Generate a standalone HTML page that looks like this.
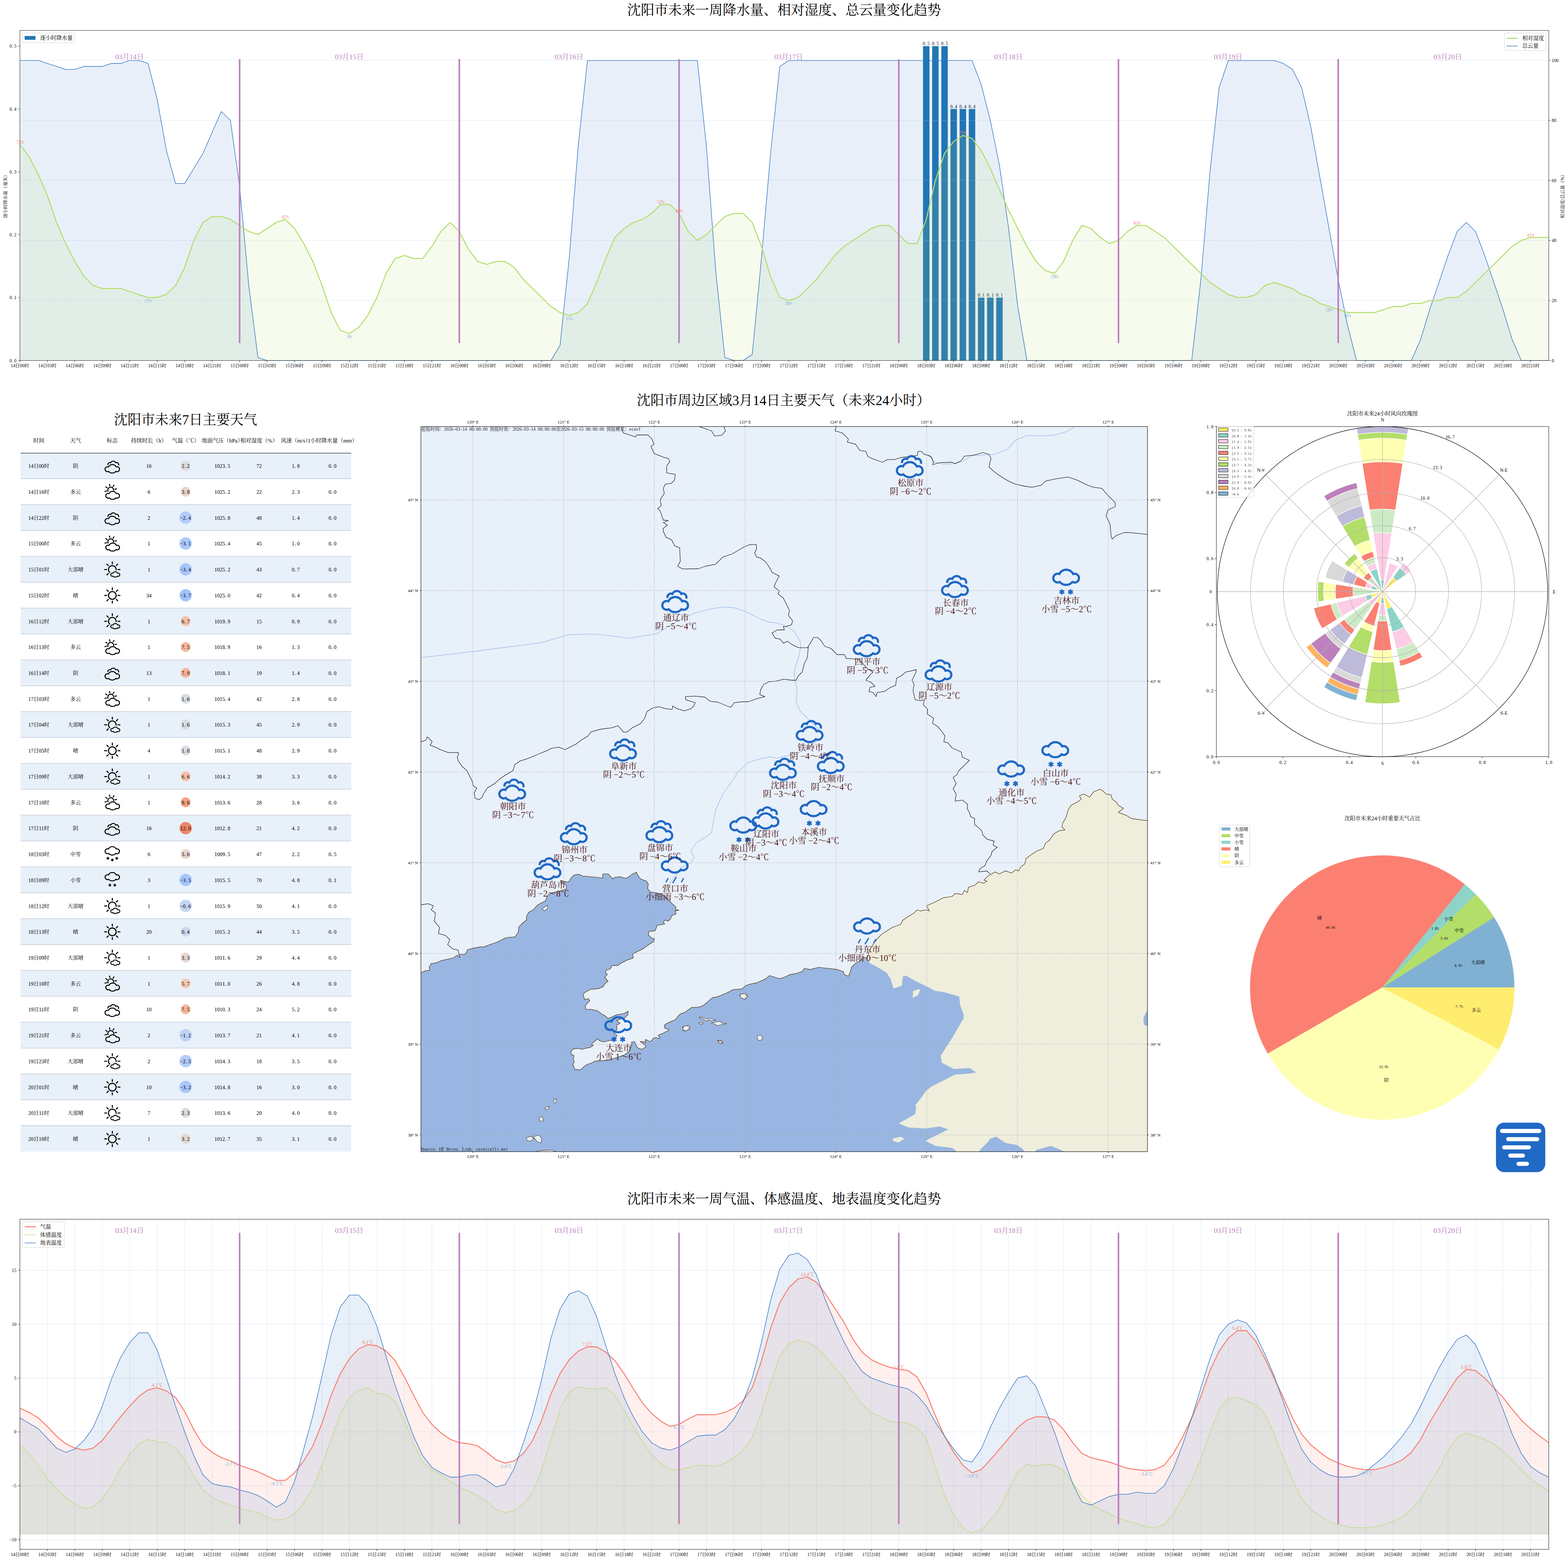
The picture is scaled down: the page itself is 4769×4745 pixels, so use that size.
<!DOCTYPE html><html lang="zh"><head><meta charset="utf-8"><title>沈阳市天气预报</title><style>html,body{margin:0;padding:0;background:#fff}body{width:4769px;height:4745px;overflow:hidden;font-family:"Liberation Serif","Noto Serif CJK SC",serif}svg{display:block}</style></head><body><svg xmlns="http://www.w3.org/2000/svg" width="4769" height="4745" viewBox="0 0 4769 4745" font-family="'Liberation Serif', 'Noto Serif CJK SC', serif" text-anchor="middle"><rect width="4769" height="4745" fill="#fff"/><rect x="2807.3" y="140.3" width="19.6" height="956.2" fill="#1f77b4"/>
<g fill="#000"><text x="2810.1 2815.7 2824.0" y="137.3" font-size="13.9">0.5</text></g>
<rect x="2835.1" y="140.3" width="19.6" height="956.2" fill="#1f77b4"/>
<g fill="#000"><text x="2838.0 2843.5 2851.9" y="137.3" font-size="13.9">0.5</text></g>
<rect x="2863.0" y="140.3" width="19.6" height="956.2" fill="#1f77b4"/>
<g fill="#000"><text x="2865.8 2871.4 2879.7" y="137.3" font-size="13.9">0.5</text></g>
<rect x="2890.8" y="331.5" width="19.6" height="765.0" fill="#1f77b4"/>
<g fill="#000"><text x="2893.7 2899.2 2907.6" y="328.5" font-size="13.9">0.4</text></g>
<rect x="2918.7" y="331.5" width="19.6" height="765.0" fill="#1f77b4"/>
<g fill="#000"><text x="2921.5 2927.1 2935.4" y="328.5" font-size="13.9">0.4</text></g>
<rect x="2946.5" y="331.5" width="19.6" height="765.0" fill="#1f77b4"/>
<g fill="#000"><text x="2949.4 2954.9 2963.3" y="328.5" font-size="13.9">0.4</text></g>
<rect x="2974.4" y="905.3" width="19.6" height="191.2" fill="#1f77b4"/>
<g fill="#000"><text x="2977.2 2982.8 2991.1" y="902.3" font-size="13.9">0.1</text></g>
<rect x="3002.2" y="905.3" width="19.6" height="191.2" fill="#1f77b4"/>
<g fill="#000"><text x="3005.0 3010.6 3018.9" y="902.3" font-size="13.9">0.1</text></g>
<rect x="3030.0" y="905.3" width="19.6" height="191.2" fill="#1f77b4"/>
<g fill="#000"><text x="3032.9 3038.5 3046.8" y="902.3" font-size="13.9">0.1</text></g>
<path d="M60.5,914.0H4710.5M60.5,731.4H4710.5M60.5,548.9H4710.5M60.5,366.3H4710.5M60.5,183.8H4710.5" stroke="#b4cdec" stroke-width="0.75" stroke-dasharray="3 1.3" fill="none"/>
<path d="M60.5,1096.5 60.5,183.8 88.3,183.8 116.2,183.8 144.0,192.9 171.9,202.1 199.7,211.2 227.6,211.2 255.4,202.1 283.3,202.1 311.1,202.1 338.9,192.9 366.8,192.9 394.6,183.8 422.5,183.8 450.3,192.9 478.2,302.5 506.0,457.6 533.9,558.0 561.7,558.0 589.5,512.4 617.4,466.7 645.2,402.8 673.1,339.0 700.9,366.3 728.8,567.1 756.6,868.3 784.5,1087.4 812.3,1096.5 840.1,1096.5 868.0,1096.5 895.8,1096.5 923.7,1096.5 951.5,1096.5 979.4,1096.5 1007.2,1096.5 1035.1,1096.5 1062.9,1096.5 1090.7,1096.5 1118.6,1096.5 1146.4,1096.5 1174.3,1096.5 1202.1,1096.5 1230.0,1096.5 1257.8,1096.5 1285.6,1096.5 1313.5,1096.5 1341.3,1096.5 1369.2,1096.5 1397.0,1096.5 1424.9,1096.5 1452.7,1096.5 1480.6,1096.5 1508.4,1096.5 1536.2,1096.5 1564.1,1096.5 1591.9,1096.5 1619.8,1096.5 1647.6,1096.5 1675.5,1096.5 1703.3,1050.9 1731.2,786.2 1759.0,439.4 1786.8,183.8 1814.7,183.8 1842.5,183.8 1870.4,183.8 1898.2,183.8 1926.1,183.8 1953.9,183.8 1981.8,183.8 2009.6,183.8 2037.4,183.8 2065.3,183.8 2093.1,183.8 2121.0,183.8 2148.8,448.5 2176.7,822.7 2204.5,1087.4 2232.4,1096.5 2260.2,1096.5 2288.0,1078.2 2315.9,786.2 2343.7,466.7 2371.6,202.1 2399.4,183.8 2427.3,183.8 2455.1,183.8 2483.0,183.8 2510.8,183.8 2538.6,183.8 2566.5,183.8 2594.3,183.8 2622.2,183.8 2650.0,183.8 2677.9,183.8 2705.7,183.8 2733.6,183.8 2761.4,183.8 2789.2,183.8 2817.1,183.8 2844.9,183.8 2872.8,183.8 2900.6,183.8 2928.5,183.8 2956.3,183.8 2984.2,256.8 3012.0,366.3 3039.8,503.2 3067.7,694.9 3095.5,932.2 3123.4,1096.5 3151.2,1096.5 3179.1,1096.5 3206.9,1096.5 3234.8,1096.5 3262.6,1096.5 3290.4,1096.5 3318.3,1096.5 3346.1,1096.5 3374.0,1096.5 3401.8,1096.5 3429.7,1096.5 3457.5,1096.5 3485.3,1096.5 3513.2,1096.5 3541.0,1096.5 3568.9,1096.5 3596.7,1096.5 3624.6,1096.5 3652.4,850.1 3680.3,521.5 3708.1,265.9 3735.9,183.8 3763.8,183.8 3791.6,183.8 3819.5,183.8 3847.3,183.8 3875.2,183.8 3903.0,192.9 3930.9,211.2 3958.7,265.9 3986.5,384.6 4014.4,539.8 4042.2,694.9 4070.1,850.1 4097.9,987.0 4125.8,1096.5 4153.6,1096.5 4181.5,1096.5 4209.3,1096.5 4237.1,1096.5 4265.0,1096.5 4292.8,1096.5 4320.7,1032.6 4348.5,941.3 4376.4,859.2 4404.2,777.1 4432.1,704.0 4459.9,676.7 4487.7,704.0 4515.6,777.1 4543.4,859.2 4571.3,941.3 4599.1,1032.6 4627.0,1096.5 4654.8,1096.5 4682.7,1096.5 4710.5,1096.5 4710.5,1096.5Z" fill="#2a6fc4" fill-opacity="0.11"/>
<path d="M60.5,1096.5 60.5,439.4 88.3,475.9 116.2,530.6 144.0,594.5 171.9,676.7 199.7,740.5 227.6,795.3 255.4,840.9 283.3,868.3 311.1,877.5 338.9,877.5 366.8,877.5 394.6,886.6 422.5,895.7 450.3,904.8 478.2,904.8 506.0,895.7 533.9,868.3 561.7,813.6 589.5,731.4 617.4,676.7 645.2,658.4 673.1,658.4 700.9,667.5 728.8,685.8 756.6,704.0 784.5,713.2 812.3,694.9 840.1,676.7 868.0,667.5 895.8,694.9 923.7,740.5 951.5,795.3 979.4,868.3 1007.2,950.5 1035.1,1005.2 1062.9,1014.4 1090.7,996.1 1118.6,959.6 1146.4,904.8 1174.3,831.8 1202.1,786.2 1230.0,777.1 1257.8,786.2 1285.6,786.2 1313.5,749.7 1341.3,704.0 1369.2,676.7 1397.0,704.0 1424.9,758.8 1452.7,795.3 1480.6,804.4 1508.4,795.3 1536.2,795.3 1564.1,813.6 1591.9,850.1 1619.8,877.5 1647.6,904.8 1675.5,932.2 1703.3,950.5 1731.2,959.6 1759.0,950.5 1786.8,923.1 1814.7,859.2 1842.5,786.2 1870.4,722.3 1898.2,694.9 1926.1,676.7 1953.9,667.5 1981.8,649.3 2009.6,621.9 2037.4,621.9 2065.3,649.3 2093.1,704.0 2121.0,731.4 2148.8,713.2 2176.7,685.8 2204.5,658.4 2232.4,649.3 2260.2,649.3 2288.0,676.7 2315.9,749.7 2343.7,840.9 2371.6,904.8 2399.4,914.0 2427.3,904.8 2455.1,877.5 2483.0,850.1 2510.8,813.6 2538.6,777.1 2566.5,749.7 2594.3,731.4 2622.2,713.2 2650.0,694.9 2677.9,685.8 2705.7,685.8 2733.6,713.2 2761.4,740.5 2789.2,740.5 2817.1,667.5 2844.9,548.9 2872.8,466.7 2900.6,430.2 2928.5,412.0 2956.3,421.1 2984.2,457.6 3012.0,512.4 3039.8,576.3 3067.7,640.1 3095.5,694.9 3123.4,749.7 3151.2,795.3 3179.1,822.7 3206.9,831.8 3234.8,795.3 3262.6,731.4 3290.4,685.8 3318.3,694.9 3346.1,722.3 3374.0,740.5 3401.8,731.4 3429.7,704.0 3457.5,685.8 3485.3,685.8 3513.2,704.0 3541.0,722.3 3568.9,749.7 3596.7,777.1 3624.6,804.4 3652.4,831.8 3680.3,859.2 3708.1,877.5 3735.9,895.7 3763.8,904.8 3791.6,904.8 3819.5,895.7 3847.3,868.3 3875.2,859.2 3903.0,868.3 3930.9,877.5 3958.7,895.7 3986.5,904.8 4014.4,923.1 4042.2,932.2 4070.1,941.3 4097.9,950.5 4125.8,950.5 4153.6,950.5 4181.5,950.5 4209.3,941.3 4237.1,932.2 4265.0,932.2 4292.8,923.1 4320.7,923.1 4348.5,914.0 4376.4,914.0 4404.2,904.8 4432.1,904.8 4459.9,886.6 4487.7,859.2 4515.6,831.8 4543.4,804.4 4571.3,777.1 4599.1,749.7 4627.0,731.4 4654.8,722.3 4682.7,722.3 4710.5,722.3 4710.5,1096.5Z" fill="#b3de69" fill-opacity="0.12"/>
<path d="M60.5,183.8 88.3,183.8 116.2,183.8 144.0,192.9 171.9,202.1 199.7,211.2 227.6,211.2 255.4,202.1 283.3,202.1 311.1,202.1 338.9,192.9 366.8,192.9 394.6,183.8 422.5,183.8 450.3,192.9 478.2,302.5 506.0,457.6 533.9,558.0 561.7,558.0 589.5,512.4 617.4,466.7 645.2,402.8 673.1,339.0 700.9,366.3 728.8,567.1 756.6,868.3 784.5,1087.4 812.3,1096.5 840.1,1096.5 868.0,1096.5 895.8,1096.5 923.7,1096.5 951.5,1096.5 979.4,1096.5 1007.2,1096.5 1035.1,1096.5 1062.9,1096.5 1090.7,1096.5 1118.6,1096.5 1146.4,1096.5 1174.3,1096.5 1202.1,1096.5 1230.0,1096.5 1257.8,1096.5 1285.6,1096.5 1313.5,1096.5 1341.3,1096.5 1369.2,1096.5 1397.0,1096.5 1424.9,1096.5 1452.7,1096.5 1480.6,1096.5 1508.4,1096.5 1536.2,1096.5 1564.1,1096.5 1591.9,1096.5 1619.8,1096.5 1647.6,1096.5 1675.5,1096.5 1703.3,1050.9 1731.2,786.2 1759.0,439.4 1786.8,183.8 1814.7,183.8 1842.5,183.8 1870.4,183.8 1898.2,183.8 1926.1,183.8 1953.9,183.8 1981.8,183.8 2009.6,183.8 2037.4,183.8 2065.3,183.8 2093.1,183.8 2121.0,183.8 2148.8,448.5 2176.7,822.7 2204.5,1087.4 2232.4,1096.5 2260.2,1096.5 2288.0,1078.2 2315.9,786.2 2343.7,466.7 2371.6,202.1 2399.4,183.8 2427.3,183.8 2455.1,183.8 2483.0,183.8 2510.8,183.8 2538.6,183.8 2566.5,183.8 2594.3,183.8 2622.2,183.8 2650.0,183.8 2677.9,183.8 2705.7,183.8 2733.6,183.8 2761.4,183.8 2789.2,183.8 2817.1,183.8 2844.9,183.8 2872.8,183.8 2900.6,183.8 2928.5,183.8 2956.3,183.8 2984.2,256.8 3012.0,366.3 3039.8,503.2 3067.7,694.9 3095.5,932.2 3123.4,1096.5 3151.2,1096.5 3179.1,1096.5 3206.9,1096.5 3234.8,1096.5 3262.6,1096.5 3290.4,1096.5 3318.3,1096.5 3346.1,1096.5 3374.0,1096.5 3401.8,1096.5 3429.7,1096.5 3457.5,1096.5 3485.3,1096.5 3513.2,1096.5 3541.0,1096.5 3568.9,1096.5 3596.7,1096.5 3624.6,1096.5 3652.4,850.1 3680.3,521.5 3708.1,265.9 3735.9,183.8 3763.8,183.8 3791.6,183.8 3819.5,183.8 3847.3,183.8 3875.2,183.8 3903.0,192.9 3930.9,211.2 3958.7,265.9 3986.5,384.6 4014.4,539.8 4042.2,694.9 4070.1,850.1 4097.9,987.0 4125.8,1096.5 4153.6,1096.5 4181.5,1096.5 4209.3,1096.5 4237.1,1096.5 4265.0,1096.5 4292.8,1096.5 4320.7,1032.6 4348.5,941.3 4376.4,859.2 4404.2,777.1 4432.1,704.0 4459.9,676.7 4487.7,704.0 4515.6,777.1 4543.4,859.2 4571.3,941.3 4599.1,1032.6 4627.0,1096.5 4654.8,1096.5 4682.7,1096.5 4710.5,1096.5" fill="none" stroke="#2a6fc4" stroke-width="1.6" stroke-linejoin="round"/>
<path d="M60.5,439.4 88.3,475.9 116.2,530.6 144.0,594.5 171.9,676.7 199.7,740.5 227.6,795.3 255.4,840.9 283.3,868.3 311.1,877.5 338.9,877.5 366.8,877.5 394.6,886.6 422.5,895.7 450.3,904.8 478.2,904.8 506.0,895.7 533.9,868.3 561.7,813.6 589.5,731.4 617.4,676.7 645.2,658.4 673.1,658.4 700.9,667.5 728.8,685.8 756.6,704.0 784.5,713.2 812.3,694.9 840.1,676.7 868.0,667.5 895.8,694.9 923.7,740.5 951.5,795.3 979.4,868.3 1007.2,950.5 1035.1,1005.2 1062.9,1014.4 1090.7,996.1 1118.6,959.6 1146.4,904.8 1174.3,831.8 1202.1,786.2 1230.0,777.1 1257.8,786.2 1285.6,786.2 1313.5,749.7 1341.3,704.0 1369.2,676.7 1397.0,704.0 1424.9,758.8 1452.7,795.3 1480.6,804.4 1508.4,795.3 1536.2,795.3 1564.1,813.6 1591.9,850.1 1619.8,877.5 1647.6,904.8 1675.5,932.2 1703.3,950.5 1731.2,959.6 1759.0,950.5 1786.8,923.1 1814.7,859.2 1842.5,786.2 1870.4,722.3 1898.2,694.9 1926.1,676.7 1953.9,667.5 1981.8,649.3 2009.6,621.9 2037.4,621.9 2065.3,649.3 2093.1,704.0 2121.0,731.4 2148.8,713.2 2176.7,685.8 2204.5,658.4 2232.4,649.3 2260.2,649.3 2288.0,676.7 2315.9,749.7 2343.7,840.9 2371.6,904.8 2399.4,914.0 2427.3,904.8 2455.1,877.5 2483.0,850.1 2510.8,813.6 2538.6,777.1 2566.5,749.7 2594.3,731.4 2622.2,713.2 2650.0,694.9 2677.9,685.8 2705.7,685.8 2733.6,713.2 2761.4,740.5 2789.2,740.5 2817.1,667.5 2844.9,548.9 2872.8,466.7 2900.6,430.2 2928.5,412.0 2956.3,421.1 2984.2,457.6 3012.0,512.4 3039.8,576.3 3067.7,640.1 3095.5,694.9 3123.4,749.7 3151.2,795.3 3179.1,822.7 3206.9,831.8 3234.8,795.3 3262.6,731.4 3290.4,685.8 3318.3,694.9 3346.1,722.3 3374.0,740.5 3401.8,731.4 3429.7,704.0 3457.5,685.8 3485.3,685.8 3513.2,704.0 3541.0,722.3 3568.9,749.7 3596.7,777.1 3624.6,804.4 3652.4,831.8 3680.3,859.2 3708.1,877.5 3735.9,895.7 3763.8,904.8 3791.6,904.8 3819.5,895.7 3847.3,868.3 3875.2,859.2 3903.0,868.3 3930.9,877.5 3958.7,895.7 3986.5,904.8 4014.4,923.1 4042.2,932.2 4070.1,941.3 4097.9,950.5 4125.8,950.5 4153.6,950.5 4181.5,950.5 4209.3,941.3 4237.1,932.2 4265.0,932.2 4292.8,923.1 4320.7,923.1 4348.5,914.0 4376.4,914.0 4404.2,904.8 4432.1,904.8 4459.9,886.6 4487.7,859.2 4515.6,831.8 4543.4,804.4 4571.3,777.1 4599.1,749.7 4627.0,731.4 4654.8,722.3 4682.7,722.3 4710.5,722.3" fill="none" stroke="#b3de69" stroke-width="3" stroke-linejoin="round"/>
<rect x="726.4" y="179.7" width="4.8" height="863.8" fill="#bc80bd"/>
<rect x="1394.6" y="179.7" width="4.8" height="863.8" fill="#bc80bd"/>
<rect x="2062.9" y="179.7" width="4.8" height="863.8" fill="#bc80bd"/>
<rect x="2731.2" y="179.7" width="4.8" height="863.8" fill="#bc80bd"/>
<rect x="3399.4" y="179.7" width="4.8" height="863.8" fill="#bc80bd"/>
<rect x="4067.7" y="179.7" width="4.8" height="863.8" fill="#bc80bd"/>
<g fill="#bc80bd" font-size="21.7"><text x="394.0" y="179.8">03月14日</text><text x="1062.2" y="179.8">03月15日</text><text x="1730.5" y="179.8">03月16日</text><text x="2398.7" y="179.8">03月17日</text><text x="3067.0" y="179.8">03月18日</text><text x="3735.3" y="179.8">03月19日</text><text x="4403.5" y="179.8">03月20日</text></g>
<g fill="#fb8072"><text x="53.0 60.5" y="436.8" font-size="15">72</text><text transform="translate(68.0,436.8) scale(0.6,1)" font-size="15">%</text></g>
<g fill="#80b1d3"><text x="442.8 450.3" y="919.2" font-size="15">21</text><text transform="translate(457.8,919.2) scale(0.6,1)" font-size="15">%</text></g>
<g fill="#fb8072"><text x="860.5 868.0" y="664.9" font-size="15">47</text><text transform="translate(875.5,664.9) scale(0.6,1)" font-size="15">%</text></g>
<g fill="#80b1d3"><text x="1059.1" y="1028.8" font-size="15">9</text><text transform="translate(1066.6,1028.8) scale(0.6,1)" font-size="15">%</text></g>
<g fill="#fb8072"><text x="2002.1 2009.6" y="619.3" font-size="15">52</text><text transform="translate(2017.1,619.3) scale(0.6,1)" font-size="15">%</text></g>
<g fill="#80b1d3"><text x="1723.7 1731.2" y="974.0" font-size="15">15</text><text transform="translate(1738.7,974.0) scale(0.6,1)" font-size="15">%</text></g>
<g fill="#fb8072"><text x="2057.8 2065.3" y="646.7" font-size="15">49</text><text transform="translate(2072.8,646.7) scale(0.6,1)" font-size="15">%</text></g>
<g fill="#80b1d3"><text x="2391.9 2399.4" y="928.4" font-size="15">20</text><text transform="translate(2406.9,928.4) scale(0.6,1)" font-size="15">%</text></g>
<g fill="#fb8072"><text x="2921.0 2928.5" y="409.4" font-size="15">75</text><text transform="translate(2936.0,409.4) scale(0.6,1)" font-size="15">%</text></g>
<g fill="#80b1d3"><text x="3199.4 3206.9" y="846.2" font-size="15">29</text><text transform="translate(3214.4,846.2) scale(0.6,1)" font-size="15">%</text></g>
<g fill="#fb8072"><text x="3450.0 3457.5" y="683.2" font-size="15">45</text><text transform="translate(3465.0,683.2) scale(0.6,1)" font-size="15">%</text></g>
<g fill="#80b1d3"><text x="4034.7 4042.2" y="946.6" font-size="15">18</text><text transform="translate(4049.7,946.6) scale(0.6,1)" font-size="15">%</text></g>
<g fill="#fb8072"><text x="4647.3 4654.8" y="719.7" font-size="15">41</text><text transform="translate(4662.3,719.7) scale(0.6,1)" font-size="15">%</text></g>
<g fill="#80b1d3"><text x="4090.4 4097.9" y="964.9" font-size="15">16</text><text transform="translate(4105.4,964.9) scale(0.6,1)" font-size="15">%</text></g>
<rect x="60.5" y="92.5" width="4650.0" height="1004.0" fill="none" stroke="#000" stroke-width="1"/>
<g fill="#000" font-size="13.9"><text x="60.5" y="1117.3">14日00时</text><text x="144.0" y="1117.3">14日03时</text><text x="227.6" y="1117.3">14日06时</text><text x="311.1" y="1117.3">14日09时</text><text x="394.6" y="1117.3">14日12时</text><text x="478.2" y="1117.3">14日15时</text><text x="561.7" y="1117.3">14日18时</text><text x="645.2" y="1117.3">14日21时</text><text x="728.8" y="1117.3">15日00时</text><text x="812.3" y="1117.3">15日03时</text><text x="895.8" y="1117.3">15日06时</text><text x="979.4" y="1117.3">15日09时</text><text x="1062.9" y="1117.3">15日12时</text><text x="1146.4" y="1117.3">15日15时</text><text x="1230.0" y="1117.3">15日18时</text><text x="1313.5" y="1117.3">15日21时</text><text x="1397.0" y="1117.3">16日00时</text><text x="1480.6" y="1117.3">16日03时</text><text x="1564.1" y="1117.3">16日06时</text><text x="1647.6" y="1117.3">16日09时</text><text x="1731.2" y="1117.3">16日12时</text><text x="1814.7" y="1117.3">16日15时</text><text x="1898.2" y="1117.3">16日18时</text><text x="1981.8" y="1117.3">16日21时</text><text x="2065.3" y="1117.3">17日00时</text><text x="2148.8" y="1117.3">17日03时</text><text x="2232.4" y="1117.3">17日06时</text><text x="2315.9" y="1117.3">17日09时</text><text x="2399.4" y="1117.3">17日12时</text><text x="2483.0" y="1117.3">17日15时</text><text x="2566.5" y="1117.3">17日18时</text><text x="2650.0" y="1117.3">17日21时</text><text x="2733.6" y="1117.3">18日00时</text><text x="2817.1" y="1117.3">18日03时</text><text x="2900.6" y="1117.3">18日06时</text><text x="2984.2" y="1117.3">18日09时</text><text x="3067.7" y="1117.3">18日12时</text><text x="3151.2" y="1117.3">18日15时</text><text x="3234.8" y="1117.3">18日18时</text><text x="3318.3" y="1117.3">18日21时</text><text x="3401.8" y="1117.3">19日00时</text><text x="3485.3" y="1117.3">19日03时</text><text x="3568.9" y="1117.3">19日06时</text><text x="3652.4" y="1117.3">19日09时</text><text x="3735.9" y="1117.3">19日12时</text><text x="3819.5" y="1117.3">19日15时</text><text x="3903.0" y="1117.3">19日18时</text><text x="3986.5" y="1117.3">19日21时</text><text x="4070.1" y="1117.3">20日00时</text><text x="4153.6" y="1117.3">20日03时</text><text x="4237.1" y="1117.3">20日06时</text><text x="4320.7" y="1117.3">20日09时</text><text x="4404.2" y="1117.3">20日12时</text><text x="4487.7" y="1117.3">20日15时</text><text x="4571.3" y="1117.3">20日18时</text><text x="4654.8" y="1117.3">20日21时</text></g>
<g fill="#000"><text x="32.6 38.2 46.5" y="1101.5" font-size="13.9">0.0</text></g>
<g fill="#000"><text x="32.6 38.2 46.5" y="910.3" font-size="13.9">0.1</text></g>
<g fill="#000"><text x="32.6 38.2 46.5" y="719.0" font-size="13.9">0.2</text></g>
<g fill="#000"><text x="32.6 38.2 46.5" y="527.8" font-size="13.9">0.3</text></g>
<g fill="#000"><text x="32.6 38.2 46.5" y="336.5" font-size="13.9">0.4</text></g>
<g fill="#000"><text x="32.6 38.2 46.5" y="145.3" font-size="13.9">0.5</text></g>
<g fill="#000"><text x="4723.0" y="1101.5" font-size="13.9">0</text></g>
<g fill="#000"><text x="4723.0 4729.9" y="919.0" font-size="13.9">20</text></g>
<g fill="#000"><text x="4723.0 4729.9" y="736.4" font-size="13.9">40</text></g>
<g fill="#000"><text x="4723.0 4729.9" y="553.9" font-size="13.9">60</text></g>
<g fill="#000"><text x="4723.0 4729.9" y="371.3" font-size="13.9">80</text></g>
<g fill="#000"><text x="4723.0 4729.9 4736.9" y="188.8" font-size="13.9">100</text></g>
<path d="M60.5,1096.5v5M144.0,1096.5v5M227.6,1096.5v5M311.1,1096.5v5M394.6,1096.5v5M478.2,1096.5v5M561.7,1096.5v5M645.2,1096.5v5M728.8,1096.5v5M812.3,1096.5v5M895.8,1096.5v5M979.4,1096.5v5M1062.9,1096.5v5M1146.4,1096.5v5M1230.0,1096.5v5M1313.5,1096.5v5M1397.0,1096.5v5M1480.6,1096.5v5M1564.1,1096.5v5M1647.6,1096.5v5M1731.2,1096.5v5M1814.7,1096.5v5M1898.2,1096.5v5M1981.8,1096.5v5M2065.3,1096.5v5M2148.8,1096.5v5M2232.4,1096.5v5M2315.9,1096.5v5M2399.4,1096.5v5M2483.0,1096.5v5M2566.5,1096.5v5M2650.0,1096.5v5M2733.6,1096.5v5M2817.1,1096.5v5M2900.6,1096.5v5M2984.2,1096.5v5M3067.7,1096.5v5M3151.2,1096.5v5M3234.8,1096.5v5M3318.3,1096.5v5M3401.8,1096.5v5M3485.3,1096.5v5M3568.9,1096.5v5M3652.4,1096.5v5M3735.9,1096.5v5M3819.5,1096.5v5M3903.0,1096.5v5M3986.5,1096.5v5M4070.1,1096.5v5M4153.6,1096.5v5M4237.1,1096.5v5M4320.7,1096.5v5M4404.2,1096.5v5M4487.7,1096.5v5M4571.3,1096.5v5M4654.8,1096.5v5M60.5,1096.5h-5M60.5,905.3h-5M60.5,714.0h-5M60.5,522.8h-5M60.5,331.5h-5M60.5,140.3h-5M4710.5,1096.5h5M4710.5,914.0h5M4710.5,731.4h5M4710.5,548.9h5M4710.5,366.3h5M4710.5,183.8h5" stroke="#000" stroke-width="1.1" fill="none"/>
<g fill="#000" transform="rotate(-90,16.0,594.0)"><text x="16.0" y="599.0" font-size="13.9">逐小时降水量（毫米）</text></g>
<g fill="#000" transform="rotate(-90,4752.0,594.0)"><text x="4752.0" y="599.0" font-size="13.9">相对湿度/总云量（%）</text></g>
<rect x="68.5" y="100.5" width="159" height="29.5" rx="3" fill="#fff" fill-opacity="0.8" stroke="#ccc" stroke-width="1"/>
<rect x="75" y="109.5" width="33" height="11.5" fill="#1f77b4"/>
<g fill="#000"><text x="122.0" y="121.4" font-size="16.5" text-anchor="start">逐小时降水量</text></g>
<rect x="4575.5" y="100.5" width="126.5" height="53" rx="3" fill="#fff" fill-opacity="0.8" stroke="#ccc" stroke-width="1"/>
<path d="M4582,116.5h34" stroke="#b3de69" stroke-width="3"/><path d="M4582,140h34" stroke="#2a6fc4" stroke-width="1.6"/>
<g fill="#000"><text x="4630.0" y="121.9" font-size="16.5" text-anchor="start">相对湿度</text></g>
<g fill="#000"><text x="4630.0" y="145.4" font-size="16.5" text-anchor="start">总云量</text></g>
<g fill="#000"><text x="564.3" y="1291.1" font-size="41.5">沈阳市未来7日主要天气</text></g>
<g fill="#000" font-size="16.7"><text x="118.0" y="1345.6">时间</text><text x="229.7" y="1345.6">天气</text><text x="341.3" y="1345.6">标志</text><text x="453.0" y="1345.6">持续时长（h）</text><text x="564.7" y="1345.6">气温（℃）</text><text x="676.3" y="1345.6">地面气压（hPa）</text><text x="787.9" y="1345.6">相对湿度（%）</text><text x="899.6" y="1345.6">风速（m/s）</text><text x="1011.2" y="1345.6">1小时降水量（mm）</text></g>
<rect x="62.7" y="1377.3" width="1005.6" height="78.7" fill="#e8f0fa"/>
<g fill="#000" font-size="16"><text x="118.0" y="1423.2">14日00时</text><text x="229.7" y="1423.2">阴</text></g>
<g transform="translate(341.6,1426.0) scale(0.0470) translate(-892,-822)" fill="none" stroke="#000" stroke-width="63.8"><path d="M640,700A282,282 0 0 1 1145,700A160,160 0 1 1 1120,990A310,310 0 0 1 655,990A160,160 0 1 1 640,700Z"/><path d="M610,575A130,130 0 0 1 790,430A178,178 0 0 1 1115,430A130,130 0 0 1 1290,600"/></g>
<g fill="#000"><text x="449.0 457.0" y="1423.2" font-size="16">16</text></g>
<circle cx="564.6" cy="1417.0" r="15" fill="#dddcdc"/>
<g fill="#000"><text x="556.6 563.0 572.6" y="1423.2" font-size="16">2.2</text></g>
<g fill="#000"><text x="656.2 664.2 672.2 680.2 686.6 696.2" y="1423.2" font-size="16">1023.5</text></g>
<g fill="#000"><text x="783.9 791.9" y="1423.2" font-size="16">72</text></g>
<g fill="#000"><text x="891.6 898.0 907.6" y="1423.2" font-size="16">1.8</text></g>
<g fill="#000"><text x="1003.2 1009.6 1019.2" y="1423.2" font-size="16">0.0</text></g>
<path d="M62.7,1456.0H1068.3" stroke="#c3ccd6" stroke-width="1.8"/>
<g fill="#000" font-size="16"><text x="118.0" y="1501.9">14日16时</text><text x="229.7" y="1501.9">多云</text></g>
<path d="M329.1,1495.2A8.9,8.9 0 1 1 345.5,1492.6" stroke="#000" stroke-width="3.0" fill="none"/>
<path d="M349.7,1488.0L354.4,1487.0M344.0,1479.7L346.6,1475.7M334.1,1477.9L333.1,1473.2M325.7,1483.6L321.7,1481.0M323.9,1493.5L319.2,1494.5" stroke="#000" stroke-width="3.0" stroke-linecap="round" fill="none"/>
<g transform="translate(342.7,1506.8) scale(0.0445) translate(-892,-822)" fill="none" stroke="#000" stroke-width="67.5"><path d="M640,700A282,282 0 0 1 1145,700A160,160 0 1 1 1120,990A310,310 0 0 1 655,990A160,160 0 1 1 640,700Z"/></g>
<g fill="#000"><text x="453.0" y="1501.9" font-size="16">6</text></g>
<circle cx="564.6" cy="1495.7" r="15" fill="#e9d5cb"/>
<g fill="#000"><text x="556.6 563.0 572.6" y="1501.9" font-size="16">3.8</text></g>
<g fill="#000"><text x="656.2 664.2 672.2 680.2 686.6 696.2" y="1501.9" font-size="16">1025.2</text></g>
<g fill="#000"><text x="783.9 791.9" y="1501.9" font-size="16">22</text></g>
<g fill="#000"><text x="891.6 898.0 907.6" y="1501.9" font-size="16">2.3</text></g>
<g fill="#000"><text x="1003.2 1009.6 1019.2" y="1501.9" font-size="16">0.0</text></g>
<rect x="62.7" y="1534.7" width="1005.6" height="78.7" fill="#e8f0fa"/>
<path d="M62.7,1534.7H1068.3" stroke="#c3ccd6" stroke-width="1.8"/>
<g fill="#000" font-size="16"><text x="118.0" y="1580.7">14日22时</text><text x="229.7" y="1580.7">阴</text></g>
<g transform="translate(341.6,1583.4) scale(0.0470) translate(-892,-822)" fill="none" stroke="#000" stroke-width="63.8"><path d="M640,700A282,282 0 0 1 1145,700A160,160 0 1 1 1120,990A310,310 0 0 1 655,990A160,160 0 1 1 640,700Z"/><path d="M610,575A130,130 0 0 1 790,430A178,178 0 0 1 1115,430A130,130 0 0 1 1290,600"/></g>
<g fill="#000"><text x="453.0" y="1580.7" font-size="16">2</text></g>
<circle cx="564.6" cy="1574.4" r="18.8" fill="#b2ccfb"/>
<g fill="#000"><text x="552.6 560.6 567.0 576.6" y="1580.7" font-size="16">−2.4</text></g>
<g fill="#000"><text x="656.2 664.2 672.2 680.2 686.6 696.2" y="1580.7" font-size="16">1025.8</text></g>
<g fill="#000"><text x="783.9 791.9" y="1580.7" font-size="16">48</text></g>
<g fill="#000"><text x="891.6 898.0 907.6" y="1580.7" font-size="16">1.4</text></g>
<g fill="#000"><text x="1003.2 1009.6 1019.2" y="1580.7" font-size="16">0.0</text></g>
<path d="M62.7,1613.5H1068.3" stroke="#c3ccd6" stroke-width="1.8"/>
<g fill="#000" font-size="16"><text x="118.0" y="1659.4">15日00时</text><text x="229.7" y="1659.4">多云</text></g>
<path d="M329.1,1652.7A8.9,8.9 0 1 1 345.5,1650.1" stroke="#000" stroke-width="3.0" fill="none"/>
<path d="M349.7,1645.5L354.4,1644.5M344.0,1637.1L346.6,1633.1M334.1,1635.3L333.1,1630.6M325.7,1641.0L321.7,1638.4M323.9,1651.0L319.2,1652.0" stroke="#000" stroke-width="3.0" stroke-linecap="round" fill="none"/>
<g transform="translate(342.7,1664.2) scale(0.0445) translate(-892,-822)" fill="none" stroke="#000" stroke-width="67.5"><path d="M640,700A282,282 0 0 1 1145,700A160,160 0 1 1 1120,990A310,310 0 0 1 655,990A160,160 0 1 1 640,700Z"/></g>
<g fill="#000"><text x="453.0" y="1659.4" font-size="16">1</text></g>
<circle cx="564.6" cy="1653.1" r="18.8" fill="#abc8fd"/>
<g fill="#000"><text x="552.6 560.6 567.0 576.6" y="1659.4" font-size="16">−3.1</text></g>
<g fill="#000"><text x="656.2 664.2 672.2 680.2 686.6 696.2" y="1659.4" font-size="16">1025.4</text></g>
<g fill="#000"><text x="783.9 791.9" y="1659.4" font-size="16">45</text></g>
<g fill="#000"><text x="891.6 898.0 907.6" y="1659.4" font-size="16">1.0</text></g>
<g fill="#000"><text x="1003.2 1009.6 1019.2" y="1659.4" font-size="16">0.0</text></g>
<rect x="62.7" y="1692.2" width="1005.6" height="78.7" fill="#e8f0fa"/>
<path d="M62.7,1692.2H1068.3" stroke="#c3ccd6" stroke-width="1.8"/>
<g fill="#000" font-size="16"><text x="118.0" y="1738.1">15日01时</text><text x="229.7" y="1738.1">大部晴</text></g>
<path d="M334.6,1741.7A11.7,11.7 0 1 1 353.0,1734.8" stroke="#000" stroke-width="3.2" fill="none"/>
<path d="M358.8,1732.3L364.8,1732.3M353.8,1720.2L358.0,1715.9M341.6,1715.1L341.6,1709.1M329.4,1720.2L325.2,1715.9M324.4,1732.3L318.4,1732.3M329.4,1744.5L325.2,1748.7" stroke="#000" stroke-width="3.2" stroke-linecap="round" fill="none"/>
<g transform="translate(350.7,1747.4) scale(0.0295) translate(-892,-822)" fill="none" stroke="#000" stroke-width="91.6"><path d="M640,700A282,282 0 0 1 1145,700A160,160 0 1 1 1120,990A310,310 0 0 1 655,990A160,160 0 1 1 640,700Z"/></g>
<g fill="#000"><text x="453.0" y="1738.1" font-size="16">1</text></g>
<circle cx="564.6" cy="1731.8" r="18.8" fill="#a9c6fd"/>
<g fill="#000"><text x="552.6 560.6 567.0 576.6" y="1738.1" font-size="16">−3.4</text></g>
<g fill="#000"><text x="656.2 664.2 672.2 680.2 686.6 696.2" y="1738.1" font-size="16">1025.2</text></g>
<g fill="#000"><text x="783.9 791.9" y="1738.1" font-size="16">43</text></g>
<g fill="#000"><text x="891.6 898.0 907.6" y="1738.1" font-size="16">0.7</text></g>
<g fill="#000"><text x="1003.2 1009.6 1019.2" y="1738.1" font-size="16">0.0</text></g>
<path d="M62.7,1770.9H1068.3" stroke="#c3ccd6" stroke-width="1.8"/>
<g fill="#000" font-size="16"><text x="118.0" y="1816.8">15日02时</text><text x="229.7" y="1816.8">晴</text></g>
<circle cx="341.6" cy="1811.06" r="11.7" fill="none" stroke="#000" stroke-width="3.2"/>
<path d="M358.8,1811.1L364.8,1811.1M353.8,1823.2L358.0,1827.5M341.6,1828.3L341.6,1834.3M329.4,1823.2L325.2,1827.5M324.4,1811.1L318.4,1811.1M329.4,1798.9L325.2,1794.7M341.6,1793.9L341.6,1787.9M353.8,1798.9L358.0,1794.7" stroke="#000" stroke-width="3.2" stroke-linecap="round" fill="none"/>
<g fill="#000"><text x="449.0 457.0" y="1816.8" font-size="16">34</text></g>
<circle cx="564.6" cy="1810.6" r="18.8" fill="#a5c3fe"/>
<g fill="#000"><text x="552.6 560.6 567.0 576.6" y="1816.8" font-size="16">−3.7</text></g>
<g fill="#000"><text x="656.2 664.2 672.2 680.2 686.6 696.2" y="1816.8" font-size="16">1025.0</text></g>
<g fill="#000"><text x="783.9 791.9" y="1816.8" font-size="16">42</text></g>
<g fill="#000"><text x="891.6 898.0 907.6" y="1816.8" font-size="16">0.4</text></g>
<g fill="#000"><text x="1003.2 1009.6 1019.2" y="1816.8" font-size="16">0.0</text></g>
<rect x="62.7" y="1849.6" width="1005.6" height="78.7" fill="#e8f0fa"/>
<path d="M62.7,1849.6H1068.3" stroke="#c3ccd6" stroke-width="1.8"/>
<g fill="#000" font-size="16"><text x="118.0" y="1895.5">16日12时</text><text x="229.7" y="1895.5">大部晴</text></g>
<path d="M334.6,1899.1A11.7,11.7 0 1 1 353.0,1892.2" stroke="#000" stroke-width="3.2" fill="none"/>
<path d="M358.8,1889.8L364.8,1889.8M353.8,1877.6L358.0,1873.4M341.6,1872.6L341.6,1866.6M329.4,1877.6L325.2,1873.4M324.4,1889.8L318.4,1889.8M329.4,1901.9L325.2,1906.2" stroke="#000" stroke-width="3.2" stroke-linecap="round" fill="none"/>
<g transform="translate(350.7,1904.8) scale(0.0295) translate(-892,-822)" fill="none" stroke="#000" stroke-width="91.6"><path d="M640,700A282,282 0 0 1 1145,700A160,160 0 1 1 1120,990A310,310 0 0 1 655,990A160,160 0 1 1 640,700Z"/></g>
<g fill="#000"><text x="453.0" y="1895.5" font-size="16">1</text></g>
<circle cx="564.6" cy="1889.3" r="15" fill="#f5c0a7"/>
<g fill="#000"><text x="556.6 563.0 572.6" y="1895.5" font-size="16">6.7</text></g>
<g fill="#000"><text x="656.2 664.2 672.2 680.2 686.6 696.2" y="1895.5" font-size="16">1019.9</text></g>
<g fill="#000"><text x="783.9 791.9" y="1895.5" font-size="16">15</text></g>
<g fill="#000"><text x="891.6 898.0 907.6" y="1895.5" font-size="16">0.9</text></g>
<g fill="#000"><text x="1003.2 1009.6 1019.2" y="1895.5" font-size="16">0.0</text></g>
<path d="M62.7,1928.3H1068.3" stroke="#c3ccd6" stroke-width="1.8"/>
<g fill="#000" font-size="16"><text x="118.0" y="1974.3">16日13时</text><text x="229.7" y="1974.3">多云</text></g>
<path d="M329.1,1967.5A8.9,8.9 0 1 1 345.5,1965.0" stroke="#000" stroke-width="3.0" fill="none"/>
<path d="M349.7,1960.4L354.4,1959.4M344.0,1952.0L346.6,1948.0M334.1,1950.2L333.1,1945.5M325.7,1955.9L321.7,1953.3M323.9,1965.8L319.2,1966.8" stroke="#000" stroke-width="3.0" stroke-linecap="round" fill="none"/>
<g transform="translate(342.7,1979.1) scale(0.0445) translate(-892,-822)" fill="none" stroke="#000" stroke-width="67.5"><path d="M640,700A282,282 0 0 1 1145,700A160,160 0 1 1 1120,990A310,310 0 0 1 655,990A160,160 0 1 1 640,700Z"/></g>
<g fill="#000"><text x="453.0" y="1974.3" font-size="16">1</text></g>
<circle cx="564.6" cy="1968.0" r="15" fill="#f7b99e"/>
<g fill="#000"><text x="556.6 563.0 572.6" y="1974.3" font-size="16">7.5</text></g>
<g fill="#000"><text x="656.2 664.2 672.2 680.2 686.6 696.2" y="1974.3" font-size="16">1018.9</text></g>
<g fill="#000"><text x="783.9 791.9" y="1974.3" font-size="16">16</text></g>
<g fill="#000"><text x="891.6 898.0 907.6" y="1974.3" font-size="16">1.3</text></g>
<g fill="#000"><text x="1003.2 1009.6 1019.2" y="1974.3" font-size="16">0.0</text></g>
<rect x="62.7" y="2007.1" width="1005.6" height="78.7" fill="#e8f0fa"/>
<path d="M62.7,2007.1H1068.3" stroke="#c3ccd6" stroke-width="1.8"/>
<g fill="#000" font-size="16"><text x="118.0" y="2053.0">16日14时</text><text x="229.7" y="2053.0">阴</text></g>
<g transform="translate(341.6,2055.7) scale(0.0470) translate(-892,-822)" fill="none" stroke="#000" stroke-width="63.8"><path d="M640,700A282,282 0 0 1 1145,700A160,160 0 1 1 1120,990A310,310 0 0 1 655,990A160,160 0 1 1 640,700Z"/><path d="M610,575A130,130 0 0 1 790,430A178,178 0 0 1 1115,430A130,130 0 0 1 1290,600"/></g>
<g fill="#000"><text x="449.0 457.0" y="2053.0" font-size="16">13</text></g>
<circle cx="564.6" cy="2046.7" r="15" fill="#f7b599"/>
<g fill="#000"><text x="556.6 563.0 572.6" y="2053.0" font-size="16">7.9</text></g>
<g fill="#000"><text x="656.2 664.2 672.2 680.2 686.6 696.2" y="2053.0" font-size="16">1018.1</text></g>
<g fill="#000"><text x="783.9 791.9" y="2053.0" font-size="16">19</text></g>
<g fill="#000"><text x="891.6 898.0 907.6" y="2053.0" font-size="16">1.4</text></g>
<g fill="#000"><text x="1003.2 1009.6 1019.2" y="2053.0" font-size="16">0.0</text></g>
<path d="M62.7,2085.8H1068.3" stroke="#c3ccd6" stroke-width="1.8"/>
<g fill="#000" font-size="16"><text x="118.0" y="2131.7">17日03时</text><text x="229.7" y="2131.7">多云</text></g>
<path d="M329.1,2125.0A8.9,8.9 0 1 1 345.5,2122.4" stroke="#000" stroke-width="3.0" fill="none"/>
<path d="M349.7,2117.8L354.4,2116.8M344.0,2109.5L346.6,2105.4M334.1,2107.6L333.1,2102.9M325.7,2113.4L321.7,2110.7M323.9,2123.3L319.2,2124.3" stroke="#000" stroke-width="3.0" stroke-linecap="round" fill="none"/>
<g transform="translate(342.7,2136.5) scale(0.0445) translate(-892,-822)" fill="none" stroke="#000" stroke-width="67.5"><path d="M640,700A282,282 0 0 1 1145,700A160,160 0 1 1 1120,990A310,310 0 0 1 655,990A160,160 0 1 1 640,700Z"/></g>
<g fill="#000"><text x="453.0" y="2131.7" font-size="16">1</text></g>
<circle cx="564.6" cy="2125.4" r="15" fill="#d8dce2"/>
<g fill="#000"><text x="556.6 563.0 572.6" y="2131.7" font-size="16">1.6</text></g>
<g fill="#000"><text x="656.2 664.2 672.2 680.2 686.6 696.2" y="2131.7" font-size="16">1015.4</text></g>
<g fill="#000"><text x="783.9 791.9" y="2131.7" font-size="16">42</text></g>
<g fill="#000"><text x="891.6 898.0 907.6" y="2131.7" font-size="16">2.8</text></g>
<g fill="#000"><text x="1003.2 1009.6 1019.2" y="2131.7" font-size="16">0.0</text></g>
<rect x="62.7" y="2164.5" width="1005.6" height="78.7" fill="#e8f0fa"/>
<path d="M62.7,2164.5H1068.3" stroke="#c3ccd6" stroke-width="1.8"/>
<g fill="#000" font-size="16"><text x="118.0" y="2210.4">17日04时</text><text x="229.7" y="2210.4">大部晴</text></g>
<path d="M334.6,2214.0A11.7,11.7 0 1 1 353.0,2207.1" stroke="#000" stroke-width="3.2" fill="none"/>
<path d="M358.8,2204.7L364.8,2204.7M353.8,2192.5L358.0,2188.3M341.6,2187.5L341.6,2181.5M329.4,2192.5L325.2,2188.3M324.4,2204.7L318.4,2204.7M329.4,2216.8L325.2,2221.1" stroke="#000" stroke-width="3.2" stroke-linecap="round" fill="none"/>
<g transform="translate(350.7,2219.7) scale(0.0295) translate(-892,-822)" fill="none" stroke="#000" stroke-width="91.6"><path d="M640,700A282,282 0 0 1 1145,700A160,160 0 1 1 1120,990A310,310 0 0 1 655,990A160,160 0 1 1 640,700Z"/></g>
<g fill="#000"><text x="453.0" y="2210.4" font-size="16">1</text></g>
<circle cx="564.6" cy="2204.2" r="15" fill="#d8dce2"/>
<g fill="#000"><text x="556.6 563.0 572.6" y="2210.4" font-size="16">1.6</text></g>
<g fill="#000"><text x="656.2 664.2 672.2 680.2 686.6 696.2" y="2210.4" font-size="16">1015.3</text></g>
<g fill="#000"><text x="783.9 791.9" y="2210.4" font-size="16">45</text></g>
<g fill="#000"><text x="891.6 898.0 907.6" y="2210.4" font-size="16">2.9</text></g>
<g fill="#000"><text x="1003.2 1009.6 1019.2" y="2210.4" font-size="16">0.0</text></g>
<path d="M62.7,2243.2H1068.3" stroke="#c3ccd6" stroke-width="1.8"/>
<g fill="#000" font-size="16"><text x="118.0" y="2289.1">17日05时</text><text x="229.7" y="2289.1">晴</text></g>
<circle cx="341.6" cy="2283.38" r="11.7" fill="none" stroke="#000" stroke-width="3.2"/>
<path d="M358.8,2283.4L364.8,2283.4M353.8,2295.5L358.0,2299.8M341.6,2300.6L341.6,2306.6M329.4,2295.5L325.2,2299.8M324.4,2283.4L318.4,2283.4M329.4,2271.2L325.2,2267.0M341.6,2266.2L341.6,2260.2M353.8,2271.2L358.0,2267.0" stroke="#000" stroke-width="3.2" stroke-linecap="round" fill="none"/>
<g fill="#000"><text x="453.0" y="2289.1" font-size="16">4</text></g>
<circle cx="564.6" cy="2282.9" r="15" fill="#d9dce1"/>
<g fill="#000"><text x="556.6 563.0 572.6" y="2289.1" font-size="16">1.8</text></g>
<g fill="#000"><text x="656.2 664.2 672.2 680.2 686.6 696.2" y="2289.1" font-size="16">1015.1</text></g>
<g fill="#000"><text x="783.9 791.9" y="2289.1" font-size="16">48</text></g>
<g fill="#000"><text x="891.6 898.0 907.6" y="2289.1" font-size="16">2.9</text></g>
<g fill="#000"><text x="1003.2 1009.6 1019.2" y="2289.1" font-size="16">0.0</text></g>
<rect x="62.7" y="2321.9" width="1005.6" height="78.7" fill="#e8f0fa"/>
<path d="M62.7,2321.9H1068.3" stroke="#c3ccd6" stroke-width="1.8"/>
<g fill="#000" font-size="16"><text x="118.0" y="2367.9">17日09时</text><text x="229.7" y="2367.9">大部晴</text></g>
<path d="M334.6,2371.4A11.7,11.7 0 1 1 353.0,2364.5" stroke="#000" stroke-width="3.2" fill="none"/>
<path d="M358.8,2362.1L364.8,2362.1M353.8,2349.9L358.0,2345.7M341.6,2344.9L341.6,2338.9M329.4,2349.9L325.2,2345.7M324.4,2362.1L318.4,2362.1M329.4,2374.3L325.2,2378.5" stroke="#000" stroke-width="3.2" stroke-linecap="round" fill="none"/>
<g transform="translate(350.7,2377.2) scale(0.0295) translate(-892,-822)" fill="none" stroke="#000" stroke-width="91.6"><path d="M640,700A282,282 0 0 1 1145,700A160,160 0 1 1 1120,990A310,310 0 0 1 655,990A160,160 0 1 1 640,700Z"/></g>
<g fill="#000"><text x="453.0" y="2367.9" font-size="16">1</text></g>
<circle cx="564.6" cy="2361.6" r="15" fill="#f5c1a9"/>
<g fill="#000"><text x="556.6 563.0 572.6" y="2367.9" font-size="16">6.6</text></g>
<g fill="#000"><text x="656.2 664.2 672.2 680.2 686.6 696.2" y="2367.9" font-size="16">1014.2</text></g>
<g fill="#000"><text x="783.9 791.9" y="2367.9" font-size="16">38</text></g>
<g fill="#000"><text x="891.6 898.0 907.6" y="2367.9" font-size="16">3.3</text></g>
<g fill="#000"><text x="1003.2 1009.6 1019.2" y="2367.9" font-size="16">0.0</text></g>
<path d="M62.7,2400.7H1068.3" stroke="#c3ccd6" stroke-width="1.8"/>
<g fill="#000" font-size="16"><text x="118.0" y="2446.6">17日10时</text><text x="229.7" y="2446.6">多云</text></g>
<path d="M329.1,2439.9A8.9,8.9 0 1 1 345.5,2437.3" stroke="#000" stroke-width="3.0" fill="none"/>
<path d="M349.7,2432.7L354.4,2431.7M344.0,2424.3L346.6,2420.3M334.1,2422.5L333.1,2417.8M325.7,2428.2L321.7,2425.6M323.9,2438.2L319.2,2439.2" stroke="#000" stroke-width="3.0" stroke-linecap="round" fill="none"/>
<g transform="translate(342.7,2451.4) scale(0.0445) translate(-892,-822)" fill="none" stroke="#000" stroke-width="67.5"><path d="M640,700A282,282 0 0 1 1145,700A160,160 0 1 1 1120,990A310,310 0 0 1 655,990A160,160 0 1 1 640,700Z"/></g>
<g fill="#000"><text x="453.0" y="2446.6" font-size="16">1</text></g>
<circle cx="564.6" cy="2440.3" r="15" fill="#f6a283"/>
<g fill="#000"><text x="556.6 563.0 572.6" y="2446.6" font-size="16">9.6</text></g>
<g fill="#000"><text x="656.2 664.2 672.2 680.2 686.6 696.2" y="2446.6" font-size="16">1013.6</text></g>
<g fill="#000"><text x="783.9 791.9" y="2446.6" font-size="16">28</text></g>
<g fill="#000"><text x="891.6 898.0 907.6" y="2446.6" font-size="16">3.6</text></g>
<g fill="#000"><text x="1003.2 1009.6 1019.2" y="2446.6" font-size="16">0.0</text></g>
<rect x="62.7" y="2479.4" width="1005.6" height="78.7" fill="#e8f0fa"/>
<path d="M62.7,2479.4H1068.3" stroke="#c3ccd6" stroke-width="1.8"/>
<g fill="#000" font-size="16"><text x="118.0" y="2525.3">17日11时</text><text x="229.7" y="2525.3">阴</text></g>
<g transform="translate(341.6,2528.0) scale(0.0470) translate(-892,-822)" fill="none" stroke="#000" stroke-width="63.8"><path d="M640,700A282,282 0 0 1 1145,700A160,160 0 1 1 1120,990A310,310 0 0 1 655,990A160,160 0 1 1 640,700Z"/><path d="M610,575A130,130 0 0 1 790,430A178,178 0 0 1 1115,430A130,130 0 0 1 1290,600"/></g>
<g fill="#000"><text x="449.0 457.0" y="2525.3" font-size="16">16</text></g>
<circle cx="564.6" cy="2519.0" r="18.8" fill="#ee8468"/>
<g fill="#000"><text x="552.6 560.6 567.0 576.6" y="2525.3" font-size="16">12.0</text></g>
<g fill="#000"><text x="656.2 664.2 672.2 680.2 686.6 696.2" y="2525.3" font-size="16">1012.8</text></g>
<g fill="#000"><text x="783.9 791.9" y="2525.3" font-size="16">21</text></g>
<g fill="#000"><text x="891.6 898.0 907.6" y="2525.3" font-size="16">4.2</text></g>
<g fill="#000"><text x="1003.2 1009.6 1019.2" y="2525.3" font-size="16">0.0</text></g>
<path d="M62.7,2558.1H1068.3" stroke="#c3ccd6" stroke-width="1.8"/>
<g fill="#000" font-size="16"><text x="118.0" y="2604.0">18日03时</text><text x="229.7" y="2604.0">中雪</text></g>
<g transform="translate(341.6,2588.1) scale(0.0466) translate(-892,-822)" fill="none" stroke="#000" stroke-width="64.3"><path d="M640,700A282,282 0 0 1 1145,700A160,160 0 1 1 1120,990A310,310 0 0 1 655,990A160,160 0 1 1 640,700Z"/></g>
<path d="M328.1,2607.2L328.1,2614.4M325.0,2609.0L331.2,2612.6M331.2,2609.0L325.0,2612.6" stroke="#000" stroke-width="2.2" stroke-linecap="round" fill="none"/>
<path d="M341.6,2612.2L341.6,2619.4M338.5,2614.0L344.7,2617.6M344.7,2614.0L338.5,2617.6" stroke="#000" stroke-width="2.2" stroke-linecap="round" fill="none"/>
<path d="M355.1,2607.2L355.1,2614.4M352.0,2609.0L358.2,2612.6M358.2,2609.0L352.0,2612.6" stroke="#000" stroke-width="2.2" stroke-linecap="round" fill="none"/>
<g fill="#000"><text x="453.0" y="2604.0" font-size="16">6</text></g>
<circle cx="564.6" cy="2597.8" r="15" fill="#e7d7ce"/>
<g fill="#000"><text x="556.6 563.0 572.6" y="2604.0" font-size="16">3.6</text></g>
<g fill="#000"><text x="656.2 664.2 672.2 680.2 686.6 696.2" y="2604.0" font-size="16">1009.5</text></g>
<g fill="#000"><text x="783.9 791.9" y="2604.0" font-size="16">47</text></g>
<g fill="#000"><text x="891.6 898.0 907.6" y="2604.0" font-size="16">2.2</text></g>
<g fill="#000"><text x="1003.2 1009.6 1019.2" y="2604.0" font-size="16">0.5</text></g>
<rect x="62.7" y="2636.8" width="1005.6" height="78.7" fill="#e8f0fa"/>
<path d="M62.7,2636.8H1068.3" stroke="#c3ccd6" stroke-width="1.8"/>
<g fill="#000" font-size="16"><text x="118.0" y="2682.7">18日09时</text><text x="229.7" y="2682.7">小雪</text></g>
<g transform="translate(341.6,2666.8) scale(0.0466) translate(-892,-822)" fill="none" stroke="#000" stroke-width="64.3"><path d="M640,700A282,282 0 0 1 1145,700A160,160 0 1 1 1120,990A310,310 0 0 1 655,990A160,160 0 1 1 640,700Z"/></g>
<path d="M334.1,2688.7L334.1,2695.9M331.0,2690.5L337.2,2694.1M337.2,2690.5L331.0,2694.1" stroke="#000" stroke-width="2.2" stroke-linecap="round" fill="none"/>
<path d="M349.1,2688.7L349.1,2695.9M346.0,2690.5L352.2,2694.1M352.2,2690.5L346.0,2694.1" stroke="#000" stroke-width="2.2" stroke-linecap="round" fill="none"/>
<g fill="#000"><text x="453.0" y="2682.7" font-size="16">3</text></g>
<circle cx="564.6" cy="2676.5" r="18.8" fill="#a7c5fe"/>
<g fill="#000"><text x="552.6 560.6 567.0 576.6" y="2682.7" font-size="16">−3.5</text></g>
<g fill="#000"><text x="656.2 664.2 672.2 680.2 686.6 696.2" y="2682.7" font-size="16">1015.5</text></g>
<g fill="#000"><text x="783.9 791.9" y="2682.7" font-size="16">70</text></g>
<g fill="#000"><text x="891.6 898.0 907.6" y="2682.7" font-size="16">4.8</text></g>
<g fill="#000"><text x="1003.2 1009.6 1019.2" y="2682.7" font-size="16">0.1</text></g>
<path d="M62.7,2715.5H1068.3" stroke="#c3ccd6" stroke-width="1.8"/>
<g fill="#000" font-size="16"><text x="118.0" y="2761.5">18日12时</text><text x="229.7" y="2761.5">大部晴</text></g>
<path d="M334.6,2765.0A11.7,11.7 0 1 1 353.0,2758.1" stroke="#000" stroke-width="3.2" fill="none"/>
<path d="M358.8,2755.7L364.8,2755.7M353.8,2743.5L358.0,2739.3M341.6,2738.5L341.6,2732.5M329.4,2743.5L325.2,2739.3M324.4,2755.7L318.4,2755.7M329.4,2767.9L325.2,2772.1" stroke="#000" stroke-width="3.2" stroke-linecap="round" fill="none"/>
<g transform="translate(350.7,2770.8) scale(0.0295) translate(-892,-822)" fill="none" stroke="#000" stroke-width="91.6"><path d="M640,700A282,282 0 0 1 1145,700A160,160 0 1 1 1120,990A310,310 0 0 1 655,990A160,160 0 1 1 640,700Z"/></g>
<g fill="#000"><text x="453.0" y="2761.5" font-size="16">1</text></g>
<circle cx="564.6" cy="2755.2" r="18.8" fill="#c5d6f2"/>
<g fill="#000"><text x="552.6 560.6 567.0 576.6" y="2761.5" font-size="16">−0.6</text></g>
<g fill="#000"><text x="656.2 664.2 672.2 680.2 686.6 696.2" y="2761.5" font-size="16">1015.9</text></g>
<g fill="#000"><text x="783.9 791.9" y="2761.5" font-size="16">50</text></g>
<g fill="#000"><text x="891.6 898.0 907.6" y="2761.5" font-size="16">4.1</text></g>
<g fill="#000"><text x="1003.2 1009.6 1019.2" y="2761.5" font-size="16">0.0</text></g>
<rect x="62.7" y="2794.3" width="1005.6" height="78.7" fill="#e8f0fa"/>
<path d="M62.7,2794.3H1068.3" stroke="#c3ccd6" stroke-width="1.8"/>
<g fill="#000" font-size="16"><text x="118.0" y="2840.2">18日13时</text><text x="229.7" y="2840.2">晴</text></g>
<circle cx="341.6" cy="2834.4200000000005" r="11.7" fill="none" stroke="#000" stroke-width="3.2"/>
<path d="M358.8,2834.4L364.8,2834.4M353.8,2846.6L358.0,2850.8M341.6,2851.6L341.6,2857.6M329.4,2846.6L325.2,2850.8M324.4,2834.4L318.4,2834.4M329.4,2822.3L325.2,2818.0M341.6,2817.2L341.6,2811.2M353.8,2822.3L358.0,2818.0" stroke="#000" stroke-width="3.2" stroke-linecap="round" fill="none"/>
<g fill="#000"><text x="449.0 457.0" y="2840.2" font-size="16">20</text></g>
<circle cx="564.6" cy="2833.9" r="15" fill="#cdd9ec"/>
<g fill="#000"><text x="556.6 563.0 572.6" y="2840.2" font-size="16">0.4</text></g>
<g fill="#000"><text x="656.2 664.2 672.2 680.2 686.6 696.2" y="2840.2" font-size="16">1015.2</text></g>
<g fill="#000"><text x="783.9 791.9" y="2840.2" font-size="16">44</text></g>
<g fill="#000"><text x="891.6 898.0 907.6" y="2840.2" font-size="16">3.5</text></g>
<g fill="#000"><text x="1003.2 1009.6 1019.2" y="2840.2" font-size="16">0.0</text></g>
<path d="M62.7,2873.0H1068.3" stroke="#c3ccd6" stroke-width="1.8"/>
<g fill="#000" font-size="16"><text x="118.0" y="2918.9">19日09时</text><text x="229.7" y="2918.9">大部晴</text></g>
<path d="M334.6,2922.5A11.7,11.7 0 1 1 353.0,2915.6" stroke="#000" stroke-width="3.2" fill="none"/>
<path d="M358.8,2913.1L364.8,2913.1M353.8,2901.0L358.0,2896.7M341.6,2895.9L341.6,2889.9M329.4,2901.0L325.2,2896.7M324.4,2913.1L318.4,2913.1M329.4,2925.3L325.2,2929.5" stroke="#000" stroke-width="3.2" stroke-linecap="round" fill="none"/>
<g transform="translate(350.7,2928.2) scale(0.0295) translate(-892,-822)" fill="none" stroke="#000" stroke-width="91.6"><path d="M640,700A282,282 0 0 1 1145,700A160,160 0 1 1 1120,990A310,310 0 0 1 655,990A160,160 0 1 1 640,700Z"/></g>
<g fill="#000"><text x="453.0" y="2918.9" font-size="16">1</text></g>
<circle cx="564.6" cy="2912.6" r="15" fill="#e5d8d1"/>
<g fill="#000"><text x="556.6 563.0 572.6" y="2918.9" font-size="16">3.3</text></g>
<g fill="#000"><text x="656.2 664.2 672.2 680.2 686.6 696.2" y="2918.9" font-size="16">1011.6</text></g>
<g fill="#000"><text x="783.9 791.9" y="2918.9" font-size="16">29</text></g>
<g fill="#000"><text x="891.6 898.0 907.6" y="2918.9" font-size="16">4.4</text></g>
<g fill="#000"><text x="1003.2 1009.6 1019.2" y="2918.9" font-size="16">0.0</text></g>
<rect x="62.7" y="2951.7" width="1005.6" height="78.7" fill="#e8f0fa"/>
<path d="M62.7,2951.7H1068.3" stroke="#c3ccd6" stroke-width="1.8"/>
<g fill="#000" font-size="16"><text x="118.0" y="2997.6">19日10时</text><text x="229.7" y="2997.6">多云</text></g>
<path d="M329.1,2990.9A8.9,8.9 0 1 1 345.5,2988.3" stroke="#000" stroke-width="3.0" fill="none"/>
<path d="M349.7,2983.7L354.4,2982.7M344.0,2975.4L346.6,2971.4M334.1,2973.5L333.1,2968.9M325.7,2979.3L321.7,2976.7M323.9,2989.2L319.2,2990.2" stroke="#000" stroke-width="3.0" stroke-linecap="round" fill="none"/>
<g transform="translate(342.7,3002.5) scale(0.0445) translate(-892,-822)" fill="none" stroke="#000" stroke-width="67.5"><path d="M640,700A282,282 0 0 1 1145,700A160,160 0 1 1 1120,990A310,310 0 0 1 655,990A160,160 0 1 1 640,700Z"/></g>
<g fill="#000"><text x="453.0" y="2997.6" font-size="16">1</text></g>
<circle cx="564.6" cy="2991.4" r="15" fill="#f2c9b4"/>
<g fill="#000"><text x="556.6 563.0 572.6" y="2997.6" font-size="16">5.7</text></g>
<g fill="#000"><text x="656.2 664.2 672.2 680.2 686.6 696.2" y="2997.6" font-size="16">1011.0</text></g>
<g fill="#000"><text x="783.9 791.9" y="2997.6" font-size="16">26</text></g>
<g fill="#000"><text x="891.6 898.0 907.6" y="2997.6" font-size="16">4.8</text></g>
<g fill="#000"><text x="1003.2 1009.6 1019.2" y="2997.6" font-size="16">0.0</text></g>
<path d="M62.7,3030.4H1068.3" stroke="#c3ccd6" stroke-width="1.8"/>
<g fill="#000" font-size="16"><text x="118.0" y="3076.3">19日11时</text><text x="229.7" y="3076.3">阴</text></g>
<g transform="translate(341.6,3079.1) scale(0.0470) translate(-892,-822)" fill="none" stroke="#000" stroke-width="63.8"><path d="M640,700A282,282 0 0 1 1145,700A160,160 0 1 1 1120,990A310,310 0 0 1 655,990A160,160 0 1 1 640,700Z"/><path d="M610,575A130,130 0 0 1 790,430A178,178 0 0 1 1115,430A130,130 0 0 1 1290,600"/></g>
<g fill="#000"><text x="449.0 457.0" y="3076.3" font-size="16">10</text></g>
<circle cx="564.6" cy="3070.1" r="15" fill="#f7b99e"/>
<g fill="#000"><text x="556.6 563.0 572.6" y="3076.3" font-size="16">7.5</text></g>
<g fill="#000"><text x="656.2 664.2 672.2 680.2 686.6 696.2" y="3076.3" font-size="16">1010.3</text></g>
<g fill="#000"><text x="783.9 791.9" y="3076.3" font-size="16">24</text></g>
<g fill="#000"><text x="891.6 898.0 907.6" y="3076.3" font-size="16">5.2</text></g>
<g fill="#000"><text x="1003.2 1009.6 1019.2" y="3076.3" font-size="16">0.0</text></g>
<rect x="62.7" y="3109.1" width="1005.6" height="78.7" fill="#e8f0fa"/>
<path d="M62.7,3109.1H1068.3" stroke="#c3ccd6" stroke-width="1.8"/>
<g fill="#000" font-size="16"><text x="118.0" y="3155.1">19日21时</text><text x="229.7" y="3155.1">多云</text></g>
<path d="M329.1,3148.3A8.9,8.9 0 1 1 345.5,3145.8" stroke="#000" stroke-width="3.0" fill="none"/>
<path d="M349.7,3141.2L354.4,3140.2M344.0,3132.8L346.6,3128.8M334.1,3131.0L333.1,3126.3M325.7,3136.7L321.7,3134.1M323.9,3146.6L319.2,3147.6" stroke="#000" stroke-width="3.0" stroke-linecap="round" fill="none"/>
<g transform="translate(342.7,3159.9) scale(0.0445) translate(-892,-822)" fill="none" stroke="#000" stroke-width="67.5"><path d="M640,700A282,282 0 0 1 1145,700A160,160 0 1 1 1120,990A310,310 0 0 1 655,990A160,160 0 1 1 640,700Z"/></g>
<g fill="#000"><text x="453.0" y="3155.1" font-size="16">2</text></g>
<circle cx="564.6" cy="3148.8" r="18.8" fill="#bfd3f6"/>
<g fill="#000"><text x="552.6 560.6 567.0 576.6" y="3155.1" font-size="16">−1.2</text></g>
<g fill="#000"><text x="656.2 664.2 672.2 680.2 686.6 696.2" y="3155.1" font-size="16">1013.7</text></g>
<g fill="#000"><text x="783.9 791.9" y="3155.1" font-size="16">21</text></g>
<g fill="#000"><text x="891.6 898.0 907.6" y="3155.1" font-size="16">4.1</text></g>
<g fill="#000"><text x="1003.2 1009.6 1019.2" y="3155.1" font-size="16">0.0</text></g>
<path d="M62.7,3187.9H1068.3" stroke="#c3ccd6" stroke-width="1.8"/>
<g fill="#000" font-size="16"><text x="118.0" y="3233.8">19日23时</text><text x="229.7" y="3233.8">大部晴</text></g>
<path d="M334.6,3237.4A11.7,11.7 0 1 1 353.0,3230.5" stroke="#000" stroke-width="3.2" fill="none"/>
<path d="M358.8,3228.0L364.8,3228.0M353.8,3215.9L358.0,3211.6M341.6,3210.8L341.6,3204.8M329.4,3215.9L325.2,3211.6M324.4,3228.0L318.4,3228.0M329.4,3240.2L325.2,3244.4" stroke="#000" stroke-width="3.2" stroke-linecap="round" fill="none"/>
<g transform="translate(350.7,3243.1) scale(0.0295) translate(-892,-822)" fill="none" stroke="#000" stroke-width="91.6"><path d="M640,700A282,282 0 0 1 1145,700A160,160 0 1 1 1120,990A310,310 0 0 1 655,990A160,160 0 1 1 640,700Z"/></g>
<g fill="#000"><text x="453.0" y="3233.8" font-size="16">2</text></g>
<circle cx="564.6" cy="3227.5" r="18.8" fill="#b2ccfb"/>
<g fill="#000"><text x="552.6 560.6 567.0 576.6" y="3233.8" font-size="16">−2.5</text></g>
<g fill="#000"><text x="656.2 664.2 672.2 680.2 686.6 696.2" y="3233.8" font-size="16">1014.3</text></g>
<g fill="#000"><text x="783.9 791.9" y="3233.8" font-size="16">18</text></g>
<g fill="#000"><text x="891.6 898.0 907.6" y="3233.8" font-size="16">3.5</text></g>
<g fill="#000"><text x="1003.2 1009.6 1019.2" y="3233.8" font-size="16">0.0</text></g>
<rect x="62.7" y="3266.6" width="1005.6" height="78.7" fill="#e8f0fa"/>
<path d="M62.7,3266.6H1068.3" stroke="#c3ccd6" stroke-width="1.8"/>
<g fill="#000" font-size="16"><text x="118.0" y="3312.5">20日01时</text><text x="229.7" y="3312.5">晴</text></g>
<circle cx="341.6" cy="3306.7400000000002" r="11.7" fill="none" stroke="#000" stroke-width="3.2"/>
<path d="M358.8,3306.7L364.8,3306.7M353.8,3318.9L358.0,3323.1M341.6,3323.9L341.6,3329.9M329.4,3318.9L325.2,3323.1M324.4,3306.7L318.4,3306.7M329.4,3294.6L325.2,3290.3M341.6,3289.5L341.6,3283.5M353.8,3294.6L358.0,3290.3" stroke="#000" stroke-width="3.2" stroke-linecap="round" fill="none"/>
<g fill="#000"><text x="449.0 457.0" y="3312.5" font-size="16">10</text></g>
<circle cx="564.6" cy="3306.2" r="18.8" fill="#aac7fd"/>
<g fill="#000"><text x="552.6 560.6 567.0 576.6" y="3312.5" font-size="16">−3.2</text></g>
<g fill="#000"><text x="656.2 664.2 672.2 680.2 686.6 696.2" y="3312.5" font-size="16">1014.8</text></g>
<g fill="#000"><text x="783.9 791.9" y="3312.5" font-size="16">16</text></g>
<g fill="#000"><text x="891.6 898.0 907.6" y="3312.5" font-size="16">3.0</text></g>
<g fill="#000"><text x="1003.2 1009.6 1019.2" y="3312.5" font-size="16">0.0</text></g>
<path d="M62.7,3345.3H1068.3" stroke="#c3ccd6" stroke-width="1.8"/>
<g fill="#000" font-size="16"><text x="118.0" y="3391.2">20日11时</text><text x="229.7" y="3391.2">大部晴</text></g>
<path d="M334.6,3394.8A11.7,11.7 0 1 1 353.0,3387.9" stroke="#000" stroke-width="3.2" fill="none"/>
<path d="M358.8,3385.5L364.8,3385.5M353.8,3373.3L358.0,3369.1M341.6,3368.3L341.6,3362.3M329.4,3373.3L325.2,3369.1M324.4,3385.5L318.4,3385.5M329.4,3397.6L325.2,3401.9" stroke="#000" stroke-width="3.2" stroke-linecap="round" fill="none"/>
<g transform="translate(350.7,3400.5) scale(0.0295) translate(-892,-822)" fill="none" stroke="#000" stroke-width="91.6"><path d="M640,700A282,282 0 0 1 1145,700A160,160 0 1 1 1120,990A310,310 0 0 1 655,990A160,160 0 1 1 640,700Z"/></g>
<g fill="#000"><text x="453.0" y="3391.2" font-size="16">7</text></g>
<circle cx="564.6" cy="3385.0" r="15" fill="#dddcdc"/>
<g fill="#000"><text x="556.6 563.0 572.6" y="3391.2" font-size="16">2.3</text></g>
<g fill="#000"><text x="656.2 664.2 672.2 680.2 686.6 696.2" y="3391.2" font-size="16">1013.6</text></g>
<g fill="#000"><text x="783.9 791.9" y="3391.2" font-size="16">20</text></g>
<g fill="#000"><text x="891.6 898.0 907.6" y="3391.2" font-size="16">4.0</text></g>
<g fill="#000"><text x="1003.2 1009.6 1019.2" y="3391.2" font-size="16">0.0</text></g>
<rect x="62.7" y="3424.0" width="1005.6" height="78.7" fill="#e8f0fa"/>
<path d="M62.7,3424.0H1068.3" stroke="#c3ccd6" stroke-width="1.8"/>
<g fill="#000" font-size="16"><text x="118.0" y="3469.9">20日18时</text><text x="229.7" y="3469.9">晴</text></g>
<circle cx="341.6" cy="3464.1800000000003" r="11.7" fill="none" stroke="#000" stroke-width="3.2"/>
<path d="M358.8,3464.2L364.8,3464.2M353.8,3476.3L358.0,3480.6M341.6,3481.4L341.6,3487.4M329.4,3476.3L325.2,3480.6M324.4,3464.2L318.4,3464.2M329.4,3452.0L325.2,3447.8M341.6,3447.0L341.6,3441.0M353.8,3452.0L358.0,3447.8" stroke="#000" stroke-width="3.2" stroke-linecap="round" fill="none"/>
<g fill="#000"><text x="453.0" y="3469.9" font-size="16">1</text></g>
<circle cx="564.6" cy="3463.7" r="15" fill="#e4d9d2"/>
<g fill="#000"><text x="556.6 563.0 572.6" y="3469.9" font-size="16">3.2</text></g>
<g fill="#000"><text x="656.2 664.2 672.2 680.2 686.6 696.2" y="3469.9" font-size="16">1012.7</text></g>
<g fill="#000"><text x="783.9 791.9" y="3469.9" font-size="16">35</text></g>
<g fill="#000"><text x="891.6 898.0 907.6" y="3469.9" font-size="16">3.1</text></g>
<g fill="#000"><text x="1003.2 1009.6 1019.2" y="3469.9" font-size="16">0.0</text></g>
<path d="M62.7,1378.4H1068.3" stroke="#000" stroke-width="1.4"/>
<clipPath id="mc"><rect x="1280.3" y="1297.4" width="2209.7" height="2205.6"/></clipPath>
<g clip-path="url(#mc)">
<rect x="1280.3" y="1297.4" width="2209.7" height="2205.6" fill="#e8f0fa"/>
<path d="M1278.3,2958.7 1280.4,2958.7 1294.8,2952.5 1307.3,2951.3 1305.2,2943.0 1311.4,2930.6 1328.0,2928.5 1340.4,2922.3 1359.0,2918.1 1377.7,2914.0 1390.1,2905.7 1399.2,2912.3 1395.1,2902.4 1410.8,2903.6 1419.1,2897.4 1421.1,2889.2 1435.6,2885.0 1460.5,2880.0 1472.9,2880.0 1485.3,2874.7 1510.2,2866.4 1539.2,2851.9 1566.1,2849.8 1576.4,2835.3 1578.5,2818.8 1588.8,2808.4 1601.3,2798.1 1601.3,2787.7 1607.5,2775.3 1622.0,2767.0 1636.5,2751.7 1659.2,2740.1 1665.4,2723.5 1679.9,2715.2 1700.6,2711.1 1713.1,2707.0 1723.4,2702.8 1721.3,2690.4 1708.9,2686.3 1704.8,2678.0 1721.3,2682.1 1729.6,2682.1 1737.9,2669.7 1746.2,2661.4 1760.7,2659.3 1773.1,2664.7 1808.3,2667.6 1833.1,2670.9 1833.1,2658.1 1849.7,2658.1 1864.2,2673.8 1868.3,2668.9 1887.0,2666.8 1903.5,2671.8 1916.0,2664.7 1924.2,2658.1 1935.8,2653.1 1940.0,2663.5 1949.1,2673.8 1965.7,2680.0 1971.9,2688.3 1969.8,2702.8 1978.1,2713.2 1998.8,2716.1 2015.3,2721.4 2027.8,2731.8 2044.3,2748.4 2055.9,2758.7 2054.7,2767.0 2065.0,2768.2 2052.6,2771.1 2056.7,2779.4 2042.3,2785.6 2040.2,2793.9 2031.9,2802.2 2023.6,2798.1 2017.4,2804.3 2021.6,2810.5 1998.8,2814.6 1992.6,2831.2 1973.9,2833.3 1971.9,2843.6 1982.2,2854.0 1990.5,2856.0 1988.4,2864.3 1973.9,2872.6 1957.4,2885.0 1936.7,2895.4 1924.2,2901.6 1926.3,2914.0 1907.7,2920.2 1891.1,2928.5 1878.7,2936.8 1862.1,2936.8 1855.9,2947.1 1843.5,2951.3 1841.4,2959.5 1847.6,2963.7 1839.4,2972.0 1845.6,2980.2 1849.7,2984.4 1839.4,2992.7 1835.2,3001.0 1820.7,3007.2 1795.9,3009.2 1777.2,3020.0 1773.7,3026.4 1778.3,3040.5 1789.3,3037.4 1794.0,3043.6 1780.5,3057.7 1781.5,3070.1 1798.6,3070.1 1817.4,3074.8 1833.0,3085.8 1839.2,3088.9 1850.1,3098.2 1873.6,3087.3 1898.5,3082.6 1910.4,3075.8 1909.5,3087.3 1898.5,3096.7 1886.1,3099.8 1875.1,3104.5 1886.1,3112.3 1875.1,3118.5 1876.7,3131.0 1867.3,3142.0 1876.7,3149.8 1870.4,3159.1 1854.8,3165.4 1836.1,3169.1 1825.2,3166.9 1817.4,3159.8 1811.1,3165.4 1803.3,3171.6 1798.6,3177.9 1804.9,3179.4 1795.5,3185.7 1779.9,3188.8 1769.0,3191.9 1759.6,3188.8 1744.0,3190.3 1736.2,3198.2 1737.8,3207.5 1745.6,3210.6 1744.0,3221.6 1747.1,3230.9 1742.4,3237.2 1748.7,3252.8 1765.9,3254.3 1773.7,3246.5 1783.0,3238.7 1797.1,3234.1 1811.1,3227.2 1829.9,3226.2 1848.6,3224.7 1861.1,3221.6 1879.8,3215.3 1898.5,3209.1 1912.6,3199.7 1922.0,3177.9 1920.4,3170.1 1929.8,3168.5 1934.4,3177.9 1939.1,3187.2 1951.6,3191.9 1962.5,3185.7 1964.1,3181.0 1956.3,3174.7 1946.9,3167.9 1957.9,3168.5 1964.1,3171.6 1962.5,3162.2 1968.8,3163.8 1976.6,3168.5 1981.3,3165.4 1987.5,3157.6 1995.3,3156.0 2004.7,3159.1 2007.8,3156.0 2001.6,3149.8 2006.2,3146.6 2015.6,3143.5 2023.4,3138.8 2034.3,3134.2 2032.8,3131.0 2021.9,3127.9 2020.3,3118.5 2026.5,3113.9 2039.0,3107.6 2054.6,3101.4 2062.4,3090.4 2071.8,3082.6 2082.7,3079.5 2095.2,3070.1 2104.6,3063.9 2117.1,3063.9 2129.6,3062.3 2142.1,3056.1 2154.5,3045.2 2167.0,3034.2 2179.5,3032.7 2195.1,3026.4 2210.7,3020.2 2217.0,3017.1 2229.5,3009.9 2245.1,3009.3 2257.6,3007.7 2266.9,2998.3 2280.0,2993.7 2301.3,2989.3 2329.4,2976.8 2340.0,2967.4 2371.2,2976.8 2386.8,2971.8 2402.4,2964.3 2421.2,2961.2 2439.9,2954.9 2446.1,2945.6 2464.9,2948.7 2489.8,2942.4 2521.0,2945.6 2546.0,2948.7 2564.7,2954.9 2567.9,2964.3 2580.4,2969.3 2586.6,2954.9 2589.7,2942.4 2602.2,2930.0 2614.7,2923.7 2627.2,2911.2 2636.5,2914.4 3492.0,2914.4 3492.0,3505.0 1278.3,3505.0Z" fill="#98b6e1"/>
<path d="M2636.5,2914.4 2645.9,2889.4 2658.4,2867.5 2677.1,2845.7 2689.6,2836.3 2714.6,2820.7 2739.6,2811.3 2745.8,2798.9 2764.5,2786.4 2780.1,2777.0 2789.5,2767.6 2798.9,2770.8 2817.6,2767.6 2827.0,2770.8 2817.6,2755.2 2839.4,2745.8 2870.7,2730.2 2895.6,2727.1 2905.0,2717.7 2926.8,2720.8 2933.1,2708.3 2942.4,2714.6 2945.6,2699.0 2964.3,2692.7 2976.8,2682.1 2992.4,2686.5 3001.8,2680.2 2992.4,2677.1 3004.9,2664.6 3026.7,2652.2 3039.2,2658.4 3057.9,2649.0 3076.7,2655.3 3089.2,2645.9 3098.5,2649.0 3104.8,2636.5 3117.3,2627.2 3120.4,2611.6 3132.9,2602.2 3151.6,2589.7 3173.4,2580.4 3179.7,2564.7 3192.2,2555.4 3204.7,2536.7 3220.3,2527.3 3239.0,2524.2 3229.6,2514.8 3232.7,2502.3 3242.1,2486.7 3248.4,2464.9 3257.7,2449.3 3276.4,2439.9 3288.9,2430.5 3282.7,2421.2 3295.2,2414.9 3313.9,2424.3 3326.4,2408.7 3345.1,2400.6 3354.5,2405.6 3363.9,2414.9 3379.5,2418.0 3382.6,2430.5 3395.1,2439.9 3401.3,2449.3 3416.9,2458.6 3401.3,2471.1 3426.3,2480.5 3441.9,2489.8 3463.7,2493.0 3490.6,2496.1 3492.0,2496.1 3492.0,3505.0 2911.2,3505.0 2911.2,3506.2 2905.0,3498.1 2895.6,3491.8 2845.7,3485.6 2814.5,3470.0 2839.4,3457.5 2884.4,3435.6 2858.2,3426.3 2814.5,3432.5 2764.5,3429.4 2733.3,3416.9 2783.3,3388.8 2786.4,3373.2 2784.5,3360.7 2802.0,3338.9 2814.5,3320.2 2833.2,3304.5 2876.9,3282.7 2905.0,3268.3 2951.8,3265.2 2969.3,3262.1 2948.7,3248.4 2901.9,3251.5 2864.4,3232.7 2861.3,3210.9 2895.6,3157.8 2930.0,3098.5 2931.2,3086.0 2920.6,3057.9 2917.5,3031.1 2870.7,3017.4 2845.7,3014.2 2814.5,2998.6 2777.0,2979.9 2755.2,2967.4 2745.8,2970.5 2742.7,2998.6 2717.7,3006.8 2708.3,2976.8 2695.9,2958.1 2664.6,2939.3 2645.9,2930.0 2636.5,2914.4Z" fill="#efeedc"/>
<path d="M2973.7,3506.2 2989.3,3488.7 3004.9,3473.1 3011.1,3463.7 3029.9,3457.5 3057.9,3476.2 3092.3,3482.5 3111.0,3495.0 3117.3,3506.2 3117.3,3506.0 2973.7,3506.0Z" fill="#98b6e1"/>
<path d="M3145.3,3506.2 3151.6,3498.1 3195.3,3485.6 3220.3,3495.0 3245.2,3506.2 3245.2,3506.0 3145.3,3506.0Z" fill="#98b6e1"/>
<path d="M3490.6,3070.4 3477.5,3095.4 3479.3,3117.3 3490.6,3120.4 3493.0,3120.4 3493.0,3070.4Z" fill="#98b6e1"/>
<path d="M2777.0,3014.2 2798.9,3008.0 2792.6,3026.7 2775.8,3036.1Z" fill="#efeedc"/>
<path d="M2714.6,3463.7 2739.6,3457.5 2750.2,3463.7 2733.3,3475.0 2717.7,3471.2Z" fill="#efeedc"/>
<path d="M1280.6,2000.3 1439.8,1981.6 1645.8,1954.7 1730.1,1930.4 1808.1,1928.5 1914.2,1941.0 1998.5,1927.3 2051.6,1894.2 2114.0,1864.2 2164.0,1851.7 2201.4,1846.1 2232.6,1848.6 2267.0,1859.9 2310.7,1881.7 2338.8,1892.9 2358.7,1894.2 2389.9,1903.6 2414.9,1919.2 2433.6,1950.4 2434.9,1969.1 2430.5,1994.1 2418.0,2031.5 2414.9,2056.5 2424.3,2100.2 2421.2,2137.7 2433.6,2162.6 2464.9,2193.9 2496.1,2225.1 2505.4,2234.4 2483.6,2256.3 2433.6,2287.5 2402.4,2296.9 2361.9,2306.2 2343.8,2301.9 2313.8,2308.1 2276.3,2318.7 2238.9,2353.0 2238.9,2358.7 2198.3,2414.9 2176.4,2464.9 2164.0,2533.5 2117.1,2564.7 2101.5,2586.6 2110.9,2608.4 2101.5,2624.1 2070.3,2639.7 2045.3,2677.1 2032.9,2692.7" fill="none" stroke="#9dbbe6" stroke-width="1.6" stroke-linejoin="round"/>
<path d="M3270.2,1297.4 3242.1,1313.6 3207.8,1323.0 3170.3,1326.1 3123.5,1324.8 3089.2,1338.6 3064.2,1366.7 3023.6,1382.3 2989.3,1383.5 2954.9,1386.6 2926.8,1404.1 2901.9,1410.4 2864.4,1411.6 2839.4,1404.1 2833.2,1388.5 2814.5,1379.1" fill="none" stroke="#9dbbe6" stroke-width="1.6" stroke-linejoin="round"/>
<path d="M2076.5,3123.2 2085.9,3120.1 2095.2,3118.5 2098.3,3123.2 2096.8,3131.0 2089.0,3132.6 2082.7,3136.6 2077.1,3134.2Z" fill="#e8f0fa" stroke="#4a2a08" stroke-width="1.1"/>
<path d="M2126.4,3093.6 2138.9,3095.1 2148.3,3099.8 2163.9,3098.2 2176.4,3102.9 2167.0,3104.5 2154.5,3102.9 2148.3,3106.1 2138.9,3099.8 2129.6,3097.3Z" fill="#e8f0fa" stroke="#4a2a08" stroke-width="1.1"/>
<path d="M2162.3,3112.3 2179.5,3108.5 2192.0,3106.7 2195.1,3112.3 2210.7,3113.9 2192.0,3117.0 2181.1,3120.1 2176.4,3115.4Z" fill="#e8f0fa" stroke="#4a2a08" stroke-width="1.1"/>
<path d="M2249.8,3026.4 2260.7,3022.4 2271.6,3024.9 2273.2,3031.1 2266.9,3038.9 2257.6,3037.4 2252.9,3032.7Z" fill="#e8f0fa" stroke="#4a2a08" stroke-width="1.1"/>
<path d="M2182.6,3165.4 2190.4,3163.8 2198.3,3169.1 2196.7,3174.1 2187.3,3171.6Z" fill="#e8f0fa" stroke="#4a2a08" stroke-width="1.1"/>
<path d="M2124.9,3110.7 2135.8,3109.8 2138.9,3113.9 2129.6,3115.4Z" fill="#e8f0fa" stroke="#4a2a08" stroke-width="1.1"/>
<path d="M1648.9,2764.5 1657.0,2758.3 1665.8,2753.3 1664.5,2764.5 1655.2,2770.8Z" fill="#e8f0fa" stroke="#4a2a08" stroke-width="1.1"/>
<path d="M2251.4,3023.6 2267.0,3022.4 2273.2,3033.0 2263.9,3039.2 2252.6,3034.2Z" fill="#e8f0fa" stroke="#4a2a08" stroke-width="1.1"/>
<path d="M2304.4,3150.3 2315.0,3148.5 2320.0,3161.0 2308.8,3165.3 2302.6,3159.1Z" fill="#e8f0fa" stroke="#4a2a08" stroke-width="1.1"/>
<path d="M2183.9,3165.3 2195.2,3167.2 2198.3,3173.4 2187.7,3172.2Z" fill="#e8f0fa" stroke="#4a2a08" stroke-width="1.1"/>
<path d="M2077.8,3123.5 2089.0,3119.1 2098.4,3127.9 2085.9,3136.0 2076.6,3131.6Z" fill="#e8f0fa" stroke="#4a2a08" stroke-width="1.1"/>
<path d="M1657.0,3370.1 1670.8,3363.9 1667.6,3373.2 1658.3,3375.1Z" fill="#e8f0fa" stroke="#4a2a08" stroke-width="1.1"/>
<path d="M1639.6,3400.1 1648.9,3396.3 1653.3,3408.8 1642.7,3410.7Z" fill="#e8f0fa" stroke="#4a2a08" stroke-width="1.1"/>
<path d="M1600.8,3460.6 1614.6,3456.2 1623.9,3463.7 1613.3,3471.2 1603.3,3468.7Z" fill="#e8f0fa" stroke="#4a2a08" stroke-width="1.1"/>
<path d="M1622.1,3457.5 1639.6,3452.5 1647.0,3463.7 1645.8,3476.2 1634.6,3473.1Z" fill="#e8f0fa" stroke="#4a2a08" stroke-width="1.1"/>
<path d="M1683.3,3346.4 1692.6,3342.0 1690.7,3354.5 1684.5,3354.5Z" fill="#e8f0fa" stroke="#4a2a08" stroke-width="1.1"/>
<path d="M1620.8,3506.2 1639.6,3499.9 1677.0,3498.1 1698.9,3506.2Z" fill="#e8f0fa" stroke="#4a2a08" stroke-width="1.1"/>
<path d="M1280.4,2958.7 1294.8,2952.5 1307.3,2951.3 1305.2,2943.0 1311.4,2930.6 1328.0,2928.5 1340.4,2922.3 1359.0,2918.1 1377.7,2914.0 1390.1,2905.7 1399.2,2912.3 1395.1,2902.4 1410.8,2903.6 1419.1,2897.4 1421.1,2889.2 1435.6,2885.0 1460.5,2880.0 1472.9,2880.0 1485.3,2874.7 1510.2,2866.4 1539.2,2851.9 1566.1,2849.8 1576.4,2835.3 1578.5,2818.8 1588.8,2808.4 1601.3,2798.1 1601.3,2787.7 1607.5,2775.3 1622.0,2767.0 1636.5,2751.7 1659.2,2740.1 1665.4,2723.5 1679.9,2715.2 1700.6,2711.1 1713.1,2707.0 1723.4,2702.8 1721.3,2690.4 1708.9,2686.3 1704.8,2678.0 1721.3,2682.1 1729.6,2682.1 1737.9,2669.7 1746.2,2661.4 1760.7,2659.3 1773.1,2664.7 1808.3,2667.6 1833.1,2670.9 1833.1,2658.1 1849.7,2658.1 1864.2,2673.8 1868.3,2668.9 1887.0,2666.8 1903.5,2671.8 1916.0,2664.7 1924.2,2658.1 1935.8,2653.1 1940.0,2663.5 1949.1,2673.8 1965.7,2680.0 1971.9,2688.3 1969.8,2702.8 1978.1,2713.2 1998.8,2716.1 2015.3,2721.4 2027.8,2731.8 2044.3,2748.4 2055.9,2758.7 2054.7,2767.0 2065.0,2768.2 2052.6,2771.1 2056.7,2779.4 2042.3,2785.6 2040.2,2793.9 2031.9,2802.2 2023.6,2798.1 2017.4,2804.3 2021.6,2810.5 1998.8,2814.6 1992.6,2831.2 1973.9,2833.3 1971.9,2843.6 1982.2,2854.0 1990.5,2856.0 1988.4,2864.3 1973.9,2872.6 1957.4,2885.0 1936.7,2895.4 1924.2,2901.6 1926.3,2914.0 1907.7,2920.2 1891.1,2928.5 1878.7,2936.8 1862.1,2936.8 1855.9,2947.1 1843.5,2951.3 1841.4,2959.5 1847.6,2963.7 1839.4,2972.0 1845.6,2980.2 1849.7,2984.4 1839.4,2992.7 1835.2,3001.0 1820.7,3007.2 1795.9,3009.2 1777.2,3020.0 1773.7,3026.4 1778.3,3040.5 1789.3,3037.4 1794.0,3043.6 1780.5,3057.7 1781.5,3070.1 1798.6,3070.1 1817.4,3074.8 1833.0,3085.8 1839.2,3088.9 1850.1,3098.2 1873.6,3087.3 1898.5,3082.6 1910.4,3075.8 1909.5,3087.3 1898.5,3096.7 1886.1,3099.8 1875.1,3104.5 1886.1,3112.3 1875.1,3118.5 1876.7,3131.0 1867.3,3142.0 1876.7,3149.8 1870.4,3159.1 1854.8,3165.4 1836.1,3169.1 1825.2,3166.9 1817.4,3159.8 1811.1,3165.4 1803.3,3171.6 1798.6,3177.9 1804.9,3179.4 1795.5,3185.7 1779.9,3188.8 1769.0,3191.9 1759.6,3188.8 1744.0,3190.3 1736.2,3198.2 1737.8,3207.5 1745.6,3210.6 1744.0,3221.6 1747.1,3230.9 1742.4,3237.2 1748.7,3252.8 1765.9,3254.3 1773.7,3246.5 1783.0,3238.7 1797.1,3234.1 1811.1,3227.2 1829.9,3226.2 1848.6,3224.7 1861.1,3221.6 1879.8,3215.3 1898.5,3209.1 1912.6,3199.7 1922.0,3177.9 1920.4,3170.1 1929.8,3168.5 1934.4,3177.9 1939.1,3187.2 1951.6,3191.9 1962.5,3185.7 1964.1,3181.0 1956.3,3174.7 1946.9,3167.9 1957.9,3168.5 1964.1,3171.6 1962.5,3162.2 1968.8,3163.8 1976.6,3168.5 1981.3,3165.4 1987.5,3157.6 1995.3,3156.0 2004.7,3159.1 2007.8,3156.0 2001.6,3149.8 2006.2,3146.6 2015.6,3143.5 2023.4,3138.8 2034.3,3134.2 2032.8,3131.0 2021.9,3127.9 2020.3,3118.5 2026.5,3113.9 2039.0,3107.6 2054.6,3101.4 2062.4,3090.4 2071.8,3082.6 2082.7,3079.5 2095.2,3070.1 2104.6,3063.9 2117.1,3063.9 2129.6,3062.3 2142.1,3056.1 2154.5,3045.2 2167.0,3034.2 2179.5,3032.7 2195.1,3026.4 2210.7,3020.2 2217.0,3017.1 2229.5,3009.9 2245.1,3009.3 2257.6,3007.7 2266.9,2998.3 2280.0,2993.7 2301.3,2989.3 2329.4,2976.8 2340.0,2967.4 2371.2,2976.8 2386.8,2971.8 2402.4,2964.3 2421.2,2961.2 2439.9,2954.9 2446.1,2945.6 2464.9,2948.7 2489.8,2942.4 2521.0,2945.6 2546.0,2948.7 2564.7,2954.9 2567.9,2964.3 2580.4,2969.3 2586.6,2954.9 2589.7,2942.4 2602.2,2930.0 2614.7,2923.7 2627.2,2911.2 2636.5,2914.4M2636.5,2914.4 2645.9,2889.4 2658.4,2867.5 2677.1,2845.7 2689.6,2836.3 2714.6,2820.7 2739.6,2811.3 2745.8,2798.9 2764.5,2786.4 2780.1,2777.0 2789.5,2767.6 2798.9,2770.8 2817.6,2767.6 2827.0,2770.8 2817.6,2755.2 2839.4,2745.8 2870.7,2730.2 2895.6,2727.1 2905.0,2717.7 2926.8,2720.8 2933.1,2708.3 2942.4,2714.6 2945.6,2699.0 2964.3,2692.7 2976.8,2682.1 2992.4,2686.5 3001.8,2680.2 2992.4,2677.1 3004.9,2664.6 3026.7,2652.2 3039.2,2658.4 3057.9,2649.0 3076.7,2655.3 3089.2,2645.9 3098.5,2649.0 3104.8,2636.5 3117.3,2627.2 3120.4,2611.6 3132.9,2602.2 3151.6,2589.7 3173.4,2580.4 3179.7,2564.7 3192.2,2555.4 3204.7,2536.7 3220.3,2527.3 3239.0,2524.2 3229.6,2514.8 3232.7,2502.3 3242.1,2486.7 3248.4,2464.9 3257.7,2449.3 3276.4,2439.9 3288.9,2430.5 3282.7,2421.2 3295.2,2414.9 3313.9,2424.3 3326.4,2408.7 3345.1,2400.6 3354.5,2405.6 3363.9,2414.9 3379.5,2418.0 3382.6,2430.5 3395.1,2439.9 3401.3,2449.3 3416.9,2458.6 3401.3,2471.1 3426.3,2480.5 3441.9,2489.8 3463.7,2493.0 3490.6,2496.1" fill="none" stroke="#4a2a08" stroke-width="1.4" stroke-linejoin="round"/>
<path d="M3011.1,2658.4 3001.8,2649.0 2976.8,2652.2 2979.9,2642.8 2995.5,2633.4 3001.8,2617.8 3014.2,2602.2 3017.4,2589.7 3033.0,2577.2 3020.5,2571.0 3023.6,2558.5 3001.8,2552.3 2989.3,2539.8 2986.2,2527.3 2976.8,2517.9 2964.3,2508.6 2964.3,2489.8 2951.8,2483.6 2948.7,2471.1 2942.4,2461.7 2942.4,2446.1 2926.8,2433.6 2905.0,2436.8 2908.1,2414.9 2898.7,2399.3 2908.1,2383.7 2898.7,2365.0 2911.2,2355.6 2914.4,2346.2 2920.6,2340.0 2948.7,2312.5 2926.8,2303.1 2923.7,2287.5 2895.6,2275.0 2883.1,2259.4 2870.7,2256.3 2873.8,2237.6 2864.4,2225.1 2851.9,2209.5 2836.3,2200.1 2839.4,2184.5 2820.7,2172.0 2820.7,2156.4 2808.2,2143.9 2811.3,2128.3 2798.9,2131.4 2783.3,2128.3 2777.0,2100.2 2780.1,2081.5 2773.9,2069.0 2786.4,2044.0 2786.4,2036.5 2770.8,2040.9 2755.2,2044.0 2739.6,2056.5 2727.1,2062.7 2723.9,2084.6 2708.3,2090.8 2689.6,2103.3 2667.8,2106.4 2664.6,2118.9 2655.3,2106.4 2642.8,2103.3 2645.9,2090.8 2661.5,2087.7 2649.0,2075.2 2633.4,2069.0 2645.9,2053.4 2655.3,2044.0 2639.7,2034.7 2630.3,2025.3 2614.7,2006.6 2589.7,2003.4 2574.1,2003.4 2567.9,1991.0 2546.0,1991.0 2527.3,1972.2 2508.6,1966.0 2496.1,1947.3 2486.7,1939.1 2474.2,1939.1 2468.0,1950.4 2458.6,1966.0 2455.5,2000.3 2446.1,2019.0 2439.9,2044.0 2427.4,2056.5 2421.2,2069.0 2408.7,2069.0 2383.7,2065.9 2358.7,2072.1 2340.0,2073.4 2323.2,2081.5 2313.8,2097.1 2310.7,2112.7 2326.3,2118.9 2301.3,2125.2 2276.3,2134.5 2257.6,2134.5 2232.6,2137.7 2228.3,2145.2 2221.3,2151.5 2184.1,2136.0 2159.2,2132.9 2143.7,2120.5 2115.8,2117.4 2084.7,2118.6 2085.9,2128.6 2114.5,2137.3 2109.5,2148.4 2100.2,2155.9 2081.6,2162.1 2059.9,2155.9 2046.2,2147.2 2044.3,2157.8 2025.7,2155.9 2004.0,2149.7 1985.3,2153.4 1967.9,2164.0 1960.5,2185.7 1948.1,2201.2 1923.2,2213.7 1907.7,2226.1 1897.1,2227.3 1879.7,2207.4 1861.1,2213.7 1826.9,2218.0 1797.7,2226.1 1786.6,2240.4 1767.9,2250.9 1752.4,2263.3 1736.9,2270.8 1718.2,2280.1 1699.6,2272.7 1677.9,2275.8 1662.3,2283.8 1640.6,2292.5 1606.4,2306.8 1581.6,2314.9 1566.1,2325.5 1559.9,2344.1 1544.3,2353.4 1531.9,2360.9 1516.4,2372.0 1507.1,2381.4 1482.2,2396.9 1469.8,2415.5 1466.7,2424.8 1457.4,2432.3 1445.0,2427.9 1441.9,2412.4 1449.9,2396.9 1440.0,2390.7 1435.6,2375.1 1426.3,2356.5 1420.1,2344.1 1404.6,2330.4 1394.0,2314.9 1390.9,2302.5 1395.3,2291.3 1392.2,2288.8 1364.2,2289.4 1339.4,2280.1 1323.8,2272.7 1308.3,2266.4 1314.5,2255.3 1299.0,2241.6 1295.9,2250.9 1280.4,2257.1" fill="none" stroke="#000" stroke-width="1.3" stroke-linejoin="round"/>
<path d="M1280.6,2752.0 1302.4,2748.9 1318.0,2755.2 1311.8,2767.6 1324.3,2777.0 1321.2,2802.0 1336.8,2820.7 1333.6,2839.4 1355.5,2845.7 1368.0,2858.2 1361.7,2873.8 1377.3,2886.3 1393.0,2889.4 1396.1,2901.9" fill="none" stroke="#000" stroke-width="1.3" stroke-linejoin="round"/>
<path d="M1889.3,1297.4 1895.5,1316.7 1933.0,1329.2 1936.1,1323.0 1970.4,1323.0 1982.9,1335.4 1989.2,1351.0 1979.8,1357.3 1989.2,1379.1 2020.4,1391.6 2032.9,1394.7 2037.2,1404.1 2027.9,1416.6 2027.9,1438.4 2053.5,1442.8 2051.6,1460.3 2042.2,1469.7 2023.5,1472.8 2017.3,1485.3 2020.4,1500.9 2007.9,1519.6 2011.0,1538.3 2000.4,1546.5 2007.9,1553.9 2017.3,1582.0 2032.9,1583.3 2017.3,1589.5 2029.7,1597.6 2017.3,1607.0 2017.3,1616.4 2026.6,1635.1 2042.2,1641.3 2051.6,1660.1 2067.2,1666.3 2069.1,1706.9 2061.0,1722.5 2076.6,1730.6 2123.4,1730.0 2145.2,1722.5 2176.4,1716.3 2198.3,1694.4 2226.4,1685.0 2263.9,1663.2 2279.5,1657.0 2299.4,1655.7 2301.3,1669.4 2295.1,1681.9 2301.3,1694.4 2313.8,1697.5 2329.4,1710.0 2341.9,1728.7 2348.1,1741.2 2370.0,1751.8 2360.6,1769.3 2354.4,1784.9 2370.0,1797.4 2366.9,1806.8 2382.5,1819.3 2391.8,1838.0 2401.2,1856.7 2398.1,1872.3 2410.6,1887.9 2407.4,1900.4 2388.7,1906.7 2382.5,1905.4 2385.6,1916.0 2363.7,1916.0 2348.1,1925.4 2357.5,1941.0 2373.1,1944.1 2382.5,1956.6 2395.0,1950.4 2407.4,1959.7 2426.2,1969.1 2430.5,1970.4 2455.5,1970.4 2458.6,1966.0" fill="none" stroke="#000" stroke-width="1.3" stroke-linejoin="round"/>
<path d="M2126.5,1297.4 2145.2,1304.2 2164.0,1310.5 2173.3,1326.1 2195.2,1324.2 2206.4,1310.5 2201.4,1297.4" fill="none" stroke="#000" stroke-width="1.3" stroke-linejoin="round"/>
<path d="M2542.9,1297.4 2539.8,1310.5 2561.6,1316.7 2580.4,1335.4 2577.2,1344.8 2602.2,1351.0 2614.7,1369.8 2633.4,1372.9 2639.7,1388.5 2652.2,1394.7 2683.4,1406.0 2699.0,1397.9 2720.8,1397.9 2739.6,1391.6 2789.5,1385.4 2792.6,1372.9 2802.0,1372.9 2811.3,1382.3 2823.8,1385.4 2833.2,1391.6 2839.4,1407.2 2836.3,1413.5 2858.2,1407.2 2895.6,1406.0 2905.0,1410.4 2923.7,1401.0 2933.1,1387.3 2954.9,1385.4 2970.5,1382.3 2989.3,1376.0 3008.0,1382.3 3014.2,1394.7 3008.0,1419.7 3020.5,1432.2 3033.0,1441.6 3051.7,1454.1 3067.3,1463.4 3089.2,1472.8 3117.3,1479.0 3139.1,1482.2 3167.2,1475.9 3179.7,1463.4 3207.8,1457.2 3248.4,1450.9 3276.4,1460.3 3307.7,1475.9 3326.4,1482.2 3351.4,1485.3 3363.9,1500.9 3379.5,1516.5 3391.9,1529.0 3391.9,1541.5 3370.1,1550.8 3363.9,1569.6 3376.3,1594.5 3379.5,1632.0 3382.6,1639.5 3395.1,1628.9 3420.0,1619.5 3445.0,1620.7 3490.6,1625.7" fill="none" stroke="#000" stroke-width="1.3" stroke-linejoin="round"/>
<path d="M1437.9,1297.4V3503.0M1714.0,1297.4V3503.0M1990.1,1297.4V3503.0M2266.2,1297.4V3503.0M2542.3,1297.4V3503.0M2818.4,1297.4V3503.0M3094.5,1297.4V3503.0M3370.6,1297.4V3503.0M1280.3,3452.2H3490.0M1280.3,3176.2H3490.0M1280.3,2900.2H3490.0M1280.3,2624.2H3490.0M1280.3,2348.2H3490.0M1280.3,2072.2H3490.0M1280.3,1796.2H3490.0M1280.3,1520.2H3490.0" stroke="#a6a6a6" stroke-width="0.9" stroke-dasharray="4.5 2.5" fill="none"/>
</g>
<g transform="translate(2053.7,1839.1) scale(0.0833) translate(-892,-822)" fill="none" stroke="#2169c4" stroke-width="80.5"><path d="M640,700A282,282 0 0 1 1145,700A160,160 0 1 1 1120,990A310,310 0 0 1 655,990A160,160 0 1 1 640,700Z"/><path d="M610,575A130,130 0 0 1 790,430A178,178 0 0 1 1115,430A130,130 0 0 1 1290,600"/></g>
<g transform="translate(1895.1,2290.5) scale(0.0833) translate(-892,-822)" fill="none" stroke="#2169c4" stroke-width="80.5"><path d="M640,700A282,282 0 0 1 1145,700A160,160 0 1 1 1120,990A310,310 0 0 1 655,990A160,160 0 1 1 640,700Z"/><path d="M610,575A130,130 0 0 1 790,430A178,178 0 0 1 1115,430A130,130 0 0 1 1290,600"/></g>
<g transform="translate(2767.2,1428.9) scale(0.0833) translate(-892,-822)" fill="none" stroke="#2169c4" stroke-width="80.5"><path d="M640,700A282,282 0 0 1 1145,700A160,160 0 1 1 1120,990A310,310 0 0 1 655,990A160,160 0 1 1 640,700Z"/><path d="M610,575A130,130 0 0 1 790,430A178,178 0 0 1 1115,430A130,130 0 0 1 1290,600"/></g>
<g transform="translate(2904.6,1793.5) scale(0.0833) translate(-892,-822)" fill="none" stroke="#2169c4" stroke-width="80.5"><path d="M640,700A282,282 0 0 1 1145,700A160,160 0 1 1 1120,990A310,310 0 0 1 655,990A160,160 0 1 1 640,700Z"/><path d="M610,575A130,130 0 0 1 790,430A178,178 0 0 1 1115,430A130,130 0 0 1 1290,600"/></g>
<g transform="translate(3242.8,1756.1) scale(0.0833) translate(-892,-822)" fill="none" stroke="#2169c4" stroke-width="80.5"><path d="M640,700A282,282 0 0 1 1145,700A160,160 0 1 1 1120,990A310,310 0 0 1 655,990A160,160 0 1 1 640,700Z"/></g>
<path d="M3229.7,1794.1L3229.7,1806.7M3224.2,1797.2L3235.2,1803.5M3235.2,1797.2L3224.2,1803.5" stroke="#2169c4" stroke-width="4.6" stroke-linecap="round" fill="none"/>
<path d="M3255.9,1794.1L3255.9,1806.7M3250.4,1797.2L3261.4,1803.5M3261.4,1797.2L3250.4,1803.5" stroke="#2169c4" stroke-width="4.6" stroke-linecap="round" fill="none"/>
<g transform="translate(2636.1,1973.3) scale(0.0833) translate(-892,-822)" fill="none" stroke="#2169c4" stroke-width="80.5"><path d="M640,700A282,282 0 0 1 1145,700A160,160 0 1 1 1120,990A310,310 0 0 1 655,990A160,160 0 1 1 640,700Z"/><path d="M610,575A130,130 0 0 1 790,430A178,178 0 0 1 1115,430A130,130 0 0 1 1290,600"/></g>
<g transform="translate(2854.6,2050.1) scale(0.0833) translate(-892,-822)" fill="none" stroke="#2169c4" stroke-width="80.5"><path d="M640,700A282,282 0 0 1 1145,700A160,160 0 1 1 1120,990A310,310 0 0 1 655,990A160,160 0 1 1 640,700Z"/><path d="M610,575A130,130 0 0 1 790,430A178,178 0 0 1 1115,430A130,130 0 0 1 1290,600"/></g>
<g transform="translate(2462.6,2234.3) scale(0.0833) translate(-892,-822)" fill="none" stroke="#2169c4" stroke-width="80.5"><path d="M640,700A282,282 0 0 1 1145,700A160,160 0 1 1 1120,990A310,310 0 0 1 655,990A160,160 0 1 1 640,700Z"/><path d="M610,575A130,130 0 0 1 790,430A178,178 0 0 1 1115,430A130,130 0 0 1 1290,600"/></g>
<g transform="translate(1558.0,2412.9) scale(0.0833) translate(-892,-822)" fill="none" stroke="#2169c4" stroke-width="80.5"><path d="M640,700A282,282 0 0 1 1145,700A160,160 0 1 1 1120,990A310,310 0 0 1 655,990A160,160 0 1 1 640,700Z"/><path d="M610,575A130,130 0 0 1 790,430A178,178 0 0 1 1115,430A130,130 0 0 1 1290,600"/></g>
<g transform="translate(1745.3,2545.2) scale(0.0833) translate(-892,-822)" fill="none" stroke="#2169c4" stroke-width="80.5"><path d="M640,700A282,282 0 0 1 1145,700A160,160 0 1 1 1120,990A310,310 0 0 1 655,990A160,160 0 1 1 640,700Z"/><path d="M610,575A130,130 0 0 1 790,430A178,178 0 0 1 1115,430A130,130 0 0 1 1290,600"/></g>
<g transform="translate(2005.6,2539.0) scale(0.0833) translate(-892,-822)" fill="none" stroke="#2169c4" stroke-width="80.5"><path d="M640,700A282,282 0 0 1 1145,700A160,160 0 1 1 1120,990A310,310 0 0 1 655,990A160,160 0 1 1 640,700Z"/><path d="M610,575A130,130 0 0 1 790,430A178,178 0 0 1 1115,430A130,130 0 0 1 1290,600"/></g>
<g transform="translate(1665.3,2652.0) scale(0.0833) translate(-892,-822)" fill="none" stroke="#2169c4" stroke-width="80.5"><path d="M640,700A282,282 0 0 1 1145,700A160,160 0 1 1 1120,990A310,310 0 0 1 655,990A160,160 0 1 1 640,700Z"/><path d="M610,575A130,130 0 0 1 790,430A178,178 0 0 1 1115,430A130,130 0 0 1 1290,600"/></g>
<g transform="translate(2052.3,2631.3) scale(0.0833) translate(-892,-822)" fill="none" stroke="#2169c4" stroke-width="80.5"><path d="M640,700A282,282 0 0 1 1145,700A160,160 0 1 1 1120,990A310,310 0 0 1 655,990A160,160 0 1 1 640,700Z"/></g>
<path d="M2031.7,2672.4l-5.6,9.8M2056.5,2668.7l-9.8,16.3M2078.5,2672.4l-5.6,9.8" stroke="#2169c4" stroke-width="3.8" stroke-linecap="round" fill="none"/>
<g transform="translate(2260.8,2509.7) scale(0.0833) translate(-892,-822)" fill="none" stroke="#2169c4" stroke-width="80.5"><path d="M640,700A282,282 0 0 1 1145,700A160,160 0 1 1 1120,990A310,310 0 0 1 655,990A160,160 0 1 1 640,700Z"/></g>
<path d="M2247.7,2547.7L2247.7,2560.3M2242.2,2550.8L2253.2,2557.2M2253.2,2550.8L2242.2,2557.2" stroke="#2169c4" stroke-width="4.6" stroke-linecap="round" fill="none"/>
<path d="M2273.9,2547.7L2273.9,2560.3M2268.4,2550.8L2279.4,2557.2M2279.4,2550.8L2268.4,2557.2" stroke="#2169c4" stroke-width="4.6" stroke-linecap="round" fill="none"/>
<g transform="translate(2328.4,2497.2) scale(0.0833) translate(-892,-822)" fill="none" stroke="#2169c4" stroke-width="80.5"><path d="M640,700A282,282 0 0 1 1145,700A160,160 0 1 1 1120,990A310,310 0 0 1 655,990A160,160 0 1 1 640,700Z"/><path d="M610,575A130,130 0 0 1 790,430A178,178 0 0 1 1115,430A130,130 0 0 1 1290,600"/></g>
<g transform="translate(1880.6,3117.1) scale(0.0833) translate(-892,-822)" fill="none" stroke="#2169c4" stroke-width="80.5"><path d="M640,700A282,282 0 0 1 1145,700A160,160 0 1 1 1120,990A310,310 0 0 1 655,990A160,160 0 1 1 640,700Z"/></g>
<path d="M1867.5,3155.1L1867.5,3167.7M1862.0,3158.2L1873.0,3164.6M1873.0,3158.2L1862.0,3164.6" stroke="#2169c4" stroke-width="4.6" stroke-linecap="round" fill="none"/>
<path d="M1893.7,3155.1L1893.7,3167.7M1888.2,3158.2L1899.2,3164.6M1899.2,3158.2L1888.2,3164.6" stroke="#2169c4" stroke-width="4.6" stroke-linecap="round" fill="none"/>
<g transform="translate(2381.4,2349.2) scale(0.0833) translate(-892,-822)" fill="none" stroke="#2169c4" stroke-width="80.5"><path d="M640,700A282,282 0 0 1 1145,700A160,160 0 1 1 1120,990A310,310 0 0 1 655,990A160,160 0 1 1 640,700Z"/><path d="M610,575A130,130 0 0 1 790,430A178,178 0 0 1 1115,430A130,130 0 0 1 1290,600"/></g>
<g transform="translate(2526.9,2328.5) scale(0.0833) translate(-892,-822)" fill="none" stroke="#2169c4" stroke-width="80.5"><path d="M640,700A282,282 0 0 1 1145,700A160,160 0 1 1 1120,990A310,310 0 0 1 655,990A160,160 0 1 1 640,700Z"/><path d="M610,575A130,130 0 0 1 790,430A178,178 0 0 1 1115,430A130,130 0 0 1 1290,600"/></g>
<g transform="translate(2474.8,2459.7) scale(0.0833) translate(-892,-822)" fill="none" stroke="#2169c4" stroke-width="80.5"><path d="M640,700A282,282 0 0 1 1145,700A160,160 0 1 1 1120,990A310,310 0 0 1 655,990A160,160 0 1 1 640,700Z"/></g>
<path d="M2461.7,2497.7L2461.7,2510.3M2456.2,2500.8L2467.2,2507.2M2467.2,2500.8L2456.2,2507.2" stroke="#2169c4" stroke-width="4.6" stroke-linecap="round" fill="none"/>
<path d="M2487.9,2497.7L2487.9,2510.3M2482.4,2500.8L2493.4,2507.2M2493.4,2500.8L2482.4,2507.2" stroke="#2169c4" stroke-width="4.6" stroke-linecap="round" fill="none"/>
<g transform="translate(3075.5,2339.3) scale(0.0833) translate(-892,-822)" fill="none" stroke="#2169c4" stroke-width="80.5"><path d="M640,700A282,282 0 0 1 1145,700A160,160 0 1 1 1120,990A310,310 0 0 1 655,990A160,160 0 1 1 640,700Z"/></g>
<path d="M3062.4,2377.3L3062.4,2389.9M3056.9,2380.4L3067.9,2386.8M3067.9,2380.4L3056.9,2386.8" stroke="#2169c4" stroke-width="4.6" stroke-linecap="round" fill="none"/>
<path d="M3088.6,2377.3L3088.6,2389.9M3083.1,2380.4L3094.1,2386.8M3094.1,2380.4L3083.1,2386.8" stroke="#2169c4" stroke-width="4.6" stroke-linecap="round" fill="none"/>
<g transform="translate(3209.7,2280.5) scale(0.0833) translate(-892,-822)" fill="none" stroke="#2169c4" stroke-width="80.5"><path d="M640,700A282,282 0 0 1 1145,700A160,160 0 1 1 1120,990A310,310 0 0 1 655,990A160,160 0 1 1 640,700Z"/></g>
<path d="M3196.6,2318.5L3196.6,2331.1M3191.1,2321.6L3202.1,2327.9M3202.1,2321.6L3191.1,2327.9" stroke="#2169c4" stroke-width="4.6" stroke-linecap="round" fill="none"/>
<path d="M3222.8,2318.5L3222.8,2331.1M3217.3,2321.6L3228.3,2327.9M3228.3,2321.6L3217.3,2327.9" stroke="#2169c4" stroke-width="4.6" stroke-linecap="round" fill="none"/>
<g transform="translate(2637.2,2816.8) scale(0.0833) translate(-892,-822)" fill="none" stroke="#2169c4" stroke-width="80.5"><path d="M640,700A282,282 0 0 1 1145,700A160,160 0 1 1 1120,990A310,310 0 0 1 655,990A160,160 0 1 1 640,700Z"/></g>
<path d="M2616.6,2857.9l-5.6,9.8M2641.4,2854.2l-9.8,16.3M2663.4,2857.9l-5.6,9.8" stroke="#2169c4" stroke-width="3.8" stroke-linecap="round" fill="none"/>
<g fill="#4d1414" font-size="26.4"><text x="2056.0" y="1888.1">通辽市</text><text x="2056.0" y="1913.9">阴 −5～4℃</text>
<text x="1897.4" y="2339.5">阜新市</text><text x="1897.4" y="2365.3">阴 −2～5℃</text>
<text x="2769.5" y="1477.9">松原市</text><text x="2769.5" y="1503.7">阴 −6～2℃</text>
<text x="2906.9" y="1842.5">长春市</text><text x="2906.9" y="1868.3">阴 −4～2℃</text>
<text x="3244.0" y="1836.3">吉林市</text><text x="3244.0" y="1862.1">小雪 −5～2℃</text>
<text x="2638.4" y="2022.3">四平市</text><text x="2638.4" y="2048.1">阴 −5～3℃</text>
<text x="2856.9" y="2099.1">辽源市</text><text x="2856.9" y="2124.9">阴 −5～2℃</text>
<text x="2464.9" y="2283.3">铁岭市</text><text x="2464.9" y="2309.1">阴 −4～4℃</text>
<text x="1560.3" y="2461.9">朝阳市</text><text x="1560.3" y="2487.7">阴 −3～7℃</text>
<text x="1747.6" y="2594.2">锦州市</text><text x="1747.6" y="2620.0">阴 −3～8℃</text>
<text x="2007.9" y="2588.0">盘锦市</text><text x="2007.9" y="2613.8">阴 −4～6℃</text>
<text x="1667.6" y="2701.0">葫芦岛市</text><text x="1667.6" y="2726.8">阴 −2～8℃</text>
<text x="2053.5" y="2711.5">营口市</text><text x="2053.5" y="2737.3">小细雨 −3～6℃</text>
<text x="2262.0" y="2589.9">鞍山市</text><text x="2262.0" y="2615.7">小雪 −2～4℃</text>
<text x="2330.7" y="2546.2">辽阳市</text><text x="2330.7" y="2572.0">阴 −3～4℃</text>
<text x="1881.8" y="3197.3">大连市</text><text x="1881.8" y="3223.1">小雪 1～6℃</text>
<text x="2383.7" y="2398.2">沈阳市</text><text x="2383.7" y="2424.0">阴 −3～4℃</text>
<text x="2529.2" y="2377.5">抚顺市</text><text x="2529.2" y="2403.3">阴 −2～4℃</text>
<text x="2476.0" y="2539.9">本溪市</text><text x="2476.0" y="2565.7">小雪 −2～4℃</text>
<text x="3076.7" y="2419.5">通化市</text><text x="3076.7" y="2445.3">小雪 −4～5℃</text>
<text x="3210.9" y="2360.7">白山市</text><text x="3210.9" y="2386.5">小雪 −6～4℃</text>
<text x="2638.4" y="2897.0">丹东市</text><text x="2638.4" y="2922.8">小细雨 0～10℃</text></g>
<rect x="1280.3" y="1297.4" width="2209.7" height="2205.6" fill="none" stroke="#000" stroke-width="1.3"/>
<g fill="#000" font-size="13"><text x="1437.9" y="1288.1">120° E</text><text x="1437.9" y="3521.7">120° E</text><text x="1714.0" y="1288.1">121° E</text><text x="1714.0" y="3521.7">121° E</text><text x="1990.1" y="1288.1">122° E</text><text x="1990.1" y="3521.7">122° E</text><text x="2266.2" y="1288.1">123° E</text><text x="2266.2" y="3521.7">123° E</text><text x="2542.3" y="1288.1">124° E</text><text x="2542.3" y="3521.7">124° E</text><text x="2818.4" y="1288.1">125° E</text><text x="2818.4" y="3521.7">125° E</text><text x="3094.5" y="1288.1">126° E</text><text x="3094.5" y="3521.7">126° E</text><text x="3370.6" y="1288.1">127° E</text><text x="3370.6" y="3521.7">127° E</text>
<text x="1256.0" y="3456.9">38° N</text><text x="3514.2" y="3456.9">38° N</text><text x="1256.0" y="3180.9">39° N</text><text x="3514.2" y="3180.9">39° N</text><text x="1256.0" y="2904.9">40° N</text><text x="3514.2" y="2904.9">40° N</text><text x="1256.0" y="2628.9">41° N</text><text x="3514.2" y="2628.9">41° N</text><text x="1256.0" y="2352.9">42° N</text><text x="3514.2" y="2352.9">42° N</text><text x="1256.0" y="2076.9">43° N</text><text x="3514.2" y="2076.9">43° N</text><text x="1256.0" y="1800.9">44° N</text><text x="3514.2" y="1800.9">44° N</text><text x="1256.0" y="1524.9">45° N</text><text x="3514.2" y="1524.9">45° N</text></g>
<path d="M1437.9,1297.4v-4M1437.9,3503.0v4M1714.0,1297.4v-4M1714.0,3503.0v4M1990.1,1297.4v-4M1990.1,3503.0v4M2266.2,1297.4v-4M2266.2,3503.0v4M2542.3,1297.4v-4M2542.3,3503.0v4M2818.4,1297.4v-4M2818.4,3503.0v4M3094.5,1297.4v-4M3094.5,3503.0v4M3370.6,1297.4v-4M3370.6,3503.0v4M1280.3,3452.2h-4M3490.0,3452.2h4M1280.3,3176.2h-4M3490.0,3176.2h4M1280.3,2900.2h-4M3490.0,2900.2h4M1280.3,2624.2h-4M3490.0,2624.2h4M1280.3,2348.2h-4M3490.0,2348.2h4M1280.3,2072.2h-4M3490.0,2072.2h4M1280.3,1796.2h-4M3490.0,1796.2h4M1280.3,1520.2h-4M3490.0,1520.2h4" stroke="#000" stroke-width="1" fill="none"/>
<g fill="#222"><text x="1281.3" y="1309.5" font-size="13.9" text-anchor="start">起报时间：</text><text x="1354.3 1361.2 1368.2 1375.1 1382.1 1389.0 1396.0 1402.9 1409.9 1416.8" y="1309.5" font-size="13.9">2026-03-14</text><text x="1430.7 1437.7 1443.2 1451.6 1458.5 1464.1 1472.4 1479.4" y="1309.5" font-size="13.9">00:00:00</text><text x="1489.8" y="1309.5" font-size="13.9" text-anchor="start">预报时效：</text><text x="1562.8 1569.7 1576.7 1583.6 1590.6 1597.5 1604.5 1611.4 1618.4 1625.3" y="1309.5" font-size="13.9">2026-03-14</text><text x="1639.2 1646.2 1651.7 1660.1 1667.0 1672.6 1680.9 1687.9" y="1309.5" font-size="13.9">00:00:00</text><text x="1691.4" y="1309.5" font-size="13.9" text-anchor="start">至</text><text x="1708.7 1715.7 1722.6 1729.6 1736.5 1743.5 1750.4 1757.4 1764.3 1771.3" y="1309.5" font-size="13.9">2026-03-15</text><text x="1785.2 1792.1 1797.7 1806.0 1813.0 1818.5 1826.9 1833.8" y="1309.5" font-size="13.9">00:00:00</text><text x="1844.3" y="1309.5" font-size="13.9" text-anchor="start">预报模式：</text><text x="1917.2 1924.2" y="1309.5" font-size="13.9">ec</text><text transform="translate(1931.1,1309.5) scale(0.6,1)" font-size="13.9">m</text><text transform="translate(1938.1,1309.5) scale(0.6,1)" font-size="13.9">w</text><text x="1945.0" y="1309.5" font-size="13.9">f</text></g>
<g fill="#222"><text x="1284.3 1291.2 1298.2 1305.1 1312.1 1319.0 1324.6" y="3499.5" font-size="13.9">Source:</text><text x="1339.9 1346.8" y="3499.5" font-size="13.9">HT</text><text transform="translate(1360.7,3499.5) scale(0.6,1)" font-size="13.9">M</text><text x="1367.7 1374.6 1381.6 1388.5 1394.1" y="3499.5" font-size="13.9">eteo,</text><text x="1409.4 1416.3 1423.3 1430.2 1435.8" y="3499.5" font-size="13.9">Link:</text><text x="1451.1 1458.0 1465.0 1471.9 1478.9 1485.8 1492.8 1499.7 1506.7 1513.6 1519.2 1527.5 1534.5 1541.4" y="3499.5" font-size="13.9">cornicelli.net</text></g>
<g fill="#000"><text x="2383.0" y="1231.7" font-size="41.5">沈阳市周边区域3月14日主要天气（未来24小时）</text></g>
<path d="M4204.8,1799.5L4199.2,1764.1A35.9,35.9 0 0 1 4210.4,1764.1L4204.8,1799.5Z" fill="#8dd3c7" stroke="#fff" stroke-width="1.6" stroke-linejoin="round"/>
<path d="M4199.2,1764.1L4176.7,1622.3A179.4,179.4 0 0 1 4232.9,1622.3L4210.4,1764.1A35.9,35.9 0 0 0 4199.2,1764.1Z" fill="#fccde5" stroke="#fff" stroke-width="1.6" stroke-linejoin="round"/>
<path d="M4176.7,1622.3L4165.5,1551.4A251.1,251.1 0 0 1 4244.1,1551.4L4232.9,1622.3A179.4,179.4 0 0 0 4176.7,1622.3Z" fill="#ccebc5" stroke="#fff" stroke-width="1.6" stroke-linejoin="round"/>
<path d="M4165.5,1551.4L4143.1,1409.7A394.7,394.7 0 0 1 4266.5,1409.7L4244.1,1551.4A251.1,251.1 0 0 0 4165.5,1551.4Z" fill="#fb8072" stroke="#fff" stroke-width="1.6" stroke-linejoin="round"/>
<path d="M4143.1,1409.7L4131.8,1338.8A466.4,466.4 0 0 1 4277.8,1338.8L4266.5,1409.7A394.7,394.7 0 0 0 4143.1,1409.7Z" fill="#ffffb3" stroke="#fff" stroke-width="1.6" stroke-linejoin="round"/>
<path d="M4131.8,1338.8L4129.0,1321.1A484.4,484.4 0 0 1 4280.6,1321.1L4277.8,1338.8A466.4,466.4 0 0 0 4131.8,1338.8Z" fill="#b3de69" stroke="#fff" stroke-width="1.6" stroke-linejoin="round"/>
<path d="M4129.0,1321.1L4126.2,1303.4A502.3,502.3 0 0 1 4283.4,1303.4L4280.6,1321.1A484.4,484.4 0 0 0 4129.0,1321.1Z" fill="#bebada" stroke="#fff" stroke-width="1.6" stroke-linejoin="round"/>
<path d="M4204.8,1799.5L4225.7,1712.3A89.7,89.7 0 0 1 4251.7,1723.0L4204.8,1799.5Z" fill="#fccde5" stroke="#fff" stroke-width="1.6" stroke-linejoin="round"/>
<path d="M4204.8,1799.5L4236.4,1756.0A53.8,53.8 0 0 1 4248.3,1767.9L4204.8,1799.5Z" fill="#ffed6f" stroke="#fff" stroke-width="1.6" stroke-linejoin="round"/>
<path d="M4236.4,1756.0L4257.5,1726.9A89.7,89.7 0 0 1 4277.4,1746.8L4248.3,1767.9A53.8,53.8 0 0 0 4236.4,1756.0Z" fill="#8dd3c7" stroke="#fff" stroke-width="1.6" stroke-linejoin="round"/>
<path d="M4257.5,1726.9L4268.1,1712.4A107.6,107.6 0 0 1 4291.9,1736.2L4277.4,1746.8A89.7,89.7 0 0 0 4257.5,1726.9Z" fill="#fccde5" stroke="#fff" stroke-width="1.6" stroke-linejoin="round"/>
<path d="M4204.8,1799.5L4222.5,1796.7A17.9,17.9 0 0 1 4222.5,1802.3L4204.8,1799.5Z" fill="#ffed6f" stroke="#fff" stroke-width="1.6" stroke-linejoin="round"/>
<path d="M4204.8,1799.5L4222.2,1803.7A17.9,17.9 0 0 1 4220.1,1808.9L4204.8,1799.5Z" fill="#ffed6f" stroke="#fff" stroke-width="1.6" stroke-linejoin="round"/>
<path d="M4204.8,1799.5L4232.9,1845.4A53.8,53.8 0 0 1 4217.4,1851.8L4204.8,1799.5Z" fill="#ffed6f" stroke="#fff" stroke-width="1.6" stroke-linejoin="round"/>
<path d="M4232.9,1845.4L4270.4,1906.6A125.6,125.6 0 0 1 4234.1,1921.6L4217.4,1851.8A53.8,53.8 0 0 0 4232.9,1845.4Z" fill="#8dd3c7" stroke="#fff" stroke-width="1.6" stroke-linejoin="round"/>
<path d="M4270.4,1906.6L4298.5,1952.5A179.4,179.4 0 0 1 4246.7,1973.9L4234.1,1921.6A125.6,125.6 0 0 0 4270.4,1906.6Z" fill="#fccde5" stroke="#fff" stroke-width="1.6" stroke-linejoin="round"/>
<path d="M4298.5,1952.5L4317.3,1983.0A215.3,215.3 0 0 1 4255.1,2008.8L4246.7,1973.9A179.4,179.4 0 0 0 4298.5,1952.5Z" fill="#ccebc5" stroke="#fff" stroke-width="1.6" stroke-linejoin="round"/>
<path d="M4317.3,1983.0L4326.7,1998.3A233.2,233.2 0 0 1 4259.2,2026.3L4255.1,2008.8A215.3,215.3 0 0 0 4317.3,1983.0Z" fill="#fb8072" stroke="#fff" stroke-width="1.6" stroke-linejoin="round"/>
<path d="M4204.8,1799.5L4207.6,1817.2A17.9,17.9 0 0 1 4202.0,1817.2L4204.8,1799.5Z" fill="#ffed6f" stroke="#fff" stroke-width="1.6" stroke-linejoin="round"/>
<path d="M4207.6,1817.2L4210.4,1834.9A35.9,35.9 0 0 1 4199.2,1834.9L4202.0,1817.2A17.9,17.9 0 0 0 4207.6,1817.2Z" fill="#8dd3c7" stroke="#fff" stroke-width="1.6" stroke-linejoin="round"/>
<path d="M4210.4,1834.9L4216.0,1870.4A71.8,71.8 0 0 1 4193.6,1870.4L4199.2,1834.9A35.9,35.9 0 0 0 4210.4,1834.9Z" fill="#fccde5" stroke="#fff" stroke-width="1.6" stroke-linejoin="round"/>
<path d="M4216.0,1870.4L4218.8,1888.1A89.7,89.7 0 0 1 4190.8,1888.1L4193.6,1870.4A71.8,71.8 0 0 0 4216.0,1870.4Z" fill="#ccebc5" stroke="#fff" stroke-width="1.6" stroke-linejoin="round"/>
<path d="M4218.8,1888.1L4232.9,1976.7A179.4,179.4 0 0 1 4176.7,1976.7L4190.8,1888.1A89.7,89.7 0 0 0 4218.8,1888.1Z" fill="#fb8072" stroke="#fff" stroke-width="1.6" stroke-linejoin="round"/>
<path d="M4232.9,1976.7L4238.5,2012.1A215.3,215.3 0 0 1 4171.1,2012.1L4176.7,1976.7A179.4,179.4 0 0 0 4232.9,1976.7Z" fill="#ffffb3" stroke="#fff" stroke-width="1.6" stroke-linejoin="round"/>
<path d="M4238.5,2012.1L4258.1,2136.2A340.8,340.8 0 0 1 4151.5,2136.2L4171.1,2012.1A215.3,215.3 0 0 0 4238.5,2012.1Z" fill="#b3de69" stroke="#fff" stroke-width="1.6" stroke-linejoin="round"/>
<path d="M4204.8,1799.5L4196.4,1834.4A35.9,35.9 0 0 1 4186.1,1830.1L4204.8,1799.5Z" fill="#ffed6f" stroke="#fff" stroke-width="1.6" stroke-linejoin="round"/>
<path d="M4196.4,1834.4L4179.7,1904.2A107.6,107.6 0 0 1 4148.6,1891.3L4186.1,1830.1A35.9,35.9 0 0 0 4196.4,1834.4Z" fill="#fb8072" stroke="#fff" stroke-width="1.6" stroke-linejoin="round"/>
<path d="M4179.7,1904.2L4175.5,1921.6A125.6,125.6 0 0 1 4139.2,1906.6L4148.6,1891.3A107.6,107.6 0 0 0 4179.7,1904.2Z" fill="#ffffb3" stroke="#fff" stroke-width="1.6" stroke-linejoin="round"/>
<path d="M4175.5,1921.6L4158.7,1991.4A197.3,197.3 0 0 1 4101.7,1967.8L4139.2,1906.6A125.6,125.6 0 0 0 4175.5,1921.6Z" fill="#b3de69" stroke="#fff" stroke-width="1.6" stroke-linejoin="round"/>
<path d="M4158.7,1991.4L4142.0,2061.2A269.1,269.1 0 0 1 4064.2,2028.9L4101.7,1967.8A197.3,197.3 0 0 0 4158.7,1991.4Z" fill="#bebada" stroke="#fff" stroke-width="1.6" stroke-linejoin="round"/>
<path d="M4142.0,2061.2L4137.8,2078.6A287.0,287.0 0 0 1 4054.8,2044.2L4064.2,2028.9A269.1,269.1 0 0 0 4142.0,2061.2Z" fill="#d9d9d9" stroke="#fff" stroke-width="1.6" stroke-linejoin="round"/>
<path d="M4137.8,2078.6L4133.6,2096.0A305.0,305.0 0 0 1 4045.5,2059.5L4054.8,2044.2A287.0,287.0 0 0 0 4137.8,2078.6Z" fill="#bc80bd" stroke="#fff" stroke-width="1.6" stroke-linejoin="round"/>
<path d="M4133.6,2096.0L4129.4,2113.5A322.9,322.9 0 0 1 4036.1,2074.8L4045.5,2059.5A305.0,305.0 0 0 0 4133.6,2096.0Z" fill="#fdb462" stroke="#fff" stroke-width="1.6" stroke-linejoin="round"/>
<path d="M4129.4,2113.5L4125.2,2130.9A340.8,340.8 0 0 1 4026.7,2090.1L4036.1,2074.8A322.9,322.9 0 0 0 4129.4,2113.5Z" fill="#80b1d3" stroke="#fff" stroke-width="1.6" stroke-linejoin="round"/>
<path d="M4204.8,1799.5L4194.3,1814.0A17.9,17.9 0 0 1 4190.3,1810.0L4204.8,1799.5Z" fill="#8dd3c7" stroke="#fff" stroke-width="1.6" stroke-linejoin="round"/>
<path d="M4194.3,1814.0L4173.2,1843.0A53.8,53.8 0 0 1 4161.3,1831.1L4190.3,1810.0A17.9,17.9 0 0 0 4194.3,1814.0Z" fill="#fccde5" stroke="#fff" stroke-width="1.6" stroke-linejoin="round"/>
<path d="M4173.2,1843.0L4120.4,1915.6A143.5,143.5 0 0 1 4088.7,1883.9L4161.3,1831.1A53.8,53.8 0 0 0 4173.2,1843.0Z" fill="#ccebc5" stroke="#fff" stroke-width="1.6" stroke-linejoin="round"/>
<path d="M4120.4,1915.6L4109.9,1930.1A161.5,161.5 0 0 1 4074.2,1894.4L4088.7,1883.9A143.5,143.5 0 0 0 4120.4,1915.6Z" fill="#fb8072" stroke="#fff" stroke-width="1.6" stroke-linejoin="round"/>
<path d="M4109.9,1930.1L4088.8,1959.1A197.3,197.3 0 0 1 4045.2,1915.5L4074.2,1894.4A161.5,161.5 0 0 0 4109.9,1930.1Z" fill="#bebada" stroke="#fff" stroke-width="1.6" stroke-linejoin="round"/>
<path d="M4088.8,1959.1L4078.3,1973.7A215.3,215.3 0 0 1 4030.6,1926.0L4045.2,1915.5A197.3,197.3 0 0 0 4088.8,1959.1Z" fill="#d9d9d9" stroke="#fff" stroke-width="1.6" stroke-linejoin="round"/>
<path d="M4078.3,1973.7L4046.6,2017.2A269.1,269.1 0 0 1 3987.1,1957.7L4030.6,1926.0A215.3,215.3 0 0 0 4078.3,1973.7Z" fill="#bc80bd" stroke="#fff" stroke-width="1.6" stroke-linejoin="round"/>
<path d="M4046.6,2017.2L4036.1,2031.7A287.0,287.0 0 0 1 3972.6,1968.2L3987.1,1957.7A269.1,269.1 0 0 0 4046.6,2017.2Z" fill="#fdb462" stroke="#fff" stroke-width="1.6" stroke-linejoin="round"/>
<path d="M4204.8,1799.5L4174.2,1818.2A35.9,35.9 0 0 1 4169.9,1807.9L4204.8,1799.5Z" fill="#ffed6f" stroke="#fff" stroke-width="1.6" stroke-linejoin="round"/>
<path d="M4174.2,1818.2L4158.9,1827.6A53.8,53.8 0 0 1 4152.5,1812.1L4169.9,1807.9A35.9,35.9 0 0 0 4174.2,1818.2Z" fill="#8dd3c7" stroke="#fff" stroke-width="1.6" stroke-linejoin="round"/>
<path d="M4158.9,1827.6L4082.4,1874.5A143.5,143.5 0 0 1 4065.3,1833.0L4152.5,1812.1A53.8,53.8 0 0 0 4158.9,1827.6Z" fill="#fccde5" stroke="#fff" stroke-width="1.6" stroke-linejoin="round"/>
<path d="M4082.4,1874.5L4067.1,1883.9A161.5,161.5 0 0 1 4047.8,1837.2L4065.3,1833.0A143.5,143.5 0 0 0 4082.4,1874.5Z" fill="#ccebc5" stroke="#fff" stroke-width="1.6" stroke-linejoin="round"/>
<path d="M4067.1,1883.9L4021.3,1912.0A215.3,215.3 0 0 1 3995.5,1849.8L4047.8,1837.2A161.5,161.5 0 0 0 4067.1,1883.9Z" fill="#fb8072" stroke="#fff" stroke-width="1.6" stroke-linejoin="round"/>
<path d="M4204.8,1799.5L4187.1,1802.3A17.9,17.9 0 0 1 4187.1,1796.7L4204.8,1799.5Z" fill="#8dd3c7" stroke="#fff" stroke-width="1.6" stroke-linejoin="round"/>
<path d="M4187.1,1802.3L4116.2,1813.5A89.7,89.7 0 0 1 4116.2,1785.5L4187.1,1796.7A17.9,17.9 0 0 0 4187.1,1802.3Z" fill="#ccebc5" stroke="#fff" stroke-width="1.6" stroke-linejoin="round"/>
<path d="M4116.2,1813.5L4063.1,1822.0A143.5,143.5 0 0 1 4063.1,1777.0L4116.2,1785.5A89.7,89.7 0 0 0 4116.2,1813.5Z" fill="#fb8072" stroke="#fff" stroke-width="1.6" stroke-linejoin="round"/>
<path d="M4063.1,1822.0L4027.6,1827.6A179.4,179.4 0 0 1 4027.6,1771.4L4063.1,1777.0A143.5,143.5 0 0 0 4063.1,1822.0Z" fill="#ffffb3" stroke="#fff" stroke-width="1.6" stroke-linejoin="round"/>
<path d="M4027.6,1827.6L4009.9,1830.4A197.3,197.3 0 0 1 4009.9,1768.6L4027.6,1771.4A179.4,179.4 0 0 0 4027.6,1827.6Z" fill="#b3de69" stroke="#fff" stroke-width="1.6" stroke-linejoin="round"/>
<path d="M4204.8,1799.5L4187.4,1795.3A17.9,17.9 0 0 1 4189.5,1790.1L4204.8,1799.5Z" fill="#ffed6f" stroke="#fff" stroke-width="1.6" stroke-linejoin="round"/>
<path d="M4187.4,1795.3L4169.9,1791.1A35.9,35.9 0 0 1 4174.2,1780.8L4189.5,1790.1A17.9,17.9 0 0 0 4187.4,1795.3Z" fill="#8dd3c7" stroke="#fff" stroke-width="1.6" stroke-linejoin="round"/>
<path d="M4169.9,1791.1L4152.5,1786.9A53.8,53.8 0 0 1 4158.9,1771.4L4174.2,1780.8A35.9,35.9 0 0 0 4169.9,1791.1Z" fill="#fccde5" stroke="#fff" stroke-width="1.6" stroke-linejoin="round"/>
<path d="M4152.5,1786.9L4117.6,1778.6A89.7,89.7 0 0 1 4128.3,1752.6L4158.9,1771.4A53.8,53.8 0 0 0 4152.5,1786.9Z" fill="#fb8072" stroke="#fff" stroke-width="1.6" stroke-linejoin="round"/>
<path d="M4117.6,1778.6L4082.7,1770.2A125.6,125.6 0 0 1 4097.7,1733.9L4128.3,1752.6A89.7,89.7 0 0 0 4117.6,1778.6Z" fill="#bebada" stroke="#fff" stroke-width="1.6" stroke-linejoin="round"/>
<path d="M4082.7,1770.2L4030.4,1757.6A179.4,179.4 0 0 1 4051.8,1705.8L4097.7,1733.9A125.6,125.6 0 0 0 4082.7,1770.2Z" fill="#d9d9d9" stroke="#fff" stroke-width="1.6" stroke-linejoin="round"/>
<path d="M4204.8,1799.5L4190.3,1789.0A17.9,17.9 0 0 1 4194.3,1785.0L4204.8,1799.5Z" fill="#8dd3c7" stroke="#fff" stroke-width="1.6" stroke-linejoin="round"/>
<path d="M4190.3,1789.0L4175.8,1778.4A35.9,35.9 0 0 1 4183.7,1770.5L4194.3,1785.0A17.9,17.9 0 0 0 4190.3,1789.0Z" fill="#fccde5" stroke="#fff" stroke-width="1.6" stroke-linejoin="round"/>
<path d="M4175.8,1778.4L4161.3,1767.9A53.8,53.8 0 0 1 4173.2,1756.0L4183.7,1770.5A35.9,35.9 0 0 0 4175.8,1778.4Z" fill="#ccebc5" stroke="#fff" stroke-width="1.6" stroke-linejoin="round"/>
<path d="M4161.3,1767.9L4146.7,1757.3A71.8,71.8 0 0 1 4162.6,1741.4L4173.2,1756.0A53.8,53.8 0 0 0 4161.3,1767.9Z" fill="#fb8072" stroke="#fff" stroke-width="1.6" stroke-linejoin="round"/>
<path d="M4146.7,1757.3L4103.2,1725.7A125.6,125.6 0 0 1 4131.0,1697.9L4162.6,1741.4A71.8,71.8 0 0 0 4146.7,1757.3Z" fill="#ffffb3" stroke="#fff" stroke-width="1.6" stroke-linejoin="round"/>
<path d="M4103.2,1725.7L4088.7,1715.1A143.5,143.5 0 0 1 4120.4,1683.4L4131.0,1697.9A125.6,125.6 0 0 0 4103.2,1725.7Z" fill="#b3de69" stroke="#fff" stroke-width="1.6" stroke-linejoin="round"/>
<path d="M4204.8,1799.5L4167.3,1738.3A71.8,71.8 0 0 1 4188.0,1729.7L4204.8,1799.5Z" fill="#8dd3c7" stroke="#fff" stroke-width="1.6" stroke-linejoin="round"/>
<path d="M4167.3,1738.3L4157.9,1723.0A89.7,89.7 0 0 1 4183.9,1712.3L4188.0,1729.7A71.8,71.8 0 0 0 4167.3,1738.3Z" fill="#fccde5" stroke="#fff" stroke-width="1.6" stroke-linejoin="round"/>
<path d="M4157.9,1723.0L4148.6,1707.7A107.6,107.6 0 0 1 4179.7,1694.8L4183.9,1712.3A89.7,89.7 0 0 0 4157.9,1723.0Z" fill="#ccebc5" stroke="#fff" stroke-width="1.6" stroke-linejoin="round"/>
<path d="M4148.6,1707.7L4139.2,1692.4A125.6,125.6 0 0 1 4175.5,1677.4L4179.7,1694.8A107.6,107.6 0 0 0 4148.6,1707.7Z" fill="#fb8072" stroke="#fff" stroke-width="1.6" stroke-linejoin="round"/>
<path d="M4139.2,1692.4L4120.4,1661.8A161.5,161.5 0 0 1 4167.1,1642.5L4175.5,1677.4A125.6,125.6 0 0 0 4139.2,1692.4Z" fill="#ffffb3" stroke="#fff" stroke-width="1.6" stroke-linejoin="round"/>
<path d="M4120.4,1661.8L4082.9,1600.7A233.2,233.2 0 0 1 4150.4,1572.7L4167.1,1642.5A161.5,161.5 0 0 0 4120.4,1661.8Z" fill="#b3de69" stroke="#fff" stroke-width="1.6" stroke-linejoin="round"/>
<path d="M4082.9,1600.7L4064.2,1570.1A269.1,269.1 0 0 1 4142.0,1537.8L4150.4,1572.7A233.2,233.2 0 0 0 4082.9,1600.7Z" fill="#bebada" stroke="#fff" stroke-width="1.6" stroke-linejoin="round"/>
<path d="M4064.2,1570.1L4036.1,1524.2A322.9,322.9 0 0 1 4129.4,1485.5L4142.0,1537.8A269.1,269.1 0 0 0 4064.2,1570.1Z" fill="#d9d9d9" stroke="#fff" stroke-width="1.6" stroke-linejoin="round"/>
<path d="M4036.1,1524.2L4026.7,1508.9A340.8,340.8 0 0 1 4125.2,1468.1L4129.4,1485.5A322.9,322.9 0 0 0 4036.1,1524.2Z" fill="#bc80bd" stroke="#fff" stroke-width="1.6" stroke-linejoin="round"/>
<path d="M4104.3,1799.5a100.5,100.5 0 1 0 200.9,0a100.5,100.5 0 1 0 -200.9,0M4003.9,1799.5a200.9,200.9 0 1 0 401.8,0a200.9,200.9 0 1 0 -401.8,0M3903.4,1799.5a301.4,301.4 0 1 0 602.8,0a301.4,301.4 0 1 0 -602.8,0M3803.0,1799.5a401.8,401.8 0 1 0 803.7,0a401.8,401.8 0 1 0 -803.7,0M4204.8,1799.5L4204.8,1297.2M4204.8,1799.5L4560.0,1444.3M4204.8,1799.5L4707.1,1799.5M4204.8,1799.5L4560.0,2154.7M4204.8,1799.5L4204.8,2301.8M4204.8,1799.5L3849.6,2154.7M4204.8,1799.5L3702.5,1799.5M4204.8,1799.5L3849.6,1444.3" fill="none" stroke="#b0b0b0" stroke-width="1.4"/>
<circle cx="4204.8" cy="1799.5" r="502.3" fill="none" stroke="#000" stroke-width="1.4"/>
<rect x="3699.5" y="1297.5" width="1011.0" height="1004.0" fill="none" stroke="#000" stroke-width="1.1"/>
<g fill="#000"><text x="4249.9 4255.4 4263.8" y="1705.3" font-size="13.9">3.3</text></g>
<g fill="#000"><text x="4288.3 4293.9 4302.2" y="1612.5" font-size="13.9">6.7</text></g>
<g fill="#000"><text x="4323.3 4330.2 4335.8 4344.1" y="1519.7" font-size="13.9">10.0</text></g>
<g fill="#000"><text x="4361.7 4368.7 4374.2 4382.6" y="1426.9" font-size="13.9">13.3</text></g>
<g fill="#000"><text x="4400.2 4407.1 4412.7 4421.0" y="1334.0" font-size="13.9">16.7</text></g>
<g fill="#000"><text x="4204.8" y="1282.2" font-size="13.9">N</text></g>
<g fill="#000"><text x="4567.2 4574.1 4581.1" y="1435.2" font-size="13.9">N-E</text></g>
<g fill="#000"><text x="4727.1" y="1804.5" font-size="13.9">E</text></g>
<g fill="#000"><text x="4567.2 4574.1 4581.1" y="2173.8" font-size="13.9">S-E</text></g>
<g fill="#000"><text x="4204.8" y="2326.8" font-size="13.9">S</text></g>
<g fill="#000"><text x="3828.5 3835.5" y="2173.8" font-size="13.9">S-</text><text transform="translate(3842.4,2173.8) scale(0.6,1)" font-size="13.9">W</text></g>
<g fill="#000"><text transform="translate(3682.5,1804.5) scale(0.6,1)" font-size="13.9">W</text></g>
<g fill="#000"><text x="3828.5 3835.5" y="1435.2" font-size="13.9">N-</text><text transform="translate(3842.4,1435.2) scale(0.6,1)" font-size="13.9">W</text></g>
<g fill="#000"><text x="3692.5 3698.1 3706.4" y="2324.0" font-size="13.9">0.0</text></g>
<g fill="#000"><text x="3673.1 3678.7 3687.0" y="2306.5" font-size="13.9">0.0</text></g>
<g fill="#000"><text x="3894.7 3900.3 3908.6" y="2324.0" font-size="13.9">0.2</text></g>
<g fill="#000"><text x="3673.1 3678.7 3687.0" y="2105.7" font-size="13.9">0.2</text></g>
<g fill="#000"><text x="4096.9 4102.5 4110.8" y="2324.0" font-size="13.9">0.4</text></g>
<g fill="#000"><text x="3673.1 3678.7 3687.0" y="1904.9" font-size="13.9">0.4</text></g>
<g fill="#000"><text x="4299.2 4304.7 4313.1" y="2324.0" font-size="13.9">0.6</text></g>
<g fill="#000"><text x="3673.1 3678.7 3687.0" y="1704.1" font-size="13.9">0.6</text></g>
<g fill="#000"><text x="4501.4 4506.9 4515.2" y="2324.0" font-size="13.9">0.8</text></g>
<g fill="#000"><text x="3673.1 3678.7 3687.0" y="1503.3" font-size="13.9">0.8</text></g>
<g fill="#000"><text x="4703.6 4709.1 4717.4" y="2324.0" font-size="13.9">1.0</text></g>
<g fill="#000"><text x="3673.1 3678.7 3687.0" y="1302.5" font-size="13.9">1.0</text></g>
<path d="M3699.5,2301.5v5M3699.5,2301.5h-5M3901.7,2301.5v5M3699.5,2100.7h-5M4103.9,2301.5v5M3699.5,1899.9h-5M4306.1,2301.5v5M3699.5,1699.1h-5M4508.3,2301.5v5M3699.5,1498.3h-5M4710.5,2301.5v5M3699.5,1297.5h-5" stroke="#000" stroke-width="1.1" fill="none"/>
<rect x="3701.8" y="1296.4" width="111.4" height="216" rx="3" fill="#fff" fill-opacity="0.8" stroke="#ccc" stroke-width="1"/>
<rect x="3706.3" y="1301.5" width="28.6" height="10.4" fill="#ffed6f" stroke="#000" stroke-width="1.1"/>
<g fill="#333"><text x="3748.8 3754.2 3758.7 3765.2" y="1311.9" font-size="11">[0.2</text><text x="3775.2" y="1311.9" font-size="11">:</text><text x="3787.2 3791.7 3798.2 3803.8" y="1311.9" font-size="11">0.8)</text></g>
<rect x="3706.3" y="1319.2" width="28.6" height="10.4" fill="#8dd3c7" stroke="#000" stroke-width="1.1"/>
<g fill="#333"><text x="3748.8 3754.2 3758.7 3765.2" y="1329.6" font-size="11">[0.8</text><text x="3775.2" y="1329.6" font-size="11">:</text><text x="3787.2 3791.7 3798.2 3803.8" y="1329.6" font-size="11">1.4)</text></g>
<rect x="3706.3" y="1336.9" width="28.6" height="10.4" fill="#fccde5" stroke="#000" stroke-width="1.1"/>
<g fill="#333"><text x="3748.8 3754.2 3758.7 3765.2" y="1347.2" font-size="11">[1.4</text><text x="3775.2" y="1347.2" font-size="11">:</text><text x="3787.2 3791.7 3798.2 3803.8" y="1347.2" font-size="11">1.9)</text></g>
<rect x="3706.3" y="1354.6" width="28.6" height="10.4" fill="#ccebc5" stroke="#000" stroke-width="1.1"/>
<g fill="#333"><text x="3748.8 3754.2 3758.7 3765.2" y="1364.9" font-size="11">[1.9</text><text x="3775.2" y="1364.9" font-size="11">:</text><text x="3787.2 3791.7 3798.2 3803.8" y="1364.9" font-size="11">2.5)</text></g>
<rect x="3706.3" y="1372.3" width="28.6" height="10.4" fill="#fb8072" stroke="#000" stroke-width="1.1"/>
<g fill="#333"><text x="3748.8 3754.2 3758.7 3765.2" y="1382.6" font-size="11">[2.5</text><text x="3775.2" y="1382.6" font-size="11">:</text><text x="3787.2 3791.7 3798.2 3803.8" y="1382.6" font-size="11">3.1)</text></g>
<rect x="3706.3" y="1390.0" width="28.6" height="10.4" fill="#ffffb3" stroke="#000" stroke-width="1.1"/>
<g fill="#333"><text x="3748.8 3754.2 3758.7 3765.2" y="1400.3" font-size="11">[3.1</text><text x="3775.2" y="1400.3" font-size="11">:</text><text x="3787.2 3791.7 3798.2 3803.8" y="1400.3" font-size="11">3.7)</text></g>
<rect x="3706.3" y="1407.6" width="28.6" height="10.4" fill="#b3de69" stroke="#000" stroke-width="1.1"/>
<g fill="#333"><text x="3748.8 3754.2 3758.7 3765.2" y="1418.0" font-size="11">[3.7</text><text x="3775.2" y="1418.0" font-size="11">:</text><text x="3787.2 3791.7 3798.2 3803.8" y="1418.0" font-size="11">4.3)</text></g>
<rect x="3706.3" y="1425.3" width="28.6" height="10.4" fill="#bebada" stroke="#000" stroke-width="1.1"/>
<g fill="#333"><text x="3748.8 3754.2 3758.7 3765.2" y="1435.7" font-size="11">[4.3</text><text x="3775.2" y="1435.7" font-size="11">:</text><text x="3787.2 3791.7 3798.2 3803.8" y="1435.7" font-size="11">4.9)</text></g>
<rect x="3706.3" y="1443.0" width="28.6" height="10.4" fill="#d9d9d9" stroke="#000" stroke-width="1.1"/>
<g fill="#333"><text x="3748.8 3754.2 3758.7 3765.2" y="1453.4" font-size="11">[4.9</text><text x="3775.2" y="1453.4" font-size="11">:</text><text x="3787.2 3791.7 3798.2 3803.8" y="1453.4" font-size="11">5.4)</text></g>
<rect x="3706.3" y="1460.7" width="28.6" height="10.4" fill="#bc80bd" stroke="#000" stroke-width="1.1"/>
<g fill="#333"><text x="3748.8 3754.2 3758.7 3765.2" y="1471.1" font-size="11">[5.4</text><text x="3775.2" y="1471.1" font-size="11">:</text><text x="3787.2 3791.7 3798.2 3803.8" y="1471.1" font-size="11">6.0)</text></g>
<rect x="3706.3" y="1478.4" width="28.6" height="10.4" fill="#fdb462" stroke="#000" stroke-width="1.1"/>
<g fill="#333"><text x="3748.8 3754.2 3758.7 3765.2" y="1488.8" font-size="11">[6.0</text><text x="3775.2" y="1488.8" font-size="11">:</text><text x="3787.2 3791.7 3798.2 3803.8" y="1488.8" font-size="11">6.6)</text></g>
<rect x="3706.3" y="1496.1" width="28.6" height="10.4" fill="#80b1d3" stroke="#000" stroke-width="1.1"/>
<g fill="#333"><text x="3748.8 3754.2 3758.7 3765.2" y="1506.5" font-size="11">&gt;6.6</text></g>
<g fill="#000"><text x="4204.5" y="1263.9" font-size="16.5">沈阳市未来24小时风向玫瑰图</text></g>
<path d="M4203.9,3003.8L4605.7,3003.8A401.8,401.8 0 0 0 4544.1,2790.0Z" fill="#80b1d3" stroke="#80b1d3" stroke-width="0.6"/>
<g fill="#000"><text x="4426.9 4431.5 4438.4" y="2941.2" font-size="11.5">8.9</text><text transform="translate(4444.2,2941.2) scale(0.6,1)" font-size="11.5">%</text></g>
<path d="M4203.9,3003.8L4544.1,2790.0A401.8,401.8 0 0 0 4488.0,2719.7Z" fill="#b3de69" stroke="#b3de69" stroke-width="0.6"/>
<g fill="#000"><text x="4383.8 4388.4 4395.3" y="2857.6" font-size="11.5">3.6</text><text transform="translate(4401.0,2857.6) scale(0.6,1)" font-size="11.5">%</text></g>
<path d="M4203.9,3003.8L4488.0,2719.7A401.8,401.8 0 0 0 4454.4,2689.7Z" fill="#8dd3c7" stroke="#8dd3c7" stroke-width="0.6"/>
<g fill="#000"><text x="4355.9 4360.5 4367.4" y="2828.2" font-size="11.5">1.8</text><text transform="translate(4373.2,2828.2) scale(0.6,1)" font-size="11.5">%</text></g>
<path d="M4203.9,3003.8L4454.4,2689.7A401.8,401.8 0 0 0 3855.9,3204.7Z" fill="#fb8072" stroke="#fb8072" stroke-width="0.6"/>
<g fill="#000"><text x="4035.1 4040.9 4045.5 4052.4" y="2825.2" font-size="11.5">44.0</text><text transform="translate(4058.1,2825.2) scale(0.6,1)" font-size="11.5">%</text></g>
<path d="M4203.9,3003.8L3855.9,3204.7A401.8,401.8 0 0 0 4559.1,3191.5Z" fill="#ffffb3" stroke="#ffffb3" stroke-width="0.6"/>
<g fill="#000"><text x="4196.9 4202.7 4207.3 4214.2" y="3249.0" font-size="11.5">33.9</text><text transform="translate(4219.9,3249.0) scale(0.6,1)" font-size="11.5">%</text></g>
<path d="M4203.9,3003.8L4559.1,3191.5A401.8,401.8 0 0 0 4605.7,3003.8Z" fill="#ffed6f" stroke="#ffed6f" stroke-width="0.6"/>
<g fill="#000"><text x="4429.3 4433.9 4440.8" y="3066.0" font-size="11.5">7.7</text><text transform="translate(4446.5,3066.0) scale(0.6,1)" font-size="11.5">%</text></g>
<g fill="#000" font-size="13.9" text-anchor="start"><text x="4006.6" y="2797.0">晴</text><text x="4392.1" y="2800.0">小雪</text><text x="4424.1" y="2835.0">中雪</text><text x="4474.1" y="2932.0">大部晴</text><text x="4476.1" y="3077.0">多云</text><text x="4209.6" y="3290.0">阴</text></g>
<g fill="#000"><text x="4204.5" y="2494.9" font-size="16.5">沈阳市未来24小时重要天气占比</text></g>
<rect x="3709.5" y="2509.5" width="91.5" height="127" rx="3" fill="#fff" fill-opacity="0.8" stroke="#ccc" stroke-width="1"/>
<rect x="3715" y="2516.8" width="27" height="9.4" fill="#80b1d3"/>
<g fill="#000"><text x="3754.5" y="2526.5" font-size="13.9" text-anchor="start">大部晴</text></g>
<rect x="3715" y="2537.0" width="27" height="9.4" fill="#b3de69"/>
<g fill="#000"><text x="3754.5" y="2546.7" font-size="13.9" text-anchor="start">中雪</text></g>
<rect x="3715" y="2557.2" width="27" height="9.4" fill="#8dd3c7"/>
<g fill="#000"><text x="3754.5" y="2566.9" font-size="13.9" text-anchor="start">小雪</text></g>
<rect x="3715" y="2577.4" width="27" height="9.4" fill="#fb8072"/>
<g fill="#000"><text x="3754.5" y="2587.1" font-size="13.9" text-anchor="start">晴</text></g>
<rect x="3715" y="2597.6" width="27" height="9.4" fill="#ffffb3"/>
<g fill="#000"><text x="3754.5" y="2607.3" font-size="13.9" text-anchor="start">阴</text></g>
<rect x="3715" y="2617.8" width="27" height="9.4" fill="#ffed6f"/>
<g fill="#000"><text x="3754.5" y="2627.5" font-size="13.9" text-anchor="start">多云</text></g>
<rect x="4549.9" y="3414.7" width="150" height="150.5" rx="25" fill="#2069c4"/>
<path d="M4568.4,3439.9H4681.7" stroke="#fff" stroke-width="12.5" stroke-linecap="round"/>
<path d="M4587.1,3465.0H4675.4" stroke="#fff" stroke-width="12.5" stroke-linecap="round"/>
<path d="M4574.8,3489.9H4650.2" stroke="#fff" stroke-width="12.5" stroke-linecap="round"/>
<path d="M4593.4,3514.9H4631.7" stroke="#fff" stroke-width="12.5" stroke-linecap="round"/>
<path d="M4618.6,3540.0H4643.9" stroke="#fff" stroke-width="12.5" stroke-linecap="round"/>
<path d="M60.5,3708.5V4712.5M144.0,3708.5V4712.5M227.6,3708.5V4712.5M311.1,3708.5V4712.5M394.6,3708.5V4712.5M478.2,3708.5V4712.5M561.7,3708.5V4712.5M645.2,3708.5V4712.5M728.8,3708.5V4712.5M812.3,3708.5V4712.5M895.8,3708.5V4712.5M979.4,3708.5V4712.5M1062.9,3708.5V4712.5M1146.4,3708.5V4712.5M1230.0,3708.5V4712.5M1313.5,3708.5V4712.5M1397.0,3708.5V4712.5M1480.6,3708.5V4712.5M1564.1,3708.5V4712.5M1647.6,3708.5V4712.5M1731.2,3708.5V4712.5M1814.7,3708.5V4712.5M1898.2,3708.5V4712.5M1981.8,3708.5V4712.5M2065.3,3708.5V4712.5M2148.8,3708.5V4712.5M2232.4,3708.5V4712.5M2315.9,3708.5V4712.5M2399.4,3708.5V4712.5M2483.0,3708.5V4712.5M2566.5,3708.5V4712.5M2650.0,3708.5V4712.5M2733.6,3708.5V4712.5M2817.1,3708.5V4712.5M2900.6,3708.5V4712.5M2984.2,3708.5V4712.5M3067.7,3708.5V4712.5M3151.2,3708.5V4712.5M3234.8,3708.5V4712.5M3318.3,3708.5V4712.5M3401.8,3708.5V4712.5M3485.3,3708.5V4712.5M3568.9,3708.5V4712.5M3652.4,3708.5V4712.5M3735.9,3708.5V4712.5M3819.5,3708.5V4712.5M3903.0,3708.5V4712.5M3986.5,3708.5V4712.5M4070.1,3708.5V4712.5M4153.6,3708.5V4712.5M4237.1,3708.5V4712.5M4320.7,3708.5V4712.5M4404.2,3708.5V4712.5M4487.7,3708.5V4712.5M4571.3,3708.5V4712.5M4654.8,3708.5V4712.5M60.5,4682.9H4710.5M60.5,4519.1H4710.5M60.5,4355.3H4710.5M60.5,4191.5H4710.5M60.5,4027.7H4710.5M60.5,3863.9H4710.5" stroke="#b4cdec" stroke-width="0.75" stroke-dasharray="3 1.3" fill="none"/>
<path d="M60.5,4666.5 60.5,4283.2 88.3,4296.3 116.2,4312.7 144.0,4338.9 171.9,4368.4 199.7,4391.3 227.6,4404.4 255.4,4411.0 283.3,4404.4 311.1,4381.5 338.9,4345.5 366.8,4309.4 394.6,4276.7 422.5,4247.2 450.3,4227.5 478.2,4221.0 506.0,4230.8 533.9,4250.5 561.7,4293.1 589.5,4348.7 617.4,4394.6 645.2,4417.5 673.1,4433.9 700.9,4443.8 728.8,4456.9 756.6,4466.7 784.5,4476.5 812.3,4489.6 840.1,4502.7 868.0,4502.7 895.8,4479.8 923.7,4443.8 951.5,4397.9 979.4,4329.1 1007.2,4243.9 1035.1,4178.4 1062.9,4132.5 1090.7,4103.0 1118.6,4089.9 1146.4,4093.2 1174.3,4109.6 1202.1,4139.1 1230.0,4188.2 1257.8,4243.9 1285.6,4296.3 1313.5,4332.4 1341.3,4358.6 1369.2,4378.2 1397.0,4388.1 1424.9,4391.3 1452.7,4397.9 1480.6,4417.5 1508.4,4440.5 1536.2,4450.3 1564.1,4443.8 1591.9,4420.8 1619.8,4381.5 1647.6,4319.3 1675.5,4240.6 1703.3,4178.4 1731.2,4135.8 1759.0,4109.6 1786.8,4096.5 1814.7,4096.5 1842.5,4112.9 1870.4,4139.1 1898.2,4178.4 1926.1,4224.3 1953.9,4266.8 1981.8,4299.6 2009.6,4322.5 2037.4,4338.9 2065.3,4332.4 2093.1,4316.0 2121.0,4302.9 2148.8,4302.9 2176.7,4302.9 2204.5,4296.3 2232.4,4283.2 2260.2,4260.3 2288.0,4221.0 2315.9,4139.1 2343.7,4040.8 2371.6,3962.2 2399.4,3916.3 2427.3,3890.1 2455.1,3883.6 2483.0,3899.9 2510.8,3936.0 2538.6,3978.6 2566.5,4021.1 2594.3,4073.6 2622.2,4112.9 2650.0,4135.8 2677.9,4148.9 2705.7,4158.7 2733.6,4165.3 2761.4,4168.6 2789.2,4188.2 2817.1,4237.4 2844.9,4306.2 2872.8,4368.4 2900.6,4417.5 2928.5,4456.9 2956.3,4479.8 2984.2,4470.0 3012.0,4440.5 3039.8,4407.7 3067.7,4375.0 3095.5,4342.2 3123.4,4319.3 3151.2,4309.4 3179.1,4309.4 3206.9,4319.3 3234.8,4348.7 3262.6,4388.1 3290.4,4420.8 3318.3,4433.9 3346.1,4440.5 3374.0,4447.0 3401.8,4456.9 3429.7,4466.7 3457.5,4470.0 3485.3,4473.2 3513.2,4470.0 3541.0,4456.9 3568.9,4420.8 3596.7,4371.7 3624.6,4312.7 3652.4,4247.2 3680.3,4168.6 3708.1,4109.6 3735.9,4070.3 3763.8,4047.4 3791.6,4047.4 3819.5,4080.1 3847.3,4132.5 3875.2,4191.5 3903.0,4250.5 3930.9,4312.7 3958.7,4361.9 3986.5,4394.6 4014.4,4417.5 4042.2,4437.2 4070.1,4450.3 4097.9,4460.1 4125.8,4466.7 4153.6,4470.0 4181.5,4470.0 4209.3,4463.4 4237.1,4453.6 4265.0,4440.5 4292.8,4417.5 4320.7,4378.2 4348.5,4325.8 4376.4,4280.0 4404.2,4234.1 4432.1,4191.5 4459.9,4165.3 4487.7,4168.6 4515.6,4191.5 4543.4,4221.0 4571.3,4250.5 4599.1,4286.5 4627.0,4319.3 4654.8,4345.5 4682.7,4368.4 4710.5,4388.1 4710.5,4666.5Z" fill="#fb8072" fill-opacity="0.12"/>
<path d="M60.5,4666.5 60.5,4394.6 88.3,4420.8 116.2,4456.9 144.0,4496.2 171.9,4528.9 199.7,4555.1 227.6,4574.8 255.4,4587.9 283.3,4584.6 311.1,4558.4 338.9,4519.1 366.8,4466.7 394.6,4424.1 422.5,4391.3 450.3,4378.2 478.2,4384.8 506.0,4388.1 533.9,4404.4 561.7,4440.5 589.5,4489.6 617.4,4532.2 645.2,4555.1 673.1,4568.2 700.9,4578.1 728.8,4587.9 756.6,4594.4 784.5,4601.0 812.3,4614.1 840.1,4623.9 868.0,4620.7 895.8,4604.3 923.7,4571.5 951.5,4525.7 979.4,4456.9 1007.2,4378.2 1035.1,4299.6 1062.9,4250.5 1090.7,4227.5 1118.6,4221.0 1146.4,4237.4 1174.3,4240.6 1202.1,4263.6 1230.0,4319.3 1257.8,4391.3 1285.6,4447.0 1313.5,4470.0 1341.3,4486.3 1369.2,4506.0 1397.0,4522.4 1424.9,4535.5 1452.7,4548.6 1480.6,4568.2 1508.4,4591.2 1536.2,4601.0 1564.1,4594.4 1591.9,4574.8 1619.8,4538.8 1647.6,4470.0 1675.5,4378.2 1703.3,4286.5 1731.2,4234.1 1759.0,4217.7 1786.8,4224.3 1814.7,4224.3 1842.5,4221.0 1870.4,4243.9 1898.2,4289.8 1926.1,4338.9 1953.9,4384.8 1981.8,4424.1 2009.6,4450.3 2037.4,4470.0 2065.3,4470.0 2093.1,4463.4 2121.0,4456.9 2148.8,4456.9 2176.7,4460.1 2204.5,4450.3 2232.4,4433.9 2260.2,4411.0 2288.0,4371.7 2315.9,4296.3 2343.7,4204.6 2371.6,4126.0 2399.4,4086.7 2427.3,4076.8 2455.1,4083.4 2483.0,4096.5 2510.8,4126.0 2538.6,4158.7 2566.5,4191.5 2594.3,4234.1 2622.2,4270.1 2650.0,4296.3 2677.9,4309.4 2705.7,4322.5 2733.6,4325.8 2761.4,4329.1 2789.2,4342.2 2817.1,4375.0 2844.9,4463.4 2872.8,4548.6 2900.6,4607.6 2928.5,4646.9 2956.3,4663.2 2984.2,4653.4 3012.0,4623.9 3039.8,4587.9 3067.7,4532.2 3095.5,4476.5 3123.4,4453.6 3151.2,4460.1 3179.1,4453.6 3206.9,4456.9 3234.8,4473.2 3262.6,4509.3 3290.4,4548.6 3318.3,4574.8 3346.1,4591.2 3374.0,4604.3 3401.8,4617.4 3429.7,4627.2 3457.5,4633.8 3485.3,4643.6 3513.2,4646.9 3541.0,4637.0 3568.9,4604.3 3596.7,4555.1 3624.6,4502.7 3652.4,4433.9 3680.3,4358.6 3708.1,4286.5 3735.9,4253.7 3763.8,4250.5 3791.6,4260.3 3819.5,4273.4 3847.3,4299.6 3875.2,4361.9 3903.0,4433.9 3930.9,4499.4 3958.7,4558.4 3986.5,4591.2 4014.4,4610.8 4042.2,4627.2 4070.1,4637.0 4097.9,4643.6 4125.8,4646.9 4153.6,4646.9 4181.5,4643.6 4209.3,4637.0 4237.1,4627.2 4265.0,4614.1 4292.8,4591.2 4320.7,4558.4 4348.5,4512.5 4376.4,4466.7 4404.2,4411.0 4432.1,4371.7 4459.9,4358.6 4487.7,4368.4 4515.6,4378.2 4543.4,4391.3 4571.3,4414.3 4599.1,4440.5 4627.0,4470.0 4654.8,4496.2 4682.7,4519.1 4710.5,4535.5 4710.5,4666.5Z" fill="#b3de69" fill-opacity="0.1"/>
<path d="M60.5,4666.5 60.5,4312.7 88.3,4329.1 116.2,4345.5 144.0,4375.0 171.9,4404.4 199.7,4417.5 227.6,4407.7 255.4,4381.5 283.3,4342.2 311.1,4276.7 338.9,4194.8 366.8,4129.3 394.6,4083.4 422.5,4053.9 450.3,4053.9 478.2,4106.3 506.0,4191.5 533.9,4276.7 561.7,4355.3 589.5,4427.4 617.4,4486.3 645.2,4512.5 673.1,4519.1 700.9,4522.4 728.8,4532.2 756.6,4538.8 784.5,4548.6 812.3,4565.0 840.1,4584.6 868.0,4568.2 895.8,4506.0 923.7,4407.7 951.5,4306.2 979.4,4184.9 1007.2,4060.5 1035.1,3975.3 1062.9,3939.2 1090.7,3939.2 1118.6,3968.7 1146.4,4034.3 1174.3,4126.0 1202.1,4214.4 1230.0,4293.1 1257.8,4368.4 1285.6,4427.4 1313.5,4463.4 1341.3,4479.8 1369.2,4492.9 1397.0,4492.9 1424.9,4486.3 1452.7,4486.3 1480.6,4502.7 1508.4,4522.4 1536.2,4515.8 1564.1,4466.7 1591.9,4388.1 1619.8,4302.9 1647.6,4194.8 1675.5,4070.3 1703.3,3981.8 1731.2,3936.0 1759.0,3926.1 1786.8,3942.5 1814.7,4004.8 1842.5,4093.2 1870.4,4178.4 1898.2,4250.5 1926.1,4309.4 1953.9,4355.3 1981.8,4388.1 2009.6,4404.4 2037.4,4411.0 2065.3,4401.2 2093.1,4384.8 2121.0,4368.4 2148.8,4365.1 2176.7,4365.1 2204.5,4348.7 2232.4,4316.0 2260.2,4263.6 2288.0,4191.5 2315.9,4083.4 2343.7,3955.6 2371.6,3860.6 2399.4,3818.0 2427.3,3811.5 2455.1,3831.1 2483.0,3877.0 2510.8,3955.6 2538.6,4021.1 2566.5,4080.1 2594.3,4132.5 2622.2,4171.8 2650.0,4191.5 2677.9,4201.3 2705.7,4211.2 2733.6,4217.7 2761.4,4224.3 2789.2,4243.9 2817.1,4276.7 2844.9,4325.8 2872.8,4368.4 2900.6,4407.7 2928.5,4440.5 2956.3,4447.0 2984.2,4407.7 3012.0,4342.2 3039.8,4283.2 3067.7,4234.1 3095.5,4191.5 3123.4,4184.9 3151.2,4217.7 3179.1,4286.5 3206.9,4355.3 3234.8,4437.2 3262.6,4512.5 3290.4,4568.2 3318.3,4578.1 3346.1,4565.0 3374.0,4551.9 3401.8,4545.3 3429.7,4545.3 3457.5,4538.8 3485.3,4542.0 3513.2,4542.0 3541.0,4519.1 3568.9,4466.7 3596.7,4394.6 3624.6,4312.7 3652.4,4221.0 3680.3,4132.5 3708.1,4060.5 3735.9,4027.7 3763.8,4014.6 3791.6,4024.4 3819.5,4060.5 3847.3,4119.4 3875.2,4184.9 3903.0,4263.6 3930.9,4342.2 3958.7,4407.7 3986.5,4447.0 4014.4,4470.0 4042.2,4486.3 4070.1,4492.9 4097.9,4492.9 4125.8,4489.6 4153.6,4476.5 4181.5,4453.6 4209.3,4430.6 4237.1,4401.2 4265.0,4368.4 4292.8,4329.1 4320.7,4276.7 4348.5,4217.7 4376.4,4162.0 4404.2,4112.9 4432.1,4073.6 4459.9,4060.5 4487.7,4089.9 4515.6,4152.2 4543.4,4217.7 4571.3,4286.5 4599.1,4361.9 4627.0,4420.8 4654.8,4460.1 4682.7,4479.8 4710.5,4492.9 4710.5,4666.5Z" fill="#2a6fc4" fill-opacity="0.115"/>
<path d="M60.5,4283.2 88.3,4296.3 116.2,4312.7 144.0,4338.9 171.9,4368.4 199.7,4391.3 227.6,4404.4 255.4,4411.0 283.3,4404.4 311.1,4381.5 338.9,4345.5 366.8,4309.4 394.6,4276.7 422.5,4247.2 450.3,4227.5 478.2,4221.0 506.0,4230.8 533.9,4250.5 561.7,4293.1 589.5,4348.7 617.4,4394.6 645.2,4417.5 673.1,4433.9 700.9,4443.8 728.8,4456.9 756.6,4466.7 784.5,4476.5 812.3,4489.6 840.1,4502.7 868.0,4502.7 895.8,4479.8 923.7,4443.8 951.5,4397.9 979.4,4329.1 1007.2,4243.9 1035.1,4178.4 1062.9,4132.5 1090.7,4103.0 1118.6,4089.9 1146.4,4093.2 1174.3,4109.6 1202.1,4139.1 1230.0,4188.2 1257.8,4243.9 1285.6,4296.3 1313.5,4332.4 1341.3,4358.6 1369.2,4378.2 1397.0,4388.1 1424.9,4391.3 1452.7,4397.9 1480.6,4417.5 1508.4,4440.5 1536.2,4450.3 1564.1,4443.8 1591.9,4420.8 1619.8,4381.5 1647.6,4319.3 1675.5,4240.6 1703.3,4178.4 1731.2,4135.8 1759.0,4109.6 1786.8,4096.5 1814.7,4096.5 1842.5,4112.9 1870.4,4139.1 1898.2,4178.4 1926.1,4224.3 1953.9,4266.8 1981.8,4299.6 2009.6,4322.5 2037.4,4338.9 2065.3,4332.4 2093.1,4316.0 2121.0,4302.9 2148.8,4302.9 2176.7,4302.9 2204.5,4296.3 2232.4,4283.2 2260.2,4260.3 2288.0,4221.0 2315.9,4139.1 2343.7,4040.8 2371.6,3962.2 2399.4,3916.3 2427.3,3890.1 2455.1,3883.6 2483.0,3899.9 2510.8,3936.0 2538.6,3978.6 2566.5,4021.1 2594.3,4073.6 2622.2,4112.9 2650.0,4135.8 2677.9,4148.9 2705.7,4158.7 2733.6,4165.3 2761.4,4168.6 2789.2,4188.2 2817.1,4237.4 2844.9,4306.2 2872.8,4368.4 2900.6,4417.5 2928.5,4456.9 2956.3,4479.8 2984.2,4470.0 3012.0,4440.5 3039.8,4407.7 3067.7,4375.0 3095.5,4342.2 3123.4,4319.3 3151.2,4309.4 3179.1,4309.4 3206.9,4319.3 3234.8,4348.7 3262.6,4388.1 3290.4,4420.8 3318.3,4433.9 3346.1,4440.5 3374.0,4447.0 3401.8,4456.9 3429.7,4466.7 3457.5,4470.0 3485.3,4473.2 3513.2,4470.0 3541.0,4456.9 3568.9,4420.8 3596.7,4371.7 3624.6,4312.7 3652.4,4247.2 3680.3,4168.6 3708.1,4109.6 3735.9,4070.3 3763.8,4047.4 3791.6,4047.4 3819.5,4080.1 3847.3,4132.5 3875.2,4191.5 3903.0,4250.5 3930.9,4312.7 3958.7,4361.9 3986.5,4394.6 4014.4,4417.5 4042.2,4437.2 4070.1,4450.3 4097.9,4460.1 4125.8,4466.7 4153.6,4470.0 4181.5,4470.0 4209.3,4463.4 4237.1,4453.6 4265.0,4440.5 4292.8,4417.5 4320.7,4378.2 4348.5,4325.8 4376.4,4280.0 4404.2,4234.1 4432.1,4191.5 4459.9,4165.3 4487.7,4168.6 4515.6,4191.5 4543.4,4221.0 4571.3,4250.5 4599.1,4286.5 4627.0,4319.3 4654.8,4345.5 4682.7,4368.4 4710.5,4388.1" fill="none" stroke="#fb8072" stroke-width="3" stroke-linejoin="round"/>
<path d="M60.5,4394.6 88.3,4420.8 116.2,4456.9 144.0,4496.2 171.9,4528.9 199.7,4555.1 227.6,4574.8 255.4,4587.9 283.3,4584.6 311.1,4558.4 338.9,4519.1 366.8,4466.7 394.6,4424.1 422.5,4391.3 450.3,4378.2 478.2,4384.8 506.0,4388.1 533.9,4404.4 561.7,4440.5 589.5,4489.6 617.4,4532.2 645.2,4555.1 673.1,4568.2 700.9,4578.1 728.8,4587.9 756.6,4594.4 784.5,4601.0 812.3,4614.1 840.1,4623.9 868.0,4620.7 895.8,4604.3 923.7,4571.5 951.5,4525.7 979.4,4456.9 1007.2,4378.2 1035.1,4299.6 1062.9,4250.5 1090.7,4227.5 1118.6,4221.0 1146.4,4237.4 1174.3,4240.6 1202.1,4263.6 1230.0,4319.3 1257.8,4391.3 1285.6,4447.0 1313.5,4470.0 1341.3,4486.3 1369.2,4506.0 1397.0,4522.4 1424.9,4535.5 1452.7,4548.6 1480.6,4568.2 1508.4,4591.2 1536.2,4601.0 1564.1,4594.4 1591.9,4574.8 1619.8,4538.8 1647.6,4470.0 1675.5,4378.2 1703.3,4286.5 1731.2,4234.1 1759.0,4217.7 1786.8,4224.3 1814.7,4224.3 1842.5,4221.0 1870.4,4243.9 1898.2,4289.8 1926.1,4338.9 1953.9,4384.8 1981.8,4424.1 2009.6,4450.3 2037.4,4470.0 2065.3,4470.0 2093.1,4463.4 2121.0,4456.9 2148.8,4456.9 2176.7,4460.1 2204.5,4450.3 2232.4,4433.9 2260.2,4411.0 2288.0,4371.7 2315.9,4296.3 2343.7,4204.6 2371.6,4126.0 2399.4,4086.7 2427.3,4076.8 2455.1,4083.4 2483.0,4096.5 2510.8,4126.0 2538.6,4158.7 2566.5,4191.5 2594.3,4234.1 2622.2,4270.1 2650.0,4296.3 2677.9,4309.4 2705.7,4322.5 2733.6,4325.8 2761.4,4329.1 2789.2,4342.2 2817.1,4375.0 2844.9,4463.4 2872.8,4548.6 2900.6,4607.6 2928.5,4646.9 2956.3,4663.2 2984.2,4653.4 3012.0,4623.9 3039.8,4587.9 3067.7,4532.2 3095.5,4476.5 3123.4,4453.6 3151.2,4460.1 3179.1,4453.6 3206.9,4456.9 3234.8,4473.2 3262.6,4509.3 3290.4,4548.6 3318.3,4574.8 3346.1,4591.2 3374.0,4604.3 3401.8,4617.4 3429.7,4627.2 3457.5,4633.8 3485.3,4643.6 3513.2,4646.9 3541.0,4637.0 3568.9,4604.3 3596.7,4555.1 3624.6,4502.7 3652.4,4433.9 3680.3,4358.6 3708.1,4286.5 3735.9,4253.7 3763.8,4250.5 3791.6,4260.3 3819.5,4273.4 3847.3,4299.6 3875.2,4361.9 3903.0,4433.9 3930.9,4499.4 3958.7,4558.4 3986.5,4591.2 4014.4,4610.8 4042.2,4627.2 4070.1,4637.0 4097.9,4643.6 4125.8,4646.9 4153.6,4646.9 4181.5,4643.6 4209.3,4637.0 4237.1,4627.2 4265.0,4614.1 4292.8,4591.2 4320.7,4558.4 4348.5,4512.5 4376.4,4466.7 4404.2,4411.0 4432.1,4371.7 4459.9,4358.6 4487.7,4368.4 4515.6,4378.2 4543.4,4391.3 4571.3,4414.3 4599.1,4440.5 4627.0,4470.0 4654.8,4496.2 4682.7,4519.1 4710.5,4535.5" fill="none" stroke="#b3de69" stroke-width="1.5" stroke-linejoin="round"/>
<path d="M60.5,4312.7 88.3,4329.1 116.2,4345.5 144.0,4375.0 171.9,4404.4 199.7,4417.5 227.6,4407.7 255.4,4381.5 283.3,4342.2 311.1,4276.7 338.9,4194.8 366.8,4129.3 394.6,4083.4 422.5,4053.9 450.3,4053.9 478.2,4106.3 506.0,4191.5 533.9,4276.7 561.7,4355.3 589.5,4427.4 617.4,4486.3 645.2,4512.5 673.1,4519.1 700.9,4522.4 728.8,4532.2 756.6,4538.8 784.5,4548.6 812.3,4565.0 840.1,4584.6 868.0,4568.2 895.8,4506.0 923.7,4407.7 951.5,4306.2 979.4,4184.9 1007.2,4060.5 1035.1,3975.3 1062.9,3939.2 1090.7,3939.2 1118.6,3968.7 1146.4,4034.3 1174.3,4126.0 1202.1,4214.4 1230.0,4293.1 1257.8,4368.4 1285.6,4427.4 1313.5,4463.4 1341.3,4479.8 1369.2,4492.9 1397.0,4492.9 1424.9,4486.3 1452.7,4486.3 1480.6,4502.7 1508.4,4522.4 1536.2,4515.8 1564.1,4466.7 1591.9,4388.1 1619.8,4302.9 1647.6,4194.8 1675.5,4070.3 1703.3,3981.8 1731.2,3936.0 1759.0,3926.1 1786.8,3942.5 1814.7,4004.8 1842.5,4093.2 1870.4,4178.4 1898.2,4250.5 1926.1,4309.4 1953.9,4355.3 1981.8,4388.1 2009.6,4404.4 2037.4,4411.0 2065.3,4401.2 2093.1,4384.8 2121.0,4368.4 2148.8,4365.1 2176.7,4365.1 2204.5,4348.7 2232.4,4316.0 2260.2,4263.6 2288.0,4191.5 2315.9,4083.4 2343.7,3955.6 2371.6,3860.6 2399.4,3818.0 2427.3,3811.5 2455.1,3831.1 2483.0,3877.0 2510.8,3955.6 2538.6,4021.1 2566.5,4080.1 2594.3,4132.5 2622.2,4171.8 2650.0,4191.5 2677.9,4201.3 2705.7,4211.2 2733.6,4217.7 2761.4,4224.3 2789.2,4243.9 2817.1,4276.7 2844.9,4325.8 2872.8,4368.4 2900.6,4407.7 2928.5,4440.5 2956.3,4447.0 2984.2,4407.7 3012.0,4342.2 3039.8,4283.2 3067.7,4234.1 3095.5,4191.5 3123.4,4184.9 3151.2,4217.7 3179.1,4286.5 3206.9,4355.3 3234.8,4437.2 3262.6,4512.5 3290.4,4568.2 3318.3,4578.1 3346.1,4565.0 3374.0,4551.9 3401.8,4545.3 3429.7,4545.3 3457.5,4538.8 3485.3,4542.0 3513.2,4542.0 3541.0,4519.1 3568.9,4466.7 3596.7,4394.6 3624.6,4312.7 3652.4,4221.0 3680.3,4132.5 3708.1,4060.5 3735.9,4027.7 3763.8,4014.6 3791.6,4024.4 3819.5,4060.5 3847.3,4119.4 3875.2,4184.9 3903.0,4263.6 3930.9,4342.2 3958.7,4407.7 3986.5,4447.0 4014.4,4470.0 4042.2,4486.3 4070.1,4492.9 4097.9,4492.9 4125.8,4489.6 4153.6,4476.5 4181.5,4453.6 4209.3,4430.6 4237.1,4401.2 4265.0,4368.4 4292.8,4329.1 4320.7,4276.7 4348.5,4217.7 4376.4,4162.0 4404.2,4112.9 4432.1,4073.6 4459.9,4060.5 4487.7,4089.9 4515.6,4152.2 4543.4,4217.7 4571.3,4286.5 4599.1,4361.9 4627.0,4420.8 4654.8,4460.1 4682.7,4479.8 4710.5,4492.9" fill="none" stroke="#2a6fc4" stroke-width="1.6" stroke-linejoin="round"/>
<path d="M60.5,4666.5H4710.5" stroke="#c8ccd0" stroke-width="0.8"/>
<rect x="726.4" y="3749.8" width="4.8" height="885.4" fill="#bc80bd"/>
<rect x="1394.6" y="3749.8" width="4.8" height="885.4" fill="#bc80bd"/>
<rect x="2062.9" y="3749.8" width="4.8" height="885.4" fill="#bc80bd"/>
<rect x="2731.2" y="3749.8" width="4.8" height="885.4" fill="#bc80bd"/>
<rect x="3399.4" y="3749.8" width="4.8" height="885.4" fill="#bc80bd"/>
<rect x="4067.7" y="3749.8" width="4.8" height="885.4" fill="#bc80bd"/>
<g fill="#bc80bd" font-size="21.7"><text x="394.0" y="3749.8">03月14日</text><text x="1062.2" y="3749.8">03月15日</text><text x="1730.5" y="3749.8">03月16日</text><text x="2398.7" y="3749.8">03月17日</text><text x="3067.0" y="3749.8">03月18日</text><text x="3735.3" y="3749.8">03月19日</text><text x="4403.5" y="3749.8">03月20日</text></g>
<g font-size="15"><text x="478.2" y="4218.4" fill="#fb8072">4.1℃</text><text x="700.9" y="4458.2" fill="#80b1d3">−2.7℃</text><text x="1118.6" y="4087.3" fill="#fb8072">8.1℃</text><text x="840.1" y="4517.1" fill="#80b1d3">−4.5℃</text><text x="1786.8" y="4093.9" fill="#fb8072">7.9℃</text><text x="1536.2" y="4464.7" fill="#80b1d3">−2.9℃</text><text x="2455.1" y="3881.0" fill="#fb8072">14.4℃</text><text x="2065.3" y="4346.8" fill="#80b1d3">0.7℃</text><text x="2733.6" y="4162.7" fill="#fb8072">5.8℃</text><text x="2956.3" y="4494.2" fill="#80b1d3">−3.8℃</text><text x="3763.8" y="4044.8" fill="#fb8072">9.4℃</text><text x="3485.3" y="4487.6" fill="#80b1d3">−3.6℃</text><text x="4459.9" y="4162.7" fill="#fb8072">5.8℃</text><text x="4153.6" y="4484.4" fill="#80b1d3">−3.5℃</text></g>
<rect x="60.5" y="3708.5" width="4650.0" height="1004.0" fill="none" stroke="#000" stroke-width="1.1"/>
<g fill="#000" font-size="13.9"><text x="60.5" y="4733.3">14日00时</text><text x="144.0" y="4733.3">14日03时</text><text x="227.6" y="4733.3">14日06时</text><text x="311.1" y="4733.3">14日09时</text><text x="394.6" y="4733.3">14日12时</text><text x="478.2" y="4733.3">14日15时</text><text x="561.7" y="4733.3">14日18时</text><text x="645.2" y="4733.3">14日21时</text><text x="728.8" y="4733.3">15日00时</text><text x="812.3" y="4733.3">15日03时</text><text x="895.8" y="4733.3">15日06时</text><text x="979.4" y="4733.3">15日09时</text><text x="1062.9" y="4733.3">15日12时</text><text x="1146.4" y="4733.3">15日15时</text><text x="1230.0" y="4733.3">15日18时</text><text x="1313.5" y="4733.3">15日21时</text><text x="1397.0" y="4733.3">16日00时</text><text x="1480.6" y="4733.3">16日03时</text><text x="1564.1" y="4733.3">16日06时</text><text x="1647.6" y="4733.3">16日09时</text><text x="1731.2" y="4733.3">16日12时</text><text x="1814.7" y="4733.3">16日15时</text><text x="1898.2" y="4733.3">16日18时</text><text x="1981.8" y="4733.3">16日21时</text><text x="2065.3" y="4733.3">17日00时</text><text x="2148.8" y="4733.3">17日03时</text><text x="2232.4" y="4733.3">17日06时</text><text x="2315.9" y="4733.3">17日09时</text><text x="2399.4" y="4733.3">17日12时</text><text x="2483.0" y="4733.3">17日15时</text><text x="2566.5" y="4733.3">17日18时</text><text x="2650.0" y="4733.3">17日21时</text><text x="2733.6" y="4733.3">18日00时</text><text x="2817.1" y="4733.3">18日03时</text><text x="2900.6" y="4733.3">18日06时</text><text x="2984.2" y="4733.3">18日09时</text><text x="3067.7" y="4733.3">18日12时</text><text x="3151.2" y="4733.3">18日15时</text><text x="3234.8" y="4733.3">18日18时</text><text x="3318.3" y="4733.3">18日21时</text><text x="3401.8" y="4733.3">19日00时</text><text x="3485.3" y="4733.3">19日03时</text><text x="3568.9" y="4733.3">19日06时</text><text x="3652.4" y="4733.3">19日09时</text><text x="3735.9" y="4733.3">19日12时</text><text x="3819.5" y="4733.3">19日15时</text><text x="3903.0" y="4733.3">19日18时</text><text x="3986.5" y="4733.3">19日21时</text><text x="4070.1" y="4733.3">20日00时</text><text x="4153.6" y="4733.3">20日03时</text><text x="4237.1" y="4733.3">20日06时</text><text x="4320.7" y="4733.3">20日09时</text><text x="4404.2" y="4733.3">20日12时</text><text x="4487.7" y="4733.3">20日15时</text><text x="4571.3" y="4733.3">20日18时</text><text x="4654.8" y="4733.3">20日21时</text></g>
<g fill="#000"><text x="32.6 39.6 46.5" y="4687.9" font-size="13.9">−10</text></g>
<g fill="#000"><text x="39.6 46.5" y="4524.1" font-size="13.9">−5</text></g>
<g fill="#000"><text x="46.5" y="4360.3" font-size="13.9">0</text></g>
<g fill="#000"><text x="46.5" y="4196.5" font-size="13.9">5</text></g>
<g fill="#000"><text x="39.6 46.5" y="4032.7" font-size="13.9">10</text></g>
<g fill="#000"><text x="39.6 46.5" y="3868.9" font-size="13.9">15</text></g>
<path d="M60.5,4712.5v5M144.0,4712.5v5M227.6,4712.5v5M311.1,4712.5v5M394.6,4712.5v5M478.2,4712.5v5M561.7,4712.5v5M645.2,4712.5v5M728.8,4712.5v5M812.3,4712.5v5M895.8,4712.5v5M979.4,4712.5v5M1062.9,4712.5v5M1146.4,4712.5v5M1230.0,4712.5v5M1313.5,4712.5v5M1397.0,4712.5v5M1480.6,4712.5v5M1564.1,4712.5v5M1647.6,4712.5v5M1731.2,4712.5v5M1814.7,4712.5v5M1898.2,4712.5v5M1981.8,4712.5v5M2065.3,4712.5v5M2148.8,4712.5v5M2232.4,4712.5v5M2315.9,4712.5v5M2399.4,4712.5v5M2483.0,4712.5v5M2566.5,4712.5v5M2650.0,4712.5v5M2733.6,4712.5v5M2817.1,4712.5v5M2900.6,4712.5v5M2984.2,4712.5v5M3067.7,4712.5v5M3151.2,4712.5v5M3234.8,4712.5v5M3318.3,4712.5v5M3401.8,4712.5v5M3485.3,4712.5v5M3568.9,4712.5v5M3652.4,4712.5v5M3735.9,4712.5v5M3819.5,4712.5v5M3903.0,4712.5v5M3986.5,4712.5v5M4070.1,4712.5v5M4153.6,4712.5v5M4237.1,4712.5v5M4320.7,4712.5v5M4404.2,4712.5v5M4487.7,4712.5v5M4571.3,4712.5v5M4654.8,4712.5v5M60.5,4682.9h-5M60.5,4519.1h-5M60.5,4355.3h-5M60.5,4191.5h-5M60.5,4027.7h-5M60.5,3863.9h-5" stroke="#000" stroke-width="1.1" fill="none"/>
<rect x="68.5" y="3716" width="127" height="78.5" rx="3" fill="#fff" fill-opacity="0.8" stroke="#ccc" stroke-width="1"/>
<path d="M75,3731.5h34" stroke="#fb8072" stroke-width="3"/><path d="M75,3756h34" stroke="#b3de69" stroke-width="1.5"/><path d="M75,3780.5h34" stroke="#2a6fc4" stroke-width="1.6"/>
<g fill="#000"><text x="122.0" y="3737.4" font-size="16.5" text-anchor="start">气温</text></g>
<g fill="#000"><text x="122.0" y="3761.9" font-size="16.5" text-anchor="start">体感温度</text></g>
<g fill="#000"><text x="122.0" y="3786.4" font-size="16.5" text-anchor="start">地表温度</text></g>
<g fill="#000"><text x="2384.7" y="45.1" font-size="41.5">沈阳市未来一周降水量、相对湿度、总云量变化趋势</text></g>
<g fill="#000"><text x="2384.7" y="3661.2" font-size="41.5">沈阳市未来一周气温、体感温度、地表温度变化趋势</text></g></svg></body></html>
